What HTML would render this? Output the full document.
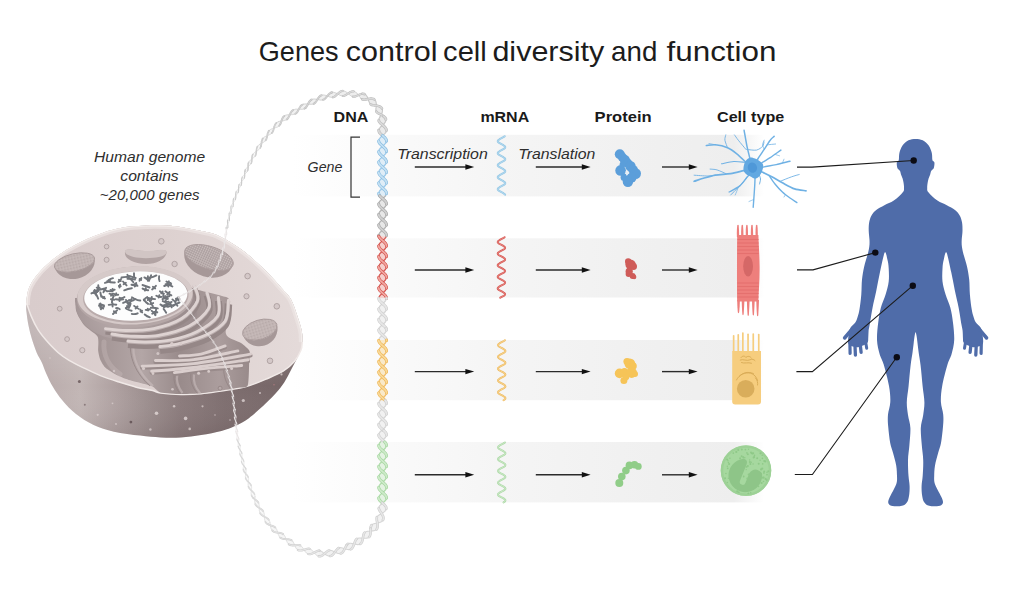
<!DOCTYPE html>
<html lang="en"><head><meta charset="utf-8"><title>Genes control cell diversity and function</title>
<style>
html,body{margin:0;padding:0;background:#fff}
body{width:1024px;height:591px;overflow:hidden;font-family:"Liberation Sans",sans-serif}
svg{display:block}
text{font-family:"Liberation Sans",sans-serif;fill:#2a2a2a}
.t{font-size:27.2px;fill:#1c1c1c}
.h{font-weight:bold;font-size:15.4px;fill:#1a1a1a}
.i{font-style:italic;font-size:15.3px;fill:#2e2e2e}
</style></head><body>
<svg width="1024" height="591" viewBox="0 0 1024 591">
<defs><linearGradient id="band" gradientUnits="userSpaceOnUse" x1="292" y1="0" x2="764" y2="0">
<stop offset="0" stop-color="#fff"/><stop offset="0.08" stop-color="#fdfdfd"/><stop offset="0.21" stop-color="#fafafa"/><stop offset="0.44" stop-color="#f5f5f5"/><stop offset="0.695" stop-color="#f1f1f1"/><stop offset="0.936" stop-color="#eeeeee"/><stop offset="1" stop-color="#fff"/></linearGradient>
<linearGradient id="cside" gradientUnits="userSpaceOnUse" x1="25" y1="0" x2="302" y2="0">
<stop offset="0" stop-color="#b4a6a6"/><stop offset="0.2" stop-color="#c2b6b5"/><stop offset="0.33" stop-color="#aea0a0"/><stop offset="0.45" stop-color="#9a8c8c"/><stop offset="0.56" stop-color="#8a7a7b"/><stop offset="0.72" stop-color="#7d6d6e"/><stop offset="1" stop-color="#746465"/></linearGradient>
<linearGradient id="csideV" gradientUnits="userSpaceOnUse" x1="0" y1="330" x2="0" y2="442">
<stop offset="0" stop-color="#fff" stop-opacity="0.18"/><stop offset="0.5" stop-color="#fff" stop-opacity="0"/><stop offset="1" stop-color="#3b292b" stop-opacity="0.14"/></linearGradient>
<linearGradient id="ctop" gradientUnits="userSpaceOnUse" x1="30" y1="300" x2="300" y2="300">
<stop offset="0" stop-color="#d9cccc"/><stop offset="0.5" stop-color="#ddd1d0"/><stop offset="1" stop-color="#e4dad9"/></linearGradient>
<linearGradient id="cbowl" gradientUnits="userSpaceOnUse" x1="95" y1="0" x2="250" y2="0">
<stop offset="0" stop-color="#a19393"/><stop offset="0.3" stop-color="#b3a6a6"/><stop offset="0.55" stop-color="#998b8b"/><stop offset="0.8" stop-color="#ab9d9d"/><stop offset="1" stop-color="#988a8a"/></linearGradient>
<radialGradient id="cnuc" gradientUnits="userSpaceOnUse" cx="120" cy="310" r="60">
<stop offset="0" stop-color="#bcafaf"/><stop offset="1" stop-color="#9c8e8f"/></radialGradient>
<pattern id="hatch" width="2.2" height="2.2" patternUnits="userSpaceOnUse" patternTransform="rotate(8)">
<rect width="2.2" height="2.2" fill="#c7bbba"/><path d="M0 0.5H2.2M0.5 0V2.2" stroke="#a19393" stroke-width="0.5"/></pattern>
<pattern id="speck" width="3" height="3" patternUnits="userSpaceOnUse">
<rect width="3" height="3" fill="#c2b5b4"/><circle cx="0.8" cy="0.8" r="0.5" fill="#a59797"/><circle cx="2.2" cy="2.1" r="0.5" fill="#d4c8c7"/></pattern>
<clipPath id="cellclip"><path d="M26.3 305.0C26.2 307.7 26.1 308.6 26.5 312.0C26.9 315.4 27.6 321.1 28.5 325.6C29.4 330.1 30.5 334.6 31.9 339.1C33.3 343.6 35.1 348.8 36.7 352.7C38.4 356.6 40.2 359.0 41.8 362.5C43.4 366.0 44.3 369.4 46.2 373.5C48.1 377.6 50.3 382.6 53.0 387.1C55.7 391.6 58.7 396.1 62.5 400.6C66.3 405.1 70.8 410.0 76.0 414.1C81.2 418.2 87.3 422.1 93.6 425.0C99.9 427.9 106.1 429.9 113.9 431.7C121.7 433.5 132.4 434.7 140.2 435.6C148.0 436.6 153.8 437.1 160.6 437.4C167.4 437.7 174.1 437.8 180.9 437.4C187.7 437.0 194.4 436.1 201.2 435.0C208.0 433.9 215.9 432.4 221.5 430.9C227.1 429.4 230.4 428.1 235.0 426.0C239.6 423.9 243.8 421.9 248.9 418.2C254.0 414.4 261.1 407.7 265.6 403.5C270.1 399.3 272.9 396.5 276.0 393.0C279.1 389.5 281.6 386.5 284.2 382.5C286.8 378.5 289.1 373.6 291.5 369.0C293.9 364.4 296.7 359.5 298.5 355.0C300.3 350.5 301.8 346.0 302.3 342.0C302.8 338.0 302.5 335.3 301.7 331.0C300.9 326.7 299.1 321.3 297.3 316.0C295.5 310.7 293.5 303.7 290.8 299.0C288.1 294.3 285.1 292.1 281.2 287.7C277.3 283.3 272.2 277.4 267.7 272.8C263.2 268.2 258.6 263.8 254.1 259.9C249.6 255.9 245.1 252.4 240.6 249.1C236.1 245.8 231.5 242.9 227.0 240.3C222.5 237.7 218.2 235.3 213.5 233.7C208.8 232.0 204.1 231.4 199.0 230.4C193.9 229.4 188.4 228.2 183.0 227.4C177.6 226.6 172.3 225.9 166.5 225.6C160.7 225.3 154.1 225.2 148.0 225.4C141.9 225.6 135.6 225.9 130.0 226.6C124.5 227.2 119.5 228.2 114.7 229.3C109.9 230.4 105.7 231.8 101.2 233.4C96.7 235.0 92.2 236.8 87.7 238.8C83.2 240.8 78.6 243.0 74.1 245.5C69.6 248.0 65.1 250.5 60.6 253.7C56.1 256.9 51.2 260.8 47.1 264.5C43.0 268.2 39.1 272.3 36.2 276.0C33.3 279.7 31.0 283.5 29.5 286.8C28.0 290.1 27.5 293.0 27.0 296.0C26.5 299.0 26.4 302.3 26.3 305.0Z"/></clipPath></defs><rect x="292" y="134.8" width="472" height="61.6" fill="url(#band)"/><rect x="292" y="238.3" width="472" height="59.2" fill="url(#band)"/><rect x="292" y="340.0" width="472" height="60.2" fill="url(#band)"/><rect x="292" y="442.0" width="472" height="60.4" fill="url(#band)"/><path d="M26.3 305.0C26.2 307.7 26.1 308.6 26.5 312.0C26.9 315.4 27.6 321.1 28.5 325.6C29.4 330.1 30.5 334.6 31.9 339.1C33.3 343.6 35.1 348.8 36.7 352.7C38.4 356.6 40.2 359.0 41.8 362.5C43.4 366.0 44.3 369.4 46.2 373.5C48.1 377.6 50.3 382.6 53.0 387.1C55.7 391.6 58.7 396.1 62.5 400.6C66.3 405.1 70.8 410.0 76.0 414.1C81.2 418.2 87.3 422.1 93.6 425.0C99.9 427.9 106.1 429.9 113.9 431.7C121.7 433.5 132.4 434.7 140.2 435.6C148.0 436.6 153.8 437.1 160.6 437.4C167.4 437.7 174.1 437.8 180.9 437.4C187.7 437.0 194.4 436.1 201.2 435.0C208.0 433.9 215.9 432.4 221.5 430.9C227.1 429.4 230.4 428.1 235.0 426.0C239.6 423.9 243.8 421.9 248.9 418.2C254.0 414.4 261.1 407.7 265.6 403.5C270.1 399.3 272.9 396.5 276.0 393.0C279.1 389.5 281.6 386.5 284.2 382.5C286.8 378.5 289.1 373.6 291.5 369.0C293.9 364.4 296.7 359.5 298.5 355.0C300.3 350.5 301.8 346.0 302.3 342.0C302.8 338.0 302.5 335.3 301.7 331.0C300.9 326.7 299.1 321.3 297.3 316.0C295.5 310.7 293.5 303.7 290.8 299.0C288.1 294.3 285.1 292.1 281.2 287.7C277.3 283.3 272.2 277.4 267.7 272.8C263.2 268.2 258.6 263.8 254.1 259.9C249.6 255.9 245.1 252.4 240.6 249.1C236.1 245.8 231.5 242.9 227.0 240.3C222.5 237.7 218.2 235.3 213.5 233.7C208.8 232.0 204.1 231.4 199.0 230.4C193.9 229.4 188.4 228.2 183.0 227.4C177.6 226.6 172.3 225.9 166.5 225.6C160.7 225.3 154.1 225.2 148.0 225.4C141.9 225.6 135.6 225.9 130.0 226.6C124.5 227.2 119.5 228.2 114.7 229.3C109.9 230.4 105.7 231.8 101.2 233.4C96.7 235.0 92.2 236.8 87.7 238.8C83.2 240.8 78.6 243.0 74.1 245.5C69.6 248.0 65.1 250.5 60.6 253.7C56.1 256.9 51.2 260.8 47.1 264.5C43.0 268.2 39.1 272.3 36.2 276.0C33.3 279.7 31.0 283.5 29.5 286.8C28.0 290.1 27.5 293.0 27.0 296.0C26.5 299.0 26.4 302.3 26.3 305.0Z" fill="url(#cside)"/><path d="M26.3 305.0C26.2 307.7 26.1 308.6 26.5 312.0C26.9 315.4 27.6 321.1 28.5 325.6C29.4 330.1 30.5 334.6 31.9 339.1C33.3 343.6 35.1 348.8 36.7 352.7C38.4 356.6 40.2 359.0 41.8 362.5C43.4 366.0 44.3 369.4 46.2 373.5C48.1 377.6 50.3 382.6 53.0 387.1C55.7 391.6 58.7 396.1 62.5 400.6C66.3 405.1 70.8 410.0 76.0 414.1C81.2 418.2 87.3 422.1 93.6 425.0C99.9 427.9 106.1 429.9 113.9 431.7C121.7 433.5 132.4 434.7 140.2 435.6C148.0 436.6 153.8 437.1 160.6 437.4C167.4 437.7 174.1 437.8 180.9 437.4C187.7 437.0 194.4 436.1 201.2 435.0C208.0 433.9 215.9 432.4 221.5 430.9C227.1 429.4 230.4 428.1 235.0 426.0C239.6 423.9 243.8 421.9 248.9 418.2C254.0 414.4 261.1 407.7 265.6 403.5C270.1 399.3 272.9 396.5 276.0 393.0C279.1 389.5 281.6 386.5 284.2 382.5C286.8 378.5 289.1 373.6 291.5 369.0C293.9 364.4 296.7 359.5 298.5 355.0C300.3 350.5 301.8 346.0 302.3 342.0C302.8 338.0 302.5 335.3 301.7 331.0C300.9 326.7 299.1 321.3 297.3 316.0C295.5 310.7 293.5 303.7 290.8 299.0C288.1 294.3 285.1 292.1 281.2 287.7C277.3 283.3 272.2 277.4 267.7 272.8C263.2 268.2 258.6 263.8 254.1 259.9C249.6 255.9 245.1 252.4 240.6 249.1C236.1 245.8 231.5 242.9 227.0 240.3C222.5 237.7 218.2 235.3 213.5 233.7C208.8 232.0 204.1 231.4 199.0 230.4C193.9 229.4 188.4 228.2 183.0 227.4C177.6 226.6 172.3 225.9 166.5 225.6C160.7 225.3 154.1 225.2 148.0 225.4C141.9 225.6 135.6 225.9 130.0 226.6C124.5 227.2 119.5 228.2 114.7 229.3C109.9 230.4 105.7 231.8 101.2 233.4C96.7 235.0 92.2 236.8 87.7 238.8C83.2 240.8 78.6 243.0 74.1 245.5C69.6 248.0 65.1 250.5 60.6 253.7C56.1 256.9 51.2 260.8 47.1 264.5C43.0 268.2 39.1 272.3 36.2 276.0C33.3 279.7 31.0 283.5 29.5 286.8C28.0 290.1 27.5 293.0 27.0 296.0C26.5 299.0 26.4 302.3 26.3 305.0Z" fill="url(#csideV)"/><path d="M302.3 342.0C302.2 340.2 302.5 335.3 301.7 331.0C300.9 326.7 299.1 321.3 297.3 316.0C295.5 310.7 293.5 303.7 290.8 299.0C288.1 294.3 285.1 292.1 281.2 287.7C277.3 283.3 272.2 277.4 267.7 272.8C263.2 268.2 258.6 263.8 254.1 259.9C249.6 255.9 245.1 252.4 240.6 249.1C236.1 245.8 231.5 242.9 227.0 240.3C222.5 237.7 218.2 235.3 213.5 233.7C208.8 232.0 204.1 231.4 199.0 230.4C193.9 229.4 188.4 228.2 183.0 227.4C177.6 226.6 172.3 225.9 166.5 225.6C160.7 225.3 154.1 225.2 148.0 225.4C141.9 225.6 135.6 225.9 130.0 226.6C124.5 227.2 119.5 228.2 114.7 229.3C109.9 230.4 105.7 231.8 101.2 233.4C96.7 235.0 92.2 236.8 87.7 238.8C83.2 240.8 78.6 243.0 74.1 245.5C69.6 248.0 65.1 250.5 60.6 253.7C56.1 256.9 51.2 260.8 47.1 264.5C43.0 268.2 39.1 272.3 36.2 276.0C33.3 279.7 31.0 283.5 29.5 286.8C28.0 290.1 27.5 293.0 27.0 296.0C26.5 299.0 26.4 303.5 26.3 305.0L26.6 303.0C27.4 305.2 29.3 311.7 31.2 316.1C33.1 320.6 35.3 325.4 38.0 329.7C40.7 334.0 44.1 338.0 47.5 341.8C50.9 345.6 54.7 349.6 58.3 352.7C61.9 355.8 64.8 357.8 69.1 360.4C73.4 363.0 78.9 365.6 84.1 368.1C89.3 370.6 94.8 373.3 100.4 375.6C106.1 377.9 112.0 379.8 118.0 381.7C124.0 383.6 130.4 385.7 136.2 387.2C141.9 388.7 148.4 389.6 152.5 390.6C156.6 391.6 155.9 392.4 160.6 393.0C165.3 393.6 174.1 394.3 180.9 394.4C187.7 394.5 194.4 394.3 201.2 393.7C208.0 393.1 215.0 391.9 221.5 391.0C228.0 390.1 235.2 388.9 240.0 388.0C244.8 387.1 246.0 386.8 250.2 385.4C254.4 384.0 259.9 381.8 265.4 379.4C270.9 377.0 278.2 374.2 283.1 371.2C288.0 368.2 291.6 364.7 294.6 361.2C297.6 357.7 299.6 353.5 300.9 350.3C302.2 347.1 302.1 343.4 302.3 342.0Z" fill="url(#ctop)"/><g clip-path="url(#cellclip)"><path d="M302.3 342.0C302.2 340.2 302.5 335.3 301.7 331.0C300.9 326.7 299.1 321.3 297.3 316.0C295.5 310.7 293.5 303.7 290.8 299.0C288.1 294.3 285.1 292.1 281.2 287.7C277.3 283.3 272.2 277.4 267.7 272.8C263.2 268.2 258.6 263.8 254.1 259.9C249.6 255.9 245.1 252.4 240.6 249.1C236.1 245.8 231.5 242.9 227.0 240.3C222.5 237.7 218.2 235.3 213.5 233.7C208.8 232.0 204.1 231.4 199.0 230.4C193.9 229.4 188.4 228.2 183.0 227.4C177.6 226.6 172.3 225.9 166.5 225.6C160.7 225.3 154.1 225.2 148.0 225.4C141.9 225.6 135.6 225.9 130.0 226.6C124.5 227.2 119.5 228.2 114.7 229.3C109.9 230.4 105.7 231.8 101.2 233.4C96.7 235.0 92.2 236.8 87.7 238.8C83.2 240.8 78.6 243.0 74.1 245.5C69.6 248.0 65.1 250.5 60.6 253.7C56.1 256.9 51.2 260.8 47.1 264.5C43.0 268.2 39.1 272.3 36.2 276.0C33.3 279.7 31.0 283.5 29.5 286.8C28.0 290.1 27.5 293.0 27.0 296.0C26.5 299.0 26.4 303.5 26.3 305.0" fill="none" stroke="#ece4e3" stroke-width="7" stroke-opacity="0.75"/><path d="M302.3 342.0C302.2 340.2 302.5 335.3 301.7 331.0C300.9 326.7 299.1 321.3 297.3 316.0C295.5 310.7 293.5 303.7 290.8 299.0C288.1 294.3 285.1 292.1 281.2 287.7C277.3 283.3 272.2 277.4 267.7 272.8C263.2 268.2 258.6 263.8 254.1 259.9C249.6 255.9 245.1 252.4 240.6 249.1C236.1 245.8 231.5 242.9 227.0 240.3C222.5 237.7 218.2 235.3 213.5 233.7C208.8 232.0 204.1 231.4 199.0 230.4C193.9 229.4 188.4 228.2 183.0 227.4C177.6 226.6 172.3 225.9 166.5 225.6C160.7 225.3 154.1 225.2 148.0 225.4C141.9 225.6 135.6 225.9 130.0 226.6C124.5 227.2 119.5 228.2 114.7 229.3C109.9 230.4 105.7 231.8 101.2 233.4C96.7 235.0 92.2 236.8 87.7 238.8C83.2 240.8 78.6 243.0 74.1 245.5C69.6 248.0 65.1 250.5 60.6 253.7C56.1 256.9 51.2 260.8 47.1 264.5C43.0 268.2 39.1 272.3 36.2 276.0C33.3 279.7 31.0 283.5 29.5 286.8C28.0 290.1 27.5 293.0 27.0 296.0C26.5 299.0 26.4 303.5 26.3 305.0" fill="none" stroke="#f4eeec" stroke-width="2.4" stroke-opacity="0.9"/></g><path d="M26.6 303.0C27.4 305.2 29.3 311.7 31.2 316.1C33.1 320.6 35.3 325.4 38.0 329.7C40.7 334.0 44.1 338.0 47.5 341.8C50.9 345.6 54.7 349.6 58.3 352.7C61.9 355.8 64.8 357.8 69.1 360.4C73.4 363.0 78.9 365.6 84.1 368.1C89.3 370.6 94.8 373.3 100.4 375.6C106.1 377.9 112.0 379.8 118.0 381.7C124.0 383.6 130.4 385.7 136.2 387.2C141.9 388.7 148.4 389.6 152.5 390.6C156.6 391.6 155.9 392.4 160.6 393.0C165.3 393.6 174.1 394.3 180.9 394.4C187.7 394.5 194.4 394.3 201.2 393.7C208.0 393.1 215.0 391.9 221.5 391.0C228.0 390.1 235.2 388.9 240.0 388.0C244.8 387.1 246.0 386.8 250.2 385.4C254.4 384.0 259.9 381.8 265.4 379.4C270.9 377.0 278.2 374.2 283.1 371.2C288.0 368.2 291.6 364.7 294.6 361.2C297.6 357.7 299.6 353.5 300.9 350.3C302.2 347.1 302.1 343.4 302.3 342.0" fill="none" stroke="#f0e9e7" stroke-width="1.5"/><circle cx="79.4" cy="381.4" r="1.5" fill="#786769"/><circle cx="84.8" cy="404.7" r="1.0" fill="#8b7b7d"/><circle cx="130.9" cy="422.1" r="1.4" fill="#6b5b5d"/><circle cx="97.7" cy="414.8" r="1.1" fill="#d3c7c7"/><circle cx="112.5" cy="403.3" r="0.9" fill="#d0c4c4"/><circle cx="150.4" cy="429.5" r="1.2" fill="#cabebe"/><circle cx="156.5" cy="413.3" r="1.8" fill="#d4c9c8"/><circle cx="174.1" cy="406.3" r="1.2" fill="#d0c4c4"/><circle cx="185.6" cy="418.4" r="1.8" fill="#d1c5c5"/><circle cx="189.7" cy="428.9" r="1.3" fill="#c5b9b8"/><circle cx="202.5" cy="406.3" r="1.1" fill="#c5b9b8"/><circle cx="243.3" cy="400.5" r="1.6" fill="#cabebe"/><circle cx="230.0" cy="420.0" r="0.9" fill="#aa9c9d"/><circle cx="260.0" cy="393.0" r="1.0" fill="#c5b9b8"/><circle cx="274.0" cy="384.7" r="0.8" fill="#a8787c"/><circle cx="281.5" cy="374.4" r="1.1" fill="#c5b9b8"/><circle cx="50.0" cy="358.0" r="0.8" fill="#d5cac9"/><circle cx="116.0" cy="424.0" r="0.9" fill="#d0c4c4"/><circle cx="215.0" cy="415.0" r="0.9" fill="#aa9c9d"/><path d="M76.0 306.0C74.1 311.2 81.5 321.5 84.0 325.0C86.5 328.5 95.8 333.4 97.5 336.4C99.2 339.4 97.9 348.2 98.2 351.0C98.5 353.8 99.5 358.0 100.4 360.0C101.3 362.0 103.9 366.4 105.8 368.1C107.7 369.8 113.8 373.5 116.6 374.9C119.4 376.3 127.3 379.4 130.1 380.3C132.9 381.2 137.7 382.2 140.3 382.9C142.9 383.6 150.1 385.3 152.5 386.4C154.9 387.5 157.3 391.5 160.6 392.4C163.9 393.3 176.2 393.9 180.9 394.0C185.6 394.1 196.5 393.7 201.2 393.3C205.9 392.9 217.0 391.3 221.5 390.6C226.0 389.9 236.9 388.2 240.0 387.6C243.1 387.0 246.7 388.2 247.8 385.2C248.9 382.2 249.0 365.6 249.2 361.6C249.4 357.6 250.5 353.2 249.5 351.0C248.5 348.8 243.7 345.0 241.0 343.0C238.3 341.0 227.3 338.9 226.0 334.0C224.7 329.1 230.0 305.4 229.5 301.0C229.0 296.6 226.4 297.5 222.0 296.0C217.6 294.5 200.4 291.0 192.0 288.0C183.6 285.0 160.7 270.9 150.0 270.0C139.3 269.1 108.6 275.8 100.0 280.0C91.4 284.2 77.9 300.8 76.0 306.0Z" fill="url(#cbowl)"/><g fill="none" stroke="#908182" stroke-width="1" stroke-opacity="0.75"><path d="M131 340C128 356 136 374 150 386"/><path d="M174.4 373C173 380 175 387 179.5 393"/><path d="M190.9 373.8C190 381 192.5 388 197.3 393.4"/><path d="M223.9 366.8C223 375 226 384 231.6 390"/></g><g fill="none" stroke="#ccc0c0" stroke-width="2.2" stroke-opacity="0.55"><path d="M134 341C131 357 139 374 153 386"/><path d="M177.4 374C176 380 178 387 182.5 393"/><path d="M194 374.5C193 381 195.5 388 200.3 393.4"/></g><path d="M104 342C103 354 108 366 120 374" fill="none" stroke="#cabebe" stroke-width="5" stroke-opacity="0.35" stroke-linecap="round"/><path d="M75 298C74.5 316 84 329 104 336.5C135 346 176 340 195 322C199 313 197 300 193 291Z" fill="url(#cnuc)"/><path d="M194.3 285.5C194.8 288.0 199.6 295.2 197.5 300.7C195.4 306.2 188.9 313.9 181.6 318.5C174.3 323.1 163.0 326.6 153.7 328.6C144.4 330.6 133.8 330.5 125.8 330.5C117.8 330.5 108.9 328.9 105.5 328.6" fill="none" stroke="#958787" stroke-width="6.0" stroke-linecap="butt" transform="translate(0,3.0)"/><path d="M194.3 285.5C194.8 288.0 199.6 295.2 197.5 300.7C195.4 306.2 188.9 313.9 181.6 318.5C174.3 323.1 163.0 326.6 153.7 328.6C144.4 330.6 133.8 330.5 125.8 330.5C117.8 330.5 108.9 328.9 105.5 328.6" fill="none" stroke="#baadad" stroke-width="3.4" stroke-linecap="round" transform="translate(0,0.9)"/><path d="M194.3 285.5C194.8 288.0 199.6 295.2 197.5 300.7C195.4 306.2 188.9 313.9 181.6 318.5C174.3 323.1 163.0 326.6 153.7 328.6C144.4 330.6 133.8 330.5 125.8 330.5C117.8 330.5 108.9 328.9 105.5 328.6" fill="none" stroke="#ded3d2" stroke-width="2.9" stroke-linecap="round"/><path d="M207.0 292.5C207.3 295.1 211.6 302.8 208.6 308.4C205.6 314.0 197.5 321.6 189.2 326.1C180.9 330.6 168.5 333.7 158.8 335.4C149.1 337.1 138.7 336.4 130.9 336.2C123.1 336.0 115.2 334.4 112.0 334.0" fill="none" stroke="#958787" stroke-width="6.5" stroke-linecap="butt" transform="translate(0,3.2)"/><path d="M207.0 292.5C207.3 295.1 211.6 302.8 208.6 308.4C205.6 314.0 197.5 321.6 189.2 326.1C180.9 330.6 168.5 333.7 158.8 335.4C149.1 337.1 138.7 336.4 130.9 336.2C123.1 336.0 115.2 334.4 112.0 334.0" fill="none" stroke="#baadad" stroke-width="3.4" stroke-linecap="round" transform="translate(0,0.9)"/><path d="M207.0 292.5C207.3 295.1 211.6 302.8 208.6 308.4C205.6 314.0 197.5 321.6 189.2 326.1C180.9 330.6 168.5 333.7 158.8 335.4C149.1 337.1 138.7 336.4 130.9 336.2C123.1 336.0 115.2 334.4 112.0 334.0" fill="none" stroke="#ded3d2" stroke-width="2.9" stroke-linecap="round"/><path d="M218.4 297.5C218.3 300.6 221.2 310.3 217.6 316.0C214.0 321.7 204.5 327.8 196.8 331.8C189.1 335.8 180.0 338.1 171.5 339.8C163.0 341.5 153.2 341.8 146.0 342.0C138.8 342.2 131.0 341.2 128.0 341.0" fill="none" stroke="#958787" stroke-width="7.0" stroke-linecap="butt" transform="translate(0,3.5)"/><path d="M218.4 297.5C218.3 300.6 221.2 310.3 217.6 316.0C214.0 321.7 204.5 327.8 196.8 331.8C189.1 335.8 180.0 338.1 171.5 339.8C163.0 341.5 153.2 341.8 146.0 342.0C138.8 342.2 131.0 341.2 128.0 341.0" fill="none" stroke="#baadad" stroke-width="3.4" stroke-linecap="round" transform="translate(0,0.9)"/><path d="M218.4 297.5C218.3 300.6 221.2 310.3 217.6 316.0C214.0 321.7 204.5 327.8 196.8 331.8C189.1 335.8 180.0 338.1 171.5 339.8C163.0 341.5 153.2 341.8 146.0 342.0C138.8 342.2 131.0 341.2 128.0 341.0" fill="none" stroke="#ded3d2" stroke-width="2.9" stroke-linecap="round"/><path d="M228.5 300.2C227.9 303.7 228.8 315.3 225.2 321.0C221.6 326.7 214.7 330.7 207.0 334.5C199.3 338.3 186.9 341.6 179.1 343.6C171.3 345.6 163.2 346.0 160.0 346.5" fill="none" stroke="#958787" stroke-width="7.5" stroke-linecap="butt" transform="translate(0,3.8)"/><path d="M228.5 300.2C227.9 303.7 228.8 315.3 225.2 321.0C221.6 326.7 214.7 330.7 207.0 334.5C199.3 338.3 186.9 341.6 179.1 343.6C171.3 345.6 163.2 346.0 160.0 346.5" fill="none" stroke="#baadad" stroke-width="3.4" stroke-linecap="round" transform="translate(0,0.9)"/><path d="M228.5 300.2C227.9 303.7 228.8 315.3 225.2 321.0C221.6 326.7 214.7 330.7 207.0 334.5C199.3 338.3 186.9 341.6 179.1 343.6C171.3 345.6 163.2 346.0 160.0 346.5" fill="none" stroke="#ded3d2" stroke-width="2.9" stroke-linecap="round"/><ellipse cx="135" cy="297" rx="58.2" ry="30.5" fill="#b4a6a6" transform="rotate(-3 135 297)"/><ellipse cx="135" cy="295.3" rx="57.7" ry="29.2" fill="#d6cac9" transform="rotate(-3 135 295.3)"/><ellipse cx="135.8" cy="297" rx="52.8" ry="25.8" fill="#baacac" transform="rotate(-3 135.8 297)"/><ellipse cx="135.8" cy="296" rx="51.6" ry="24.6" fill="#fdfdfd" transform="rotate(-3 135.8 296)"/><g fill="none" stroke="#70747a" stroke-width="1.9" stroke-linecap="round"><path d="M130.3 302.0Q129.3 303.4 128.3 304.7"/><path d="M128.5 302.9L130.1 303.8"/><path d="M162.7 301.1Q165.6 302.4 168.6 301.6"/><path d="M165.5 302.7L165.8 300.1"/><path d="M99.4 304.1Q101.8 304.5 104.0 305.4"/><path d="M114.7 289.7Q112.7 290.7 110.5 289.9"/><path d="M112.6 288.9L112.7 290.7"/><path d="M143.8 299.5Q145.5 302.2 148.1 303.9"/><path d="M120.1 284.6Q119.1 286.0 119.5 287.6"/><path d="M118.9 286.0L120.7 286.3"/><path d="M123.0 281.5Q124.7 283.5 126.6 285.4"/><path d="M123.6 284.3L125.9 282.7"/><path d="M144.4 277.4Q146.8 279.0 149.1 280.6"/><path d="M136.1 284.6Q133.8 284.5 131.5 284.8"/><path d="M150.9 307.8Q154.4 307.4 157.8 308.4"/><path d="M155.9 285.8Q154.1 287.8 152.1 289.5"/><path d="M152.9 286.8L155.2 288.5"/><path d="M159.1 276.2Q158.6 278.7 159.6 281.1"/><path d="M113.0 278.2Q110.7 278.9 108.6 280.1"/><path d="M164.0 297.2Q165.6 298.9 167.9 298.8"/><path d="M150.3 301.1Q151.0 304.0 152.9 306.2"/><path d="M150.1 304.2L153.2 303.1"/><path d="M100.4 289.2Q98.0 289.7 95.6 290.7"/><path d="M97.6 288.9L98.5 291.0"/><path d="M166.4 281.5Q168.3 282.8 170.6 283.0"/><path d="M168.0 283.2L168.9 281.3"/><path d="M102.3 296.5Q103.6 297.7 105.0 298.6"/><path d="M103.1 298.1L104.3 296.9"/><path d="M98.3 285.3Q98.4 287.7 97.9 290.0"/><path d="M96.7 287.6L99.5 287.7"/><path d="M171.2 284.0Q167.6 284.7 164.2 286.0"/><path d="M167.1 283.4L168.3 286.5"/><path d="M162.2 305.9Q164.2 306.9 166.4 306.5"/><path d="M164.1 307.2L164.4 305.3"/><path d="M129.1 300.1Q131.5 301.1 133.8 300.1"/><path d="M131.5 301.1L131.5 299.0"/><path d="M177.6 297.6Q176.4 298.9 176.0 300.7"/><path d="M175.9 298.8L177.7 299.5"/><path d="M130.5 300.2Q126.8 301.5 123.1 302.9"/><path d="M126.0 299.9L127.6 303.3"/><path d="M147.5 297.9Q149.2 299.1 149.9 301.1"/><path d="M147.7 300.0L149.6 298.9"/><path d="M178.8 297.4Q178.7 299.0 178.4 300.6"/><path d="M177.7 298.9L179.6 299.1"/><path d="M97.8 291.3Q94.4 291.8 91.4 293.4"/><path d="M94.0 290.9L95.2 293.8"/><path d="M156.1 309.5Q155.5 312.1 155.4 314.7"/><path d="M154.2 311.9L157.3 312.3"/><path d="M156.4 275.4Q153.3 277.2 149.6 277.7"/><path d="M140.4 309.8Q140.6 311.6 142.2 312.4"/><path d="M140.6 311.5L142.1 310.7"/><path d="M137.7 313.3Q134.8 314.6 131.8 313.9"/><path d="M160.0 291.3Q161.6 293.0 163.9 293.6"/><path d="M161.3 293.3L162.6 291.6"/><path d="M110.2 280.9Q107.7 282.2 104.9 282.9"/><path d="M170.7 304.0Q167.3 305.3 163.6 305.5"/><path d="M166.7 303.1L167.6 306.3"/><path d="M151.6 310.7Q154.2 312.4 155.4 315.2"/><path d="M152.2 313.8L154.9 312.1"/><path d="M104.0 306.7Q102.0 307.4 100.9 309.2"/><path d="M101.7 307.3L103.2 308.6"/><path d="M165.6 284.1Q169.3 284.3 172.4 286.5"/><path d="M116.0 308.1Q118.2 307.6 119.7 309.2"/><path d="M94.7 289.9Q96.0 292.4 96.3 295.3"/><path d="M93.9 293.0L97.1 292.2"/><path d="M134.1 305.9Q136.3 307.9 138.9 309.0"/><path d="M135.6 308.5L137.5 306.4"/><path d="M163.6 308.9Q165.0 310.7 166.2 312.7"/><path d="M100.4 303.5Q100.4 305.7 100.3 307.9"/><path d="M99.0 305.7L101.7 305.7"/><path d="M115.8 299.3Q119.5 300.1 123.3 299.4"/><path d="M119.5 301.0L119.6 297.6"/><path d="M130.1 278.5Q131.9 280.3 133.4 282.3"/><path d="M160.4 304.5Q162.6 305.3 164.2 307.1"/><path d="M104.7 288.5Q101.9 289.3 99.0 289.6"/><path d="M100.4 292.5Q100.8 294.7 101.3 296.9"/><path d="M126.6 276.9Q124.1 277.3 121.5 277.5"/><path d="M142.6 288.6Q145.1 290.3 148.2 290.2"/><path d="M144.9 290.6L145.9 288.1"/><path d="M171.7 301.9Q168.2 303.0 165.5 305.4"/><path d="M131.9 288.2Q127.9 288.6 124.2 290.3"/><path d="M116.3 304.7Q112.5 304.0 108.7 304.9"/><path d="M112.5 303.1L112.6 306.5"/><path d="M109.5 293.7Q111.9 294.4 113.9 295.9"/><path d="M111.0 295.8L112.3 293.8"/><path d="M107.0 291.2Q109.7 291.0 112.4 291.4"/><path d="M179.6 302.5Q175.9 303.5 173.1 306.0"/><path d="M175.3 302.8L177.4 305.7"/><path d="M172.4 299.4Q173.8 300.7 175.4 301.8"/><path d="M142.5 285.0Q146.1 286.1 149.6 287.5"/><path d="M147.2 297.0Q145.0 298.1 144.0 300.4"/><path d="M107.3 281.1Q110.8 282.8 114.8 282.5"/><path d="M113.3 296.7Q112.2 299.4 111.9 302.3"/><path d="M110.9 299.2L114.3 299.8"/><path d="M113.7 293.7Q115.7 295.3 118.2 294.8"/><path d="M115.6 295.3L116.3 293.3"/><path d="M129.6 305.5Q127.7 306.8 125.8 308.1"/><path d="M127.0 305.9L128.5 307.7"/><path d="M132.0 297.3Q133.7 297.9 134.9 299.3"/><path d="M150.1 309.2Q148.0 310.3 145.7 309.9"/><path d="M147.7 308.6L148.1 310.5"/><path d="M96.2 294.5Q97.5 296.5 98.2 298.7"/><path d="M117.1 310.2Q114.9 312.0 113.0 314.0"/><path d="M113.9 311.2L116.2 313.0"/><path d="M148.0 298.0Q151.4 299.1 155.1 299.1"/><path d="M151.2 300.1L151.8 297.0"/><path d="M174.3 304.9Q170.9 305.3 167.9 306.8"/><path d="M170.5 304.4L171.7 307.3"/><path d="M126.3 308.8Q128.8 310.3 131.6 310.8"/><path d="M165.4 291.3Q168.2 293.7 171.4 295.3"/><path d="M167.2 294.7L169.6 292.0"/><path d="M163.3 293.9Q163.1 296.1 163.8 298.3"/><path d="M156.3 295.8Q158.9 297.4 161.8 296.9"/><path d="M158.7 297.6L159.4 295.1"/><path d="M130.6 303.5Q130.2 305.8 129.0 307.8"/><path d="M127.3 274.8Q128.9 276.2 129.1 278.4"/><path d="M127.1 277.0L129.3 276.2"/><path d="M127.4 278.9Q131.3 278.3 135.0 279.6"/><path d="M130.0 276.1Q132.8 277.0 135.7 278.0"/><path d="M151.1 275.2Q150.4 278.0 149.0 280.6"/><path d="M135.2 298.9Q137.5 300.6 140.3 300.5"/><path d="M106.1 287.7Q104.7 290.0 103.4 292.2"/><path d="M103.4 289.4L106.1 290.6"/><path d="M147.9 276.3Q148.1 278.5 147.8 280.7"/><path d="M146.5 278.5L149.2 278.5"/><path d="M132.5 285.0Q135.1 284.9 137.5 285.8"/><path d="M134.7 286.5L135.2 284.3"/><path d="M134.0 273.2Q134.0 275.1 134.1 277.1"/><path d="M141.4 278.1Q139.9 279.1 139.5 280.8"/><path d="M139.6 279.1L141.2 279.9"/><path d="M136.2 283.0Q135.1 284.1 135.4 285.7"/><path d="M134.9 284.1L136.6 284.5"/><path d="M121.2 278.9Q119.8 280.5 118.4 282.0"/><path d="M118.9 279.8L120.8 281.1"/><path d="M124.5 297.0Q122.5 298.6 119.9 298.1"/><path d="M169.5 296.0Q165.9 297.5 162.5 299.1"/><path d="M165.1 296.0L166.9 299.1"/><path d="M144.7 314.5Q147.0 316.6 149.9 317.3"/></g><path d="M179.5 356.0C183.1 355.7 193.5 355.8 201.1 354.1C208.7 352.4 221.2 347.3 225.2 345.9" fill="none" stroke="#998b8b" stroke-width="4.0" stroke-linecap="round" transform="translate(0,1.4)"/><path d="M155.4 360.5C161.8 360.4 179.8 361.2 193.5 359.6C207.2 358.0 230.5 352.3 237.9 350.9" fill="none" stroke="#998b8b" stroke-width="4.0" stroke-linecap="round" transform="translate(0,1.4)"/><path d="M142.1 366.2C150.7 365.8 175.4 365.6 193.5 363.6C211.6 361.6 241.1 355.7 250.6 354.1" fill="none" stroke="#998b8b" stroke-width="4.0" stroke-linecap="round" transform="translate(0,1.4)"/><path d="M151.6 371.3C158.6 370.7 177.4 369.4 193.5 367.5C209.6 365.6 239.0 361.1 248.1 359.8" fill="none" stroke="#998b8b" stroke-width="4.0" stroke-linecap="round" transform="translate(0,1.4)"/><path d="M174.4 372.6C179.7 371.9 195.0 369.6 206.2 368.4C217.4 367.2 235.8 366.0 241.7 365.5" fill="none" stroke="#998b8b" stroke-width="4.0" stroke-linecap="round" transform="translate(0,1.4)"/><path d="M179.5 356.0C183.1 355.7 193.5 355.8 201.1 354.1C208.7 352.4 221.2 347.3 225.2 345.9" fill="none" stroke="#dacecd" stroke-width="2.9" stroke-linecap="round"/><path d="M155.4 360.5C161.8 360.4 179.8 361.2 193.5 359.6C207.2 358.0 230.5 352.3 237.9 350.9" fill="none" stroke="#dacecd" stroke-width="2.9" stroke-linecap="round"/><path d="M142.1 366.2C150.7 365.8 175.4 365.6 193.5 363.6C211.6 361.6 241.1 355.7 250.6 354.1" fill="none" stroke="#dacecd" stroke-width="2.9" stroke-linecap="round"/><path d="M151.6 371.3C158.6 370.7 177.4 369.4 193.5 367.5C209.6 365.6 239.0 361.1 248.1 359.8" fill="none" stroke="#dacecd" stroke-width="2.9" stroke-linecap="round"/><path d="M174.4 372.6C179.7 371.9 195.0 369.6 206.2 368.4C217.4 367.2 235.8 366.0 241.7 365.5" fill="none" stroke="#dacecd" stroke-width="2.9" stroke-linecap="round"/><circle cx="171.9" cy="343.5" r="1.6" fill="#d7cbca"/><circle cx="180.8" cy="343.8" r="1.5" fill="#d7cbca"/><circle cx="198.6" cy="373.2" r="1.5" fill="#d7cbca"/><circle cx="208.7" cy="371.4" r="1.4" fill="#d7cbca"/><circle cx="231.6" cy="368.6" r="1.5" fill="#d7cbca"/><circle cx="143.5" cy="368.5" r="1.6" fill="#d7cbca"/><circle cx="153.0" cy="373.5" r="1.4" fill="#d7cbca"/><circle cx="157.9" cy="353.5" r="1.5" fill="#d0c4c4"/><circle cx="172.5" cy="389.2" r="1.3" fill="#d0c4c4"/><circle cx="114.0" cy="371.0" r="1.2" fill="#d0c4c4"/><circle cx="220.1" cy="388.2" r="2.0" fill="#b6a8a8" stroke="#908182" stroke-width="0.8"/><g transform="rotate(-13 74.5 262.5)"><path d="M54.0 262.5A20.5 16.3 0 0 0 95.0 262.5L95.0 262.5A20.5 8.8 0 0 1 54.0 262.5Z" fill="#a69898"/><ellipse cx="74.5" cy="262.5" rx="20.5" ry="8.8" fill="url(#speck)" stroke="#a89a9a" stroke-width="0.9"/></g><g transform="rotate(17 209 257.5)"><path d="M183.8 257.5A25.2 19.7 0 0 0 234.2 257.5L234.2 257.5A25.2 11.2 0 0 1 183.8 257.5Z" fill="#a69898"/><ellipse cx="209.0" cy="257.5" rx="25.2" ry="11.2" fill="url(#hatch)" stroke="#a89a9a" stroke-width="0.9"/></g><g transform="rotate(-17 259.8 329.6)"><path d="M242.0 329.6A17.8 16.6 0 0 0 277.6 329.6L277.6 329.6A17.8 9.6 0 0 1 242.0 329.6Z" fill="#a69898"/><ellipse cx="259.8" cy="329.6" rx="17.8" ry="9.6" fill="url(#speck)" stroke="#a89a9a" stroke-width="0.9"/></g><path d="M125 252C124 258 132 263.5 146 264C158 264 165 259 166.5 253C167 250 163 249.5 158 250.5C150 252 140 251 132 249.8C127 249 125 250 125 252Z" fill="#b1a3a3"/><path d="M125 251.5C125 255 133 258 146 258.2C158 258 166 256 166.5 252.5C167 250 163 249.3 158 250.3C150 251.8 140 251 132 249.6C127 248.8 125 249.6 125 251.5Z" fill="#d1c5c4"/><circle cx="106.6" cy="246.6" r="2.3" fill="#d4c8c8" stroke="#ac9e9e" stroke-width="0.9"/><circle cx="106.6" cy="259.8" r="2.5" fill="#d4c8c8" stroke="#ac9e9e" stroke-width="0.9"/><circle cx="161.3" cy="241.3" r="2.8" fill="#d4c8c8" stroke="#ac9e9e" stroke-width="0.9"/><circle cx="59.7" cy="308.7" r="2.4" fill="#d4c8c8" stroke="#ac9e9e" stroke-width="0.9"/><circle cx="174.6" cy="264.0" r="2.7" fill="#d4c8c8" stroke="#ac9e9e" stroke-width="0.9"/><circle cx="247.6" cy="276.1" r="2.8" fill="#d4c8c8" stroke="#ac9e9e" stroke-width="0.9"/><circle cx="246.5" cy="296.3" r="2.6" fill="#d4c8c8" stroke="#ac9e9e" stroke-width="0.9"/><circle cx="276.8" cy="306.3" r="2.8" fill="#d4c8c8" stroke="#ac9e9e" stroke-width="0.9"/><circle cx="270.0" cy="360.8" r="2.8" fill="#d4c8c8" stroke="#ac9e9e" stroke-width="0.9"/><circle cx="67.1" cy="339.1" r="2.4" fill="#d4c8c8" stroke="#ac9e9e" stroke-width="0.9"/><circle cx="82.3" cy="350.2" r="2.6" fill="#d4c8c8" stroke="#ac9e9e" stroke-width="0.9"/><g fill="none" stroke-linejoin="round" stroke-linecap="round"><path d="M178.6 297.7L179.0 297.4L179.5 297.2L179.9 296.9L180.3 296.5L180.7 296.2L181.0 295.9L181.4 295.5L181.8 295.2L182.2 294.9L182.6 294.6L183.1 294.3L183.5 294.1L183.9 293.9L184.4 293.7L184.9 293.5L185.4 293.4L185.9 293.2L186.4 293.1L186.9 293.0L187.4 292.8L187.8 292.7L188.3 292.5L188.8 292.3L189.2 292.1L189.7 291.9L190.1 291.6L190.5 291.3L190.9 291.0L191.3 290.6L191.6 290.3L192.0 289.9L192.4 289.5L192.8 289.2L193.1 288.9L193.5 288.5L193.9 288.2L194.4 288.0L194.8 287.7L195.2 287.5L195.7 287.3L196.2 287.1L196.7 287.0L197.1 286.8L197.6 286.6L198.1 286.4L198.6 286.2L199.0 286.0L199.5 285.8L199.9 285.5L200.3 285.2L200.7 284.9L201.1 284.6L201.4 284.2L201.8 283.8L202.1 283.4L202.4 283.0L202.8 282.6L203.1 282.3L203.5 281.9L203.8 281.5L204.4 282.4L204.0 282.6L203.5 282.8L203.0 283.0L202.5 283.2L202.0 283.3L201.6 283.5L201.1 283.7L200.6 283.9L200.2 284.1L199.7 284.4L199.3 284.6L198.9 284.9L198.5 285.3L198.2 285.6L197.8 286.0L197.5 286.4L197.1 286.8L196.8 287.2L196.4 287.5L196.1 287.9L195.7 288.2L195.3 288.6L194.9 288.9L194.5 289.1L194.0 289.3L193.5 289.5L193.1 289.7L192.6 289.9L192.1 290.0L191.6 290.2L191.1 290.3L190.6 290.5L190.1 290.6L189.7 290.8L189.2 291.0L188.8 291.2L188.3 291.5L187.9 291.8L187.5 292.1L187.1 292.4L186.8 292.8L186.4 293.1L186.0 293.5L185.6 293.8L185.2 294.1L184.8 294.4L184.4 294.7L183.9 294.9L183.5 295.1L183.0 295.3L182.5 295.5L182.0 295.6L181.5 295.8L181.0 295.9L180.6 296.0L180.1 296.2L179.6 296.3L179.1 296.5L178.6 296.7L178.2 296.9Z" fill="#f1eeee" fill-opacity="0.09" stroke="none"/><path d="M203.8 281.5L204.2 281.2L204.6 280.9L205.0 280.6L205.4 280.4L205.9 280.1L206.3 279.9L206.8 279.7L207.3 279.5L207.8 279.3L208.2 279.1L208.7 278.8L209.1 278.6L209.6 278.3L210.0 278.0L210.3 277.6L210.7 277.2L211.0 276.8L211.3 276.4L211.5 275.9L211.8 275.5L212.0 275.0L212.2 274.5L212.4 274.1L212.6 273.6L212.8 273.2L213.1 272.7L213.3 272.3L213.6 271.9L213.9 271.5L214.2 271.1L214.6 270.8L214.9 270.4L215.3 270.0L215.7 269.7L216.1 269.3L216.4 268.9L216.7 268.5L217.1 268.1L217.3 267.7L217.6 267.3L217.8 266.8L218.0 266.3L218.1 265.8L218.2 265.3L218.3 264.8L218.4 264.3L218.4 263.8L218.5 263.3L218.5 262.8L218.6 262.2L218.7 261.7L218.8 261.3L218.9 260.8L219.1 260.3L219.3 259.8L219.5 259.4L219.7 259.0L220.0 258.5L220.3 258.1L220.6 257.7L220.7 257.7L220.7 258.2L220.7 258.7L220.6 259.3L220.5 259.8L220.4 260.3L220.3 260.7L220.1 261.2L219.9 261.7L219.7 262.1L219.4 262.6L219.1 263.0L218.8 263.4L218.4 263.8L218.1 264.2L217.8 264.6L217.5 265.0L217.2 265.4L216.9 265.9L216.7 266.3L216.5 266.7L216.3 267.2L216.1 267.7L216.0 268.2L215.9 268.7L215.8 269.2L215.7 269.7L215.5 270.2L215.4 270.7L215.3 271.2L215.1 271.7L214.9 272.1L214.6 272.6L214.3 273.0L214.0 273.4L213.6 273.8L213.3 274.1L212.8 274.4L212.4 274.7L212.0 275.0L211.5 275.3L211.1 275.6L210.7 275.9L210.3 276.1L209.9 276.4L209.5 276.8L209.2 277.1L208.8 277.5L208.5 277.9L208.2 278.3L207.9 278.7L207.6 279.1L207.3 279.5L207.0 279.9L206.7 280.4L206.4 280.8L206.0 281.1L205.7 281.5L205.3 281.8L204.9 282.1L204.4 282.4Z" fill="#f1eeee" fill-opacity="0.11" stroke="none"/><path d="M220.6 257.7L220.9 257.3L221.2 256.8L221.5 256.4L221.8 255.9L222.0 255.5L222.2 255.0L222.4 254.6L222.5 254.1L222.6 253.6L222.7 253.1L222.7 252.6L222.7 252.0L222.7 251.5L222.7 251.0L222.7 250.5L222.7 249.9L222.7 249.4L222.7 248.9L222.8 248.4L222.9 247.9L223.0 247.5L223.2 247.0L223.4 246.5L223.6 246.1L223.8 245.6L224.1 245.2L224.4 244.7L224.6 244.3L224.9 243.8L225.1 243.3L225.3 242.8L225.5 242.4L225.6 241.9L225.7 241.4L225.8 240.9L225.8 240.4L225.8 239.9L225.7 239.4L225.6 238.8L225.5 238.3L225.4 237.8L225.3 237.3L225.2 236.8L225.1 236.3L225.1 235.7L225.0 235.2L225.1 234.7L225.1 234.2L225.2 233.7L225.3 233.2L225.5 232.8L225.7 232.3L225.9 231.8L226.2 231.3L226.4 230.9L226.7 230.4L226.9 229.9L227.1 229.5L227.3 229.0L227.5 228.5L226.1 228.3L226.1 228.8L226.1 229.3L226.2 229.8L226.2 230.3L226.3 230.9L226.4 231.4L226.5 231.9L226.6 232.4L226.7 232.9L226.7 233.4L226.7 233.9L226.6 234.4L226.6 234.9L226.5 235.4L226.3 235.9L226.1 236.4L225.9 236.9L225.7 237.3L225.5 237.8L225.2 238.3L225.0 238.8L224.8 239.2L224.6 239.7L224.5 240.2L224.3 240.7L224.2 241.2L224.2 241.7L224.2 242.2L224.2 242.7L224.2 243.2L224.3 243.7L224.3 244.2L224.4 244.7L224.5 245.2L224.5 245.8L224.5 246.3L224.5 246.8L224.5 247.3L224.4 247.8L224.2 248.3L224.1 248.8L223.9 249.2L223.6 249.7L223.4 250.1L223.1 250.6L222.8 251.0L222.5 251.5L222.2 251.9L221.9 252.3L221.7 252.8L221.4 253.2L221.2 253.7L221.1 254.2L220.9 254.6L220.8 255.1L220.8 255.6L220.7 256.1L220.7 256.7L220.7 257.2L220.7 257.7Z" fill="#f1eeee" fill-opacity="0.13" stroke="none"/><path d="M227.5 228.5L227.7 228.1L227.8 227.6L227.9 227.1L227.9 226.6L227.9 226.1L227.9 225.6L227.8 225.0L227.8 224.5L227.7 224.0L227.6 223.5L227.6 222.9L227.5 222.4L227.5 221.9L227.5 221.4L227.5 220.9L227.6 220.4L227.7 219.9L227.9 219.4L228.1 219.0L228.3 218.5L228.6 218.0L228.9 217.6L229.2 217.1L229.5 216.7L229.7 216.3L230.0 215.8L230.3 215.4L230.5 214.9L230.7 214.4L230.9 214.0L231.0 213.5L231.1 213.0L231.2 212.5L231.2 212.0L231.2 211.5L231.1 210.9L231.1 210.4L231.0 209.9L231.0 209.3L230.9 208.8L230.9 208.3L230.9 207.8L230.9 207.3L231.0 206.7L231.1 206.3L231.3 205.8L231.5 205.3L231.7 204.9L232.0 204.4L232.3 204.0L232.6 203.6L232.9 203.1L233.3 202.7L233.6 202.3L234.0 201.9L234.3 201.5L234.6 201.1L234.9 200.6L235.1 200.2L235.3 199.7L233.5 199.1L233.3 199.6L233.2 200.1L233.2 200.6L233.1 201.1L233.1 201.6L233.2 202.2L233.2 202.7L233.2 203.2L233.2 203.8L233.3 204.3L233.2 204.8L233.2 205.3L233.1 205.8L233.0 206.3L232.9 206.8L232.7 207.3L232.5 207.7L232.3 208.2L232.0 208.6L231.7 209.0L231.4 209.5L231.1 209.9L230.7 210.3L230.4 210.8L230.1 211.2L229.9 211.6L229.6 212.1L229.4 212.6L229.3 213.1L229.2 213.5L229.1 214.0L229.1 214.5L229.1 215.1L229.1 215.6L229.1 216.1L229.2 216.6L229.3 217.2L229.3 217.7L229.4 218.2L229.4 218.7L229.5 219.3L229.4 219.8L229.4 220.3L229.3 220.8L229.2 221.2L229.0 221.7L228.8 222.2L228.5 222.6L228.3 223.1L228.0 223.5L227.7 224.0L227.4 224.4L227.2 224.9L226.9 225.4L226.7 225.8L226.5 226.3L226.3 226.8L226.2 227.3L226.1 227.8L226.1 228.3Z" fill="#e2e2e2" fill-opacity="0.16" stroke="none"/><path d="M235.3 199.7L235.5 199.3L235.6 198.8L235.7 198.3L235.7 197.8L235.8 197.3L235.8 196.7L235.8 196.2L235.8 195.6L235.7 195.1L235.7 194.6L235.8 194.0L235.8 193.5L235.9 193.0L236.0 192.5L236.1 192.0L236.3 191.6L236.5 191.1L236.8 190.7L237.1 190.3L237.4 189.9L237.8 189.5L238.2 189.1L238.5 188.7L238.9 188.3L239.3 187.9L239.7 187.5L240.0 187.1L240.3 186.7L240.6 186.3L240.9 185.9L241.1 185.4L241.2 184.9L241.4 184.5L241.5 184.0L241.5 183.4L241.6 182.9L241.6 182.4L241.6 181.8L241.6 181.3L241.6 180.8L241.6 180.2L241.6 179.7L241.7 179.2L241.8 178.6L241.9 178.2L242.1 177.7L242.2 177.2L242.5 176.8L242.7 176.3L243.1 175.9L243.4 175.5L243.8 175.1L244.1 174.8L244.5 174.4L244.9 174.0L245.3 173.7L245.7 173.3L246.1 172.9L246.5 172.5L246.8 172.1L244.9 171.3L244.8 171.8L244.8 172.3L244.7 172.8L244.7 173.4L244.7 173.9L244.7 174.5L244.7 175.0L244.7 175.6L244.7 176.1L244.6 176.6L244.5 177.1L244.4 177.6L244.3 178.1L244.0 178.5L243.8 179.0L243.5 179.4L243.2 179.8L242.9 180.2L242.5 180.6L242.1 181.0L241.7 181.3L241.3 181.7L240.9 182.1L240.6 182.5L240.2 182.9L239.9 183.3L239.6 183.7L239.3 184.1L239.1 184.6L239.0 185.1L238.8 185.5L238.7 186.0L238.6 186.6L238.6 187.1L238.6 187.6L238.6 188.2L238.6 188.7L238.6 189.2L238.6 189.8L238.6 190.3L238.5 190.8L238.4 191.3L238.3 191.8L238.2 192.3L238.0 192.8L237.8 193.2L237.5 193.7L237.2 194.1L236.9 194.5L236.5 194.9L236.2 195.3L235.8 195.7L235.4 196.1L235.1 196.5L234.7 196.9L234.4 197.3L234.1 197.7L233.9 198.2L233.7 198.6L233.5 199.1Z" fill="#e2e2e2" fill-opacity="0.19" stroke="none"/><path d="M246.8 172.1L247.1 171.7L247.3 171.3L247.5 170.8L247.7 170.3L247.9 169.9L248.0 169.4L248.0 168.8L248.1 168.3L248.1 167.8L248.1 167.2L248.1 166.7L248.1 166.1L248.1 165.6L248.1 165.0L248.1 164.5L248.2 164.0L248.3 163.4L248.4 162.9L248.6 162.5L248.8 162.0L249.1 161.6L249.4 161.2L249.7 160.8L250.1 160.4L250.5 160.0L250.9 159.7L251.4 159.4L251.8 159.0L252.3 158.7L252.8 158.4L253.2 158.1L253.6 157.7L254.0 157.4L254.4 157.0L254.7 156.7L255.1 156.3L255.3 155.9L255.6 155.4L255.8 155.0L255.9 154.5L256.0 154.0L256.1 153.5L256.2 152.9L256.3 152.4L256.3 151.8L256.4 151.3L256.4 150.7L256.4 150.1L256.5 149.6L256.6 149.0L256.7 148.5L256.8 148.0L257.0 147.5L257.2 147.0L257.4 146.6L257.7 146.2L258.0 145.8L258.3 145.4L258.7 145.0L259.2 144.7L261.0 146.0L260.9 146.5L260.8 147.0L260.6 147.4L260.3 147.9L260.1 148.3L259.8 148.7L259.4 149.1L259.1 149.4L258.7 149.7L258.2 150.1L257.8 150.4L257.3 150.7L256.8 151.0L256.3 151.2L255.9 151.5L255.4 151.8L254.9 152.2L254.5 152.5L254.1 152.8L253.7 153.2L253.4 153.6L253.1 154.0L252.8 154.4L252.6 154.8L252.4 155.3L252.2 155.8L252.1 156.3L252.0 156.9L252.0 157.4L251.9 158.0L251.9 158.5L251.9 159.1L251.9 159.6L251.9 160.2L251.8 160.7L251.8 161.2L251.7 161.8L251.6 162.3L251.4 162.7L251.2 163.2L251.0 163.6L250.7 164.1L250.4 164.5L250.1 164.9L249.7 165.2L249.4 165.6L248.9 166.0L248.5 166.3L248.1 166.7L247.7 167.0L247.3 167.4L246.9 167.8L246.5 168.1L246.2 168.5L245.8 168.9L245.6 169.4L245.3 169.8L245.1 170.3L245.0 170.8L244.9 171.3Z" fill="#e0e0e0" fill-opacity="0.26" stroke="none"/><path d="M259.2 144.7L259.6 144.4L260.1 144.1L260.6 143.8L261.1 143.6L261.6 143.3L262.1 143.1L262.6 142.8L263.1 142.5L263.5 142.3L264.0 142.0L264.4 141.7L264.8 141.4L265.2 141.0L265.5 140.6L265.8 140.2L266.0 139.8L266.3 139.4L266.5 138.9L266.6 138.4L266.8 137.9L266.9 137.3L267.0 136.8L267.1 136.2L267.2 135.7L267.3 135.1L267.4 134.5L267.5 134.0L267.7 133.4L267.8 132.9L268.0 132.4L268.2 131.9L268.5 131.5L268.8 131.0L269.1 130.6L269.4 130.3L269.8 129.9L270.2 129.6L270.7 129.4L271.2 129.1L271.7 128.9L272.2 128.7L272.7 128.5L273.3 128.3L273.8 128.2L274.4 128.0L274.9 127.9L275.5 127.7L276.0 127.6L276.5 127.4L277.0 127.2L277.5 127.0L278.0 126.7L278.4 126.4L278.8 126.1L279.1 125.8L279.5 125.4L279.8 125.0L280.0 124.6L280.3 124.2L280.5 123.7L278.7 121.6L278.2 121.8L277.7 122.1L277.2 122.3L276.8 122.6L276.4 122.9L276.0 123.3L275.7 123.7L275.4 124.1L275.1 124.5L274.9 125.0L274.7 125.5L274.5 126.0L274.3 126.6L274.2 127.1L274.0 127.7L273.9 128.2L273.8 128.8L273.6 129.4L273.5 129.9L273.3 130.4L273.1 130.9L272.9 131.4L272.7 131.9L272.4 132.3L272.2 132.7L271.8 133.1L271.5 133.5L271.1 133.8L270.7 134.1L270.3 134.3L269.8 134.6L269.3 134.8L268.8 135.1L268.3 135.3L267.7 135.5L267.2 135.7L266.7 135.9L266.1 136.1L265.6 136.3L265.1 136.6L264.7 136.9L264.2 137.1L263.8 137.5L263.4 137.8L263.1 138.2L262.8 138.6L262.5 139.0L262.2 139.5L262.1 140.0L261.9 140.5L261.8 141.0L261.6 141.5L261.6 142.1L261.5 142.7L261.4 143.2L261.4 143.8L261.3 144.3L261.2 144.9L261.1 145.4L261.0 146.0Z" fill="#dfdfdf" fill-opacity="0.33" stroke="none"/><path d="M280.5 123.7L280.7 123.2L280.9 122.7L281.1 122.1L281.3 121.6L281.5 121.0L281.7 120.4L281.8 119.9L282.0 119.3L282.3 118.8L282.5 118.3L282.7 117.8L283.0 117.3L283.3 116.9L283.7 116.5L284.1 116.2L284.5 115.8L284.9 115.6L285.4 115.3L285.9 115.2L286.4 115.0L286.9 114.9L287.5 114.8L288.1 114.7L288.7 114.7L289.2 114.7L289.8 114.7L290.4 114.7L291.0 114.6L291.6 114.6L292.2 114.6L292.7 114.6L293.3 114.5L293.8 114.4L294.3 114.3L294.8 114.1L295.2 113.9L295.6 113.6L296.0 113.3L296.4 113.0L296.8 112.6L297.1 112.2L297.4 111.8L297.7 111.3L298.0 110.8L298.3 110.3L298.6 109.8L298.8 109.2L299.1 108.7L299.4 108.2L299.7 107.7L299.9 107.2L300.3 106.7L300.6 106.2L300.9 105.8L301.3 105.4L301.7 105.1L302.1 104.8L302.5 104.6L303.0 104.4L303.4 104.2L305.5 107.9L305.1 108.2L304.7 108.5L304.3 108.7L303.8 108.9L303.4 109.1L302.8 109.2L302.3 109.3L301.8 109.3L301.2 109.4L300.6 109.3L300.0 109.3L299.4 109.3L298.8 109.2L298.2 109.2L297.6 109.2L297.1 109.2L296.5 109.2L295.9 109.2L295.4 109.2L294.8 109.3L294.3 109.5L293.8 109.7L293.4 109.9L293.0 110.1L292.5 110.4L292.2 110.8L291.8 111.2L291.5 111.6L291.2 112.1L290.9 112.5L290.6 113.1L290.3 113.6L290.1 114.1L289.8 114.7L289.6 115.2L289.4 115.7L289.1 116.3L288.9 116.8L288.6 117.3L288.3 117.7L288.0 118.1L287.7 118.5L287.4 118.9L287.0 119.2L286.6 119.5L286.2 119.8L285.8 120.0L285.3 120.2L284.8 120.3L284.3 120.5L283.8 120.6L283.2 120.7L282.6 120.8L282.1 120.9L281.5 121.0L280.9 121.1L280.3 121.2L279.8 121.3L279.2 121.5L278.7 121.6Z" fill="#dddddd" fill-opacity="0.40" stroke="none"/><path d="M303.4 104.2L304.0 104.1L304.5 104.0L305.0 103.9L305.6 103.9L306.2 103.9L306.8 104.0L307.4 104.0L308.0 104.1L308.6 104.2L309.2 104.2L309.8 104.3L310.4 104.3L310.9 104.3L311.5 104.3L312.0 104.3L312.5 104.2L313.0 104.0L313.5 103.9L313.9 103.7L314.3 103.4L314.7 103.1L315.1 102.8L315.5 102.4L315.8 101.9L316.1 101.5L316.5 101.0L316.8 100.5L317.1 100.0L317.4 99.5L317.7 98.9L318.1 98.4L318.4 97.9L318.8 97.4L319.1 97.0L319.5 96.6L319.9 96.2L320.3 95.9L320.8 95.6L321.3 95.4L321.8 95.2L322.3 95.1L322.8 95.0L323.3 95.0L323.9 95.0L324.4 95.1L325.0 95.3L325.6 95.4L326.2 95.6L326.7 95.8L327.3 96.0L327.9 96.3L328.5 96.5L329.0 96.7L329.6 96.9L330.1 97.0L330.7 97.2L331.2 97.3L331.7 97.3L332.2 97.3L332.7 97.3L331.7 92.5L331.2 92.6L330.7 92.8L330.3 93.1L329.8 93.4L329.4 93.8L328.9 94.2L328.5 94.6L328.1 95.1L327.7 95.5L327.3 96.0L326.9 96.5L326.5 97.0L326.2 97.4L325.8 97.9L325.4 98.3L325.0 98.7L324.6 99.0L324.2 99.3L323.8 99.6L323.3 99.8L322.9 99.9L322.4 100.0L321.9 100.1L321.4 100.1L320.9 100.1L320.3 100.0L319.8 99.9L319.2 99.8L318.6 99.7L318.0 99.6L317.4 99.5L316.8 99.3L316.2 99.2L315.6 99.1L315.0 99.1L314.4 99.0L313.9 99.0L313.3 99.1L312.8 99.2L312.3 99.3L311.8 99.5L311.4 99.7L311.0 100.0L310.5 100.3L310.2 100.7L309.8 101.1L309.5 101.5L309.1 102.0L308.8 102.5L308.5 103.0L308.3 103.6L308.0 104.1L307.7 104.6L307.4 105.2L307.1 105.7L306.9 106.2L306.5 106.7L306.2 107.1L305.9 107.5L305.5 107.9Z" fill="#dcdcdc" fill-opacity="0.44" stroke="none"/><path d="M332.7 97.3L333.2 97.2L333.6 97.1L334.1 96.9L334.5 96.6L335.0 96.3L335.4 96.0L335.9 95.6L336.3 95.2L336.7 94.8L337.2 94.4L337.6 93.9L338.0 93.5L338.5 93.1L339.0 92.7L339.4 92.3L339.9 91.9L340.4 91.6L340.9 91.4L341.4 91.2L341.9 91.0L342.4 90.9L343.0 90.9L343.5 90.9L344.0 91.0L344.6 91.2L345.1 91.4L345.6 91.6L346.1 92.0L346.6 92.3L347.1 92.7L347.6 93.1L348.1 93.5L348.5 93.9L349.0 94.3L349.5 94.7L349.9 95.1L350.4 95.5L350.8 95.8L351.3 96.1L351.7 96.3L352.2 96.5L352.7 96.6L353.1 96.7L353.6 96.7L354.1 96.7L354.6 96.6L355.1 96.5L355.6 96.3L356.2 96.1L356.7 95.9L357.3 95.6L357.9 95.3L358.4 95.1L359.0 94.8L359.6 94.5L360.2 94.3L360.8 94.1L361.4 93.9L362.0 93.8L362.6 93.8L360.9 98.4L360.6 98.0L360.2 97.6L359.9 97.1L359.5 96.6L359.2 96.1L358.8 95.6L358.4 95.1L358.1 94.5L357.7 94.0L357.2 93.5L356.8 93.1L356.4 92.7L355.9 92.3L355.4 92.0L355.0 91.7L354.5 91.5L353.9 91.4L353.4 91.3L352.9 91.3L352.4 91.4L351.8 91.5L351.3 91.7L350.7 91.9L350.2 92.2L349.7 92.5L349.1 92.8L348.6 93.1L348.1 93.5L347.6 93.9L347.0 94.2L346.5 94.5L346.0 94.9L345.6 95.2L345.1 95.4L344.6 95.6L344.1 95.8L343.7 95.9L343.2 96.0L342.7 96.0L342.2 96.0L341.7 95.9L341.3 95.8L340.8 95.6L340.2 95.4L339.7 95.1L339.2 94.8L338.7 94.6L338.1 94.2L337.6 93.9L337.1 93.6L336.5 93.4L335.9 93.1L335.4 92.8L334.8 92.6L334.3 92.5L333.8 92.4L333.2 92.3L332.7 92.3L332.2 92.3L331.7 92.5Z" fill="#dcdcdc" fill-opacity="0.48" stroke="none"/><path d="M362.6 93.8L363.2 93.8L363.7 93.9L364.3 94.0L364.8 94.2L365.2 94.4L365.7 94.8L366.1 95.1L366.4 95.6L366.8 96.1L367.1 96.6L367.4 97.2L367.7 97.8L367.9 98.4L368.1 99.0L368.3 99.7L368.5 100.3L368.7 100.9L368.9 101.5L369.2 102.0L369.4 102.6L369.6 103.0L369.9 103.5L370.2 103.9L370.5 104.2L370.8 104.5L371.2 104.7L371.6 104.9L372.1 105.0L372.6 105.1L373.1 105.2L373.7 105.3L374.3 105.4L374.9 105.4L375.6 105.5L376.3 105.6L376.9 105.7L377.6 105.8L378.3 106.0L378.9 106.2L379.5 106.4L380.1 106.7L380.6 107.0L381.1 107.3L381.5 107.7L381.9 108.2L382.1 108.7L382.3 109.2L382.4 109.7L382.5 110.3L382.5 110.9L382.4 111.5L382.3 112.2L382.1 112.8L381.8 113.5L381.5 114.1L381.2 114.8L380.9 115.4L380.5 116.0L380.1 116.6L379.8 117.1L383.6 116.3L383.1 115.9L382.5 115.5L381.8 115.1L381.2 114.8L380.6 114.4L380.0 114.1L379.4 113.9L378.8 113.6L378.3 113.3L377.8 113.1L377.4 112.7L377.0 112.4L376.6 112.1L376.4 111.7L376.2 111.3L376.0 110.9L375.9 110.4L375.9 109.9L375.9 109.4L375.9 108.8L376.0 108.2L376.0 107.6L376.1 106.9L376.2 106.3L376.3 105.6L376.3 104.9L376.3 104.2L376.3 103.5L376.2 102.8L376.1 102.2L375.9 101.6L375.6 101.0L375.4 100.5L375.0 100.1L374.6 99.7L374.2 99.3L373.7 99.1L373.2 98.9L372.6 98.7L372.0 98.6L371.4 98.6L370.8 98.6L370.1 98.7L369.4 98.8L368.8 98.9L368.1 99.0L367.5 99.2L366.8 99.3L366.2 99.4L365.6 99.6L365.0 99.7L364.5 99.7L364.0 99.7L363.5 99.7L363.0 99.6L362.5 99.5L362.1 99.3L361.7 99.0L361.3 98.8L360.9 98.4Z" fill="#dadada" fill-opacity="0.55" stroke="none"/><path d="M379.8 117.1L379.5 117.7L379.2 118.2L379.0 118.7L378.9 119.2L378.8 119.7L378.7 120.2L378.8 120.6L378.9 121.1L379.1 121.6L379.4 122.0L379.8 122.5L380.2 122.9L380.6 123.3L381.1 123.7L381.7 124.2L382.2 124.6L382.8 125.1L383.3 125.6L383.9 126.2L384.4 126.7L384.9 127.2L385.3 127.7L385.7 128.2L386.0 128.7L386.2 129.2L386.4 129.7L386.5 130.2L386.5 130.7L386.4 131.2L386.2 131.6L386.0 132.1L385.6 132.6L385.3 133.1L384.8 133.6L384.3 134.1L383.7 134.6L383.2 135.1L382.6 135.6L382.6 135.6L382.0 135.1L381.5 134.6L380.9 134.1L380.4 133.6L379.9 133.1L379.6 132.6L379.2 132.1L379.0 131.6L378.8 131.1L378.7 130.6L378.7 130.0L378.8 129.5L379.0 129.0L379.3 128.5L379.7 128.0L380.1 127.5L380.6 127.0L381.1 126.6L381.6 126.1L382.2 125.6L382.8 125.1L383.3 124.6L383.8 124.1L384.3 123.5L384.7 122.9L385.1 122.4L385.4 121.8L385.6 121.3L385.8 120.7L385.9 120.2L385.9 119.7L385.8 119.1L385.6 118.6L385.3 118.1L385.0 117.6L384.6 117.2L384.1 116.7L383.6 116.3Z" fill="#dadada" fill-opacity="0.55" stroke="none"/><path d="M382.6 135.6L382.0 136.1L381.5 136.6L380.9 137.1L380.4 137.6L379.9 138.1L379.6 138.6L379.2 139.1L379.0 139.6L378.8 140.1L378.7 140.6L378.7 141.1L378.8 141.6L379.0 142.1L379.2 142.6L379.6 143.1L379.9 143.6L380.4 144.1L380.9 144.6L381.5 145.1L382.0 145.6L382.6 146.1L383.2 146.6L383.7 147.1L384.3 147.6L384.8 148.1L385.3 148.6L385.6 149.1L386.0 149.6L386.2 150.1L386.4 150.6L386.5 151.1L386.5 151.6L386.4 152.1L386.2 152.6L386.0 153.1L385.6 153.6L385.3 154.1L384.8 154.6L384.3 155.1L383.7 155.6L383.2 156.1L382.6 156.6L382.0 157.1L381.5 157.6L380.9 158.1L380.4 158.6L379.9 159.1L379.6 159.6L379.1 160.2L378.9 160.8L378.8 161.2L378.7 161.8L378.7 162.2L378.8 162.8L379.0 163.2L379.3 163.8L379.6 164.2L380.1 164.8L380.5 165.2L381.0 165.8L381.6 166.2L382.2 166.8L382.8 167.2L383.3 167.8L383.9 168.2L384.4 168.8L384.9 169.2L385.4 169.8L385.7 170.2L386.1 170.8L386.3 171.2L386.4 171.8L386.5 172.2L386.5 172.8L386.4 173.2L386.2 173.8L385.9 174.2L385.6 174.8L385.1 175.2L384.7 175.8L384.2 176.2L383.6 176.8L383.0 177.2L382.4 177.8L381.9 178.2L381.3 178.8L380.8 179.2L380.3 179.8L379.8 180.2L379.5 180.8L379.1 181.2L378.9 181.8L378.8 182.2L378.7 182.8L378.7 183.2L378.8 183.8L379.0 184.2L379.3 184.8L379.6 185.2L380.1 185.8L380.5 186.2L381.0 186.8L381.6 187.2L382.2 187.8L382.8 188.2L383.3 188.8L383.9 189.2L384.4 189.8L384.9 190.2L385.4 190.8L385.7 191.2L386.1 191.8L386.3 192.2L386.4 192.8L386.5 193.2L386.5 193.8L386.4 194.2L386.2 194.8L385.9 195.2L385.6 195.8L379.6 195.8L379.3 195.2L379.0 194.8L378.8 194.2L378.7 193.8L378.7 193.2L378.8 192.8L378.9 192.2L379.1 191.8L379.5 191.2L379.8 190.8L380.3 190.2L380.8 189.8L381.3 189.2L381.9 188.8L382.4 188.2L383.0 187.8L383.6 187.2L384.2 186.8L384.7 186.2L385.1 185.8L385.6 185.2L385.9 184.8L386.2 184.2L386.4 183.8L386.5 183.2L386.5 182.8L386.4 182.2L386.3 181.8L386.1 181.2L385.7 180.8L385.4 180.2L384.9 179.8L384.4 179.2L383.9 178.8L383.3 178.2L382.8 177.8L382.2 177.2L381.6 176.8L381.0 176.2L380.5 175.8L380.1 175.2L379.6 174.8L379.3 174.2L379.0 173.8L378.8 173.2L378.7 172.8L378.7 172.2L378.8 171.8L378.9 171.2L379.1 170.8L379.5 170.2L379.8 169.8L380.3 169.2L380.8 168.8L381.3 168.2L381.9 167.8L382.4 167.2L383.0 166.8L383.6 166.2L384.2 165.8L384.7 165.2L385.1 164.8L385.6 164.2L385.9 163.8L386.2 163.2L386.4 162.8L386.5 162.2L386.5 161.8L386.4 161.2L386.3 160.8L386.1 160.2L385.6 159.6L385.3 159.1L384.8 158.6L384.3 158.1L383.7 157.6L383.2 157.1L382.6 156.6L382.0 156.1L381.5 155.6L380.9 155.1L380.4 154.6L379.9 154.1L379.6 153.6L379.2 153.1L379.0 152.6L378.8 152.1L378.7 151.6L378.7 151.1L378.8 150.6L379.0 150.1L379.2 149.6L379.6 149.1L379.9 148.6L380.4 148.1L380.9 147.6L381.5 147.1L382.0 146.6L382.6 146.1L383.2 145.6L383.7 145.1L384.3 144.6L384.8 144.1L385.3 143.6L385.6 143.1L386.0 142.6L386.2 142.1L386.4 141.6L386.5 141.1L386.5 140.6L386.4 140.1L386.2 139.6L386.0 139.1L385.6 138.6L385.3 138.1L384.8 137.6L384.3 137.1L383.7 136.6L383.2 136.1L382.6 135.6Z" fill="#c4e0f3" fill-opacity="0.50" stroke="none"/><path d="M385.6 195.8L385.1 196.2L384.7 196.8L384.2 197.2L383.6 197.8L383.0 198.2L382.4 198.8L381.9 199.2L381.3 199.8L380.8 200.2L380.3 200.8L379.8 201.2L379.5 201.8L379.1 202.2L378.9 202.8L378.8 203.2L378.7 203.8L378.7 204.2L378.8 204.8L379.0 205.2L379.3 205.8L379.6 206.2L380.1 206.8L380.5 207.2L381.0 207.8L381.6 208.2L382.2 208.8L382.8 209.2L383.3 209.8L383.9 210.2L384.4 210.8L384.9 211.2L385.4 211.8L385.7 212.2L386.1 212.8L386.3 213.2L386.4 213.8L386.5 214.2L386.5 214.8L386.4 215.2L386.2 215.8L385.9 216.2L385.6 216.8L385.1 217.2L384.7 217.8L384.2 218.2L383.6 218.8L383.0 219.2L382.4 219.8L381.9 220.2L381.3 220.8L380.8 221.2L380.3 221.8L379.8 222.2L379.5 222.8L379.1 223.2L378.9 223.8L378.8 224.2L378.7 224.8L378.7 225.2L378.8 225.8L379.0 226.2L379.3 226.8L379.6 227.2L380.1 227.8L380.5 228.2L381.0 228.8L381.6 229.2L382.2 229.8L382.8 230.2L383.3 230.8L383.9 231.2L384.4 231.8L384.9 232.2L385.4 232.8L385.7 233.2L386.1 233.8L386.3 234.2L386.4 234.8L386.5 235.2L386.5 235.8L386.4 236.2L378.8 236.2L378.7 235.8L378.7 235.2L378.8 234.8L378.9 234.2L379.1 233.8L379.5 233.2L379.8 232.8L380.3 232.2L380.8 231.8L381.3 231.2L381.9 230.8L382.4 230.2L383.0 229.8L383.6 229.2L384.2 228.8L384.7 228.2L385.1 227.8L385.6 227.2L385.9 226.8L386.2 226.2L386.4 225.8L386.5 225.2L386.5 224.8L386.4 224.2L386.3 223.8L386.1 223.2L385.7 222.8L385.4 222.2L384.9 221.8L384.4 221.2L383.9 220.8L383.3 220.2L382.8 219.8L382.2 219.2L381.6 218.8L381.0 218.2L380.5 217.8L380.1 217.2L379.6 216.8L379.3 216.2L379.0 215.8L378.8 215.2L378.7 214.8L378.7 214.2L378.8 213.8L378.9 213.2L379.1 212.8L379.5 212.2L379.8 211.8L380.3 211.2L380.8 210.8L381.3 210.2L381.9 209.8L382.4 209.2L383.0 208.8L383.6 208.2L384.2 207.8L384.7 207.2L385.1 206.8L385.6 206.2L385.9 205.8L386.2 205.2L386.4 204.8L386.5 204.2L386.5 203.8L386.4 203.2L386.3 202.8L386.1 202.2L385.7 201.8L385.4 201.2L384.9 200.8L384.4 200.2L383.9 199.8L383.3 199.2L382.8 198.8L382.2 198.2L381.6 197.8L381.0 197.2L380.5 196.8L380.1 196.2L379.6 195.8Z" fill="#cfcfcf" fill-opacity="0.50" stroke="none"/><path d="M386.4 236.2L386.2 236.8L385.9 237.2L385.6 237.8L385.1 238.2L384.7 238.8L384.2 239.2L383.6 239.8L383.0 240.2L382.4 240.8L381.9 241.2L381.3 241.8L380.8 242.2L380.3 242.8L379.8 243.2L379.5 243.8L379.1 244.2L378.9 244.8L378.8 245.2L378.7 245.8L378.7 246.2L378.8 246.8L379.0 247.2L379.3 247.8L379.6 248.2L380.1 248.8L380.5 249.2L381.0 249.8L381.6 250.2L382.2 250.8L382.8 251.2L383.3 251.8L383.9 252.2L384.4 252.8L384.9 253.2L385.4 253.8L385.7 254.2L386.1 254.8L386.3 255.2L386.4 255.8L386.5 256.2L386.5 256.8L386.4 257.2L386.2 257.8L385.9 258.2L385.6 258.8L385.1 259.2L384.7 259.8L384.2 260.2L383.6 260.8L383.0 261.2L382.4 261.8L381.9 262.2L381.3 262.8L380.8 263.2L380.3 263.8L379.8 264.2L379.5 264.8L379.1 265.2L378.9 265.8L378.8 266.2L378.7 266.8L378.7 267.2L378.8 267.8L379.0 268.2L379.3 268.8L379.6 269.2L380.1 269.8L380.5 270.2L381.0 270.8L381.6 271.2L382.2 271.8L382.8 272.2L383.3 272.8L383.9 273.2L384.4 273.8L384.9 274.2L385.4 274.8L385.7 275.2L386.1 275.8L386.3 276.2L386.4 276.8L386.5 277.2L386.5 277.8L386.4 278.2L386.2 278.8L385.9 279.2L385.6 279.8L385.1 280.2L384.7 280.8L384.2 281.2L383.6 281.8L383.0 282.2L382.4 282.8L381.9 283.2L381.3 283.8L380.8 284.2L380.3 284.8L379.8 285.2L379.5 285.8L379.1 286.2L378.9 286.8L378.8 287.2L378.7 287.8L378.7 288.2L378.8 288.8L379.0 289.2L379.3 289.8L379.6 290.2L380.1 290.8L380.5 291.2L381.0 291.8L381.6 292.2L382.2 292.8L382.8 293.2L383.3 293.8L383.9 294.2L384.4 294.8L384.9 295.2L385.4 295.8L385.7 296.2L386.1 296.8L386.3 297.2L386.4 297.8L386.5 298.2L378.7 298.2L378.8 297.8L378.9 297.2L379.1 296.8L379.5 296.2L379.8 295.8L380.3 295.2L380.8 294.8L381.3 294.2L381.9 293.8L382.4 293.2L383.0 292.8L383.6 292.2L384.2 291.8L384.7 291.2L385.1 290.8L385.6 290.2L385.9 289.8L386.2 289.2L386.4 288.8L386.5 288.2L386.5 287.8L386.4 287.2L386.3 286.8L386.1 286.2L385.7 285.8L385.4 285.2L384.9 284.8L384.4 284.2L383.9 283.8L383.3 283.2L382.8 282.8L382.2 282.2L381.6 281.8L381.0 281.2L380.5 280.8L380.1 280.2L379.6 279.8L379.3 279.2L379.0 278.8L378.8 278.2L378.7 277.8L378.7 277.2L378.8 276.8L378.9 276.2L379.1 275.8L379.5 275.2L379.8 274.8L380.3 274.2L380.8 273.8L381.3 273.2L381.9 272.8L382.4 272.2L383.0 271.8L383.6 271.2L384.2 270.8L384.7 270.2L385.1 269.8L385.6 269.2L385.9 268.8L386.2 268.2L386.4 267.8L386.5 267.2L386.5 266.8L386.4 266.2L386.3 265.8L386.1 265.2L385.7 264.8L385.4 264.2L384.9 263.8L384.4 263.2L383.9 262.8L383.3 262.2L382.8 261.8L382.2 261.2L381.6 260.8L381.0 260.2L380.5 259.8L380.1 259.2L379.6 258.8L379.3 258.2L379.0 257.8L378.8 257.2L378.7 256.8L378.7 256.2L378.8 255.8L378.9 255.2L379.1 254.8L379.5 254.2L379.8 253.8L380.3 253.2L380.8 252.8L381.3 252.2L381.9 251.8L382.4 251.2L383.0 250.8L383.6 250.2L384.2 249.8L384.7 249.2L385.1 248.8L385.6 248.2L385.9 247.8L386.2 247.2L386.4 246.8L386.5 246.2L386.5 245.8L386.4 245.2L386.3 244.8L386.1 244.2L385.7 243.8L385.4 243.2L384.9 242.8L384.4 242.2L383.9 241.8L383.3 241.2L382.8 240.8L382.2 240.2L381.6 239.8L381.0 239.2L380.5 238.8L380.1 238.2L379.6 237.8L379.3 237.2L379.0 236.8L378.8 236.2Z" fill="#f0a6a0" fill-opacity="0.50" stroke="none"/><path d="M386.5 298.2L386.5 298.8L386.4 299.2L386.2 299.8L385.9 300.2L385.6 300.8L385.1 301.2L384.7 301.8L384.2 302.2L383.6 302.8L383.0 303.2L382.4 303.8L381.9 304.2L381.3 304.8L380.8 305.2L380.3 305.8L379.8 306.2L379.5 306.8L379.1 307.2L378.9 307.8L378.8 308.2L378.7 308.8L378.7 309.2L378.8 309.8L379.0 310.2L379.3 310.8L379.6 311.2L380.1 311.8L380.5 312.2L381.0 312.8L381.6 313.2L382.2 313.8L382.8 314.2L383.3 314.8L383.9 315.2L384.4 315.8L384.9 316.2L385.4 316.8L385.7 317.2L386.1 317.8L386.3 318.2L386.4 318.8L386.5 319.2L386.5 319.8L386.4 320.2L386.2 320.8L385.9 321.2L385.6 321.8L385.1 322.2L384.7 322.8L384.2 323.2L383.6 323.8L383.0 324.2L382.4 324.8L381.9 325.2L381.3 325.8L380.8 326.2L380.3 326.8L379.8 327.2L379.5 327.8L379.1 328.2L386.1 328.2L385.7 327.8L385.4 327.2L384.9 326.8L384.4 326.2L383.9 325.8L383.3 325.2L382.8 324.8L382.2 324.2L381.6 323.8L381.0 323.2L380.5 322.8L380.1 322.2L379.6 321.8L379.3 321.2L379.0 320.8L378.8 320.2L378.7 319.8L378.7 319.2L378.8 318.8L378.9 318.2L379.1 317.8L379.5 317.2L379.8 316.8L380.3 316.2L380.8 315.8L381.3 315.2L381.9 314.8L382.4 314.2L383.0 313.8L383.6 313.2L384.2 312.8L384.7 312.2L385.1 311.8L385.6 311.2L385.9 310.8L386.2 310.2L386.4 309.8L386.5 309.2L386.5 308.8L386.4 308.2L386.3 307.8L386.1 307.2L385.7 306.8L385.4 306.2L384.9 305.8L384.4 305.2L383.9 304.8L383.3 304.2L382.8 303.8L382.2 303.2L381.6 302.8L381.0 302.2L380.5 301.8L380.1 301.2L379.6 300.8L379.3 300.2L379.0 299.8L378.8 299.2L378.7 298.8L378.7 298.2Z" fill="#e6e6e6" fill-opacity="0.55" stroke="none"/><path d="M379.1 328.2L378.9 328.8L378.8 329.2L378.7 329.8L378.7 330.2L378.8 330.8L379.0 331.2L379.3 331.8L379.6 332.2L380.1 332.8L380.5 333.2L381.0 333.8L381.6 334.2L382.2 334.8L382.8 335.2L383.3 335.8L383.9 336.2L384.4 336.8L384.9 337.2L385.4 337.8L385.7 338.2L386.1 338.8L386.3 339.2L386.4 339.8L386.5 340.0L378.7 340.0L378.8 339.5L379.0 339.0L379.3 338.5L379.6 338.0L380.0 337.5L380.5 337.0L381.0 336.5L381.6 336.0L382.2 335.5L382.7 335.0L383.3 334.5L383.9 334.0L384.4 333.5L384.9 333.0L385.4 332.5L385.7 332.0L386.0 331.5L386.3 331.0L386.4 330.5L386.5 330.0L386.5 329.5L386.4 329.0L386.2 328.5L386.1 328.2Z" fill="#e6e6e6" fill-opacity="0.55" stroke="none"/><path d="M386.5 340.0L386.5 340.5L386.4 341.0L386.3 341.5L386.0 342.0L385.7 342.5L385.4 343.0L384.9 343.5L384.4 344.0L383.9 344.5L383.3 345.0L382.7 345.5L382.2 346.0L381.6 346.5L381.0 347.0L380.5 347.5L380.0 348.0L379.6 348.5L379.3 349.0L379.0 349.5L378.8 350.0L378.7 350.5L378.7 351.0L378.8 351.5L378.9 352.0L379.2 352.5L379.5 353.0L379.8 353.5L380.3 354.0L380.8 354.5L381.3 355.0L381.9 355.5L382.5 356.0L383.0 356.5L383.6 357.0L384.2 357.5L384.7 358.0L385.2 358.5L385.6 359.0L385.9 359.5L386.2 360.0L386.4 360.5L386.5 361.0L386.5 361.5L386.4 362.0L386.3 362.5L386.0 363.0L385.7 363.5L385.4 364.0L384.9 364.5L384.4 365.0L383.9 365.5L383.3 366.0L382.7 366.5L382.2 367.0L381.6 367.5L381.0 368.0L380.5 368.5L380.0 369.0L379.6 369.5L379.3 370.0L379.0 370.5L378.8 371.0L378.7 371.5L378.7 372.0L378.8 372.5L378.9 373.0L379.2 373.5L379.5 374.0L379.8 374.5L380.3 375.0L380.8 375.5L381.3 376.0L381.9 376.5L382.5 377.0L383.0 377.5L383.6 378.0L384.2 378.5L384.7 379.0L385.2 379.5L385.6 380.0L385.9 380.5L386.2 381.0L386.4 381.5L386.5 382.0L386.5 382.5L386.4 383.0L386.3 383.5L386.0 384.0L385.7 384.5L385.4 385.0L384.9 385.5L384.4 386.0L383.9 386.5L383.3 387.0L382.7 387.5L382.2 388.0L381.6 388.5L381.0 389.0L380.5 389.5L380.0 390.0L379.6 390.5L379.3 391.0L379.0 391.5L378.8 392.0L378.7 392.5L378.7 393.0L378.8 393.5L378.9 394.0L379.2 394.5L379.5 395.0L379.8 395.5L380.3 396.0L380.8 396.5L381.3 397.0L381.9 397.5L382.5 398.0L383.0 398.5L383.6 399.0L384.2 399.5L384.7 400.0L385.2 400.5L380.0 400.5L380.5 400.0L381.0 399.5L381.6 399.0L382.2 398.5L382.7 398.0L383.3 397.5L383.9 397.0L384.4 396.5L384.9 396.0L385.4 395.5L385.7 395.0L386.0 394.5L386.3 394.0L386.4 393.5L386.5 393.0L386.5 392.5L386.4 392.0L386.2 391.5L385.9 391.0L385.6 390.5L385.2 390.0L384.7 389.5L384.2 389.0L383.6 388.5L383.0 388.0L382.5 387.5L381.9 387.0L381.3 386.5L380.8 386.0L380.3 385.5L379.8 385.0L379.5 384.5L379.2 384.0L378.9 383.5L378.8 383.0L378.7 382.5L378.7 382.0L378.8 381.5L379.0 381.0L379.3 380.5L379.6 380.0L380.0 379.5L380.5 379.0L381.0 378.5L381.6 378.0L382.2 377.5L382.7 377.0L383.3 376.5L383.9 376.0L384.4 375.5L384.9 375.0L385.4 374.5L385.7 374.0L386.0 373.5L386.3 373.0L386.4 372.5L386.5 372.0L386.5 371.5L386.4 371.0L386.2 370.5L385.9 370.0L385.6 369.5L385.2 369.0L384.7 368.5L384.2 368.0L383.6 367.5L383.0 367.0L382.5 366.5L381.9 366.0L381.3 365.5L380.8 365.0L380.3 364.5L379.8 364.0L379.5 363.5L379.2 363.0L378.9 362.5L378.8 362.0L378.7 361.5L378.7 361.0L378.8 360.5L379.0 360.0L379.3 359.5L379.6 359.0L380.0 358.5L380.5 358.0L381.0 357.5L381.6 357.0L382.2 356.5L382.7 356.0L383.3 355.5L383.9 355.0L384.4 354.5L384.9 354.0L385.4 353.5L385.7 353.0L386.0 352.5L386.3 352.0L386.4 351.5L386.5 351.0L386.5 350.5L386.4 350.0L386.2 349.5L385.9 349.0L385.6 348.5L385.2 348.0L384.7 347.5L384.2 347.0L383.6 346.5L383.0 346.0L382.5 345.5L381.9 345.0L381.3 344.5L380.8 344.0L380.3 343.5L379.8 343.0L379.5 342.5L379.2 342.0L378.9 341.5L378.8 341.0L378.7 340.5L378.7 340.0Z" fill="#f8d898" fill-opacity="0.50" stroke="none"/><path d="M385.2 400.5L385.6 401.0L385.9 401.5L386.2 402.0L386.4 402.5L386.5 403.0L386.5 403.5L386.4 404.0L386.3 404.5L386.0 405.0L385.7 405.5L385.4 406.0L384.9 406.5L384.4 407.0L383.9 407.5L383.3 408.0L382.7 408.5L382.2 409.0L381.6 409.5L381.0 410.0L380.5 410.5L380.0 411.0L379.6 411.5L379.3 412.0L379.0 412.5L378.8 413.0L378.7 413.5L378.7 414.0L378.8 414.5L378.9 415.0L379.2 415.5L379.5 416.0L379.8 416.5L380.3 417.0L380.8 417.5L381.3 418.0L381.9 418.5L382.5 419.0L383.0 419.5L383.6 420.0L384.2 420.5L384.7 421.0L385.2 421.5L385.6 422.0L385.9 422.5L386.2 423.0L386.4 423.5L386.5 424.0L386.5 424.5L386.4 425.0L386.3 425.5L386.0 426.0L385.7 426.5L385.4 427.0L384.9 427.5L384.4 428.0L383.9 428.5L383.3 429.0L382.7 429.5L382.2 430.0L381.6 430.5L383.6 430.5L383.0 430.0L382.5 429.5L381.9 429.0L381.3 428.5L380.8 428.0L380.3 427.5L379.8 427.0L379.5 426.5L379.2 426.0L378.9 425.5L378.8 425.0L378.7 424.5L378.7 424.0L378.8 423.5L379.0 423.0L379.3 422.5L379.6 422.0L380.0 421.5L380.5 421.0L381.0 420.5L381.6 420.0L382.2 419.5L382.7 419.0L383.3 418.5L383.9 418.0L384.4 417.5L384.9 417.0L385.4 416.5L385.7 416.0L386.0 415.5L386.3 415.0L386.4 414.5L386.5 414.0L386.5 413.5L386.4 413.0L386.2 412.5L385.9 412.0L385.6 411.5L385.2 411.0L384.7 410.5L384.2 410.0L383.6 409.5L383.0 409.0L382.5 408.5L381.9 408.0L381.3 407.5L380.8 407.0L380.3 406.5L379.8 406.0L379.5 405.5L379.2 405.0L378.9 404.5L378.8 404.0L378.7 403.5L378.7 403.0L378.8 402.5L379.0 402.0L379.3 401.5L379.6 401.0L380.0 400.5Z" fill="#e6e6e6" fill-opacity="0.55" stroke="none"/><path d="M381.6 430.5L381.0 431.0L380.5 431.5L380.0 432.0L379.6 432.5L379.3 433.0L379.0 433.5L378.8 434.0L378.7 434.5L378.7 435.0L378.8 435.5L378.9 436.0L379.2 436.5L379.5 437.0L379.8 437.5L380.3 438.0L380.8 438.5L381.3 439.0L381.9 439.5L382.5 440.0L383.0 440.5L383.6 441.0L384.2 441.5L384.7 442.0L380.5 442.0L381.0 441.5L381.6 441.0L382.2 440.5L382.7 440.0L383.3 439.5L383.9 439.0L384.4 438.5L384.9 438.0L385.4 437.5L385.7 437.0L386.0 436.5L386.3 436.0L386.4 435.5L386.5 435.0L386.5 434.5L386.4 434.0L386.2 433.5L385.9 433.0L385.6 432.5L385.2 432.0L384.7 431.5L384.2 431.0L383.6 430.5Z" fill="#e6e6e6" fill-opacity="0.55" stroke="none"/><path d="M384.7 442.0L385.2 442.5L385.6 443.0L385.9 443.5L386.2 444.0L386.4 444.5L386.5 445.0L386.5 445.5L386.4 446.0L386.3 446.5L386.0 447.0L385.7 447.5L385.4 448.0L384.9 448.5L384.4 449.0L383.9 449.5L383.3 450.0L382.7 450.5L382.2 451.0L381.6 451.5L381.0 452.0L380.5 452.5L380.0 453.0L379.6 453.5L379.3 454.0L379.0 454.5L378.8 455.0L378.7 455.5L378.7 456.0L378.8 456.5L378.9 457.0L379.2 457.5L379.5 458.0L379.8 458.5L380.3 459.0L380.8 459.5L381.3 460.0L381.9 460.5L382.5 461.0L383.0 461.5L383.6 462.0L384.2 462.5L384.7 463.0L385.2 463.5L385.6 464.0L385.9 464.5L386.2 465.0L386.4 465.5L386.5 466.0L386.5 466.5L386.4 467.0L386.3 467.5L386.0 468.0L385.7 468.5L385.4 469.0L384.9 469.5L384.4 470.0L383.9 470.5L383.3 471.0L382.7 471.5L382.2 472.0L381.6 472.5L381.0 473.0L380.5 473.5L380.0 474.0L379.6 474.5L379.3 475.0L379.0 475.5L378.8 476.0L378.7 476.5L378.7 477.0L378.8 477.5L378.9 478.0L379.2 478.5L379.5 479.0L379.8 479.5L380.3 480.0L380.8 480.5L381.3 481.0L381.9 481.5L382.5 482.0L383.0 482.5L383.6 483.0L384.2 483.5L384.7 484.0L385.2 484.5L385.6 485.0L385.9 485.5L386.2 486.0L386.4 486.5L386.5 487.0L386.5 487.5L386.4 488.0L386.3 488.5L386.1 489.0L385.8 489.5L385.4 490.0L384.9 490.5L384.4 491.0L383.9 491.5L383.3 492.0L382.8 492.5L382.2 493.0L381.6 493.5L381.1 494.0L380.5 494.5L380.1 495.0L379.7 495.5L379.3 496.0L379.1 496.5L378.9 497.0L378.8 497.5L378.7 498.0L378.8 498.5L378.9 499.0L379.2 499.5L379.5 500.0L379.9 500.5L380.3 501.0L380.8 501.5L381.3 502.0L381.9 502.5L382.2 502.7L383.0 502.8L383.6 502.3L384.2 501.8L384.7 501.3L385.2 500.8L385.6 500.3L385.9 499.8L386.2 499.3L386.4 498.8L386.5 498.3L386.5 497.8L386.5 497.3L386.3 496.8L386.1 496.3L385.8 495.8L385.4 495.3L385.0 494.7L384.5 494.2L383.9 493.7L383.4 493.2L382.8 492.7L382.2 492.3L381.6 491.8L381.1 491.3L380.6 490.8L380.1 490.3L379.7 489.8L379.3 489.3L379.1 488.8L378.9 488.3L378.7 487.8L378.7 487.3L378.8 486.8L378.9 486.3L379.2 485.8L379.5 485.3L379.8 484.8L380.3 484.3L380.8 483.8L381.3 483.3L381.9 482.8L382.4 482.3L383.0 481.7L383.6 481.2L384.2 480.7L384.7 480.2L385.1 479.8L385.6 479.2L385.9 478.8L386.2 478.2L386.4 477.8L386.5 477.2L386.5 476.8L386.4 476.2L386.3 475.8L386.1 475.2L385.7 474.8L385.4 474.2L384.9 473.8L384.4 473.2L383.9 472.8L383.3 472.2L382.8 471.8L382.2 471.2L381.6 470.8L381.0 470.2L380.5 469.8L380.1 469.2L379.6 468.8L379.3 468.2L379.0 467.8L378.8 467.2L378.7 466.8L378.7 466.2L378.8 465.8L378.9 465.2L379.1 464.8L379.5 464.2L379.8 463.8L380.3 463.2L380.8 462.8L381.3 462.2L381.9 461.8L382.4 461.2L383.0 460.8L383.6 460.2L384.2 459.8L384.7 459.2L385.1 458.8L385.6 458.2L385.9 457.8L386.2 457.2L386.4 456.8L386.5 456.2L386.5 455.8L386.4 455.2L386.3 454.8L386.1 454.2L385.7 453.8L385.4 453.2L384.9 452.8L384.4 452.2L383.9 451.8L383.3 451.2L382.8 450.8L382.2 450.2L381.6 449.8L381.0 449.2L380.5 448.8L380.1 448.2L379.6 447.8L379.3 447.2L379.0 446.8L378.8 446.2L378.7 445.8L378.7 445.2L378.8 444.8L378.9 444.2L379.1 443.8L379.5 443.2L379.8 442.8L380.3 442.2L380.5 442.0Z" fill="#cdeac9" fill-opacity="0.50" stroke="none"/><path d="M382.2 502.7L382.7 503.3L383.3 503.8L383.9 504.3L384.4 504.8L384.9 505.3L385.3 505.8L385.7 506.3L386.0 506.8L386.2 507.4L386.3 507.9L386.3 508.5L386.2 509.1L386.0 509.7L385.7 510.2L385.4 510.7L384.9 511.2L384.4 511.6L383.9 512.1L383.3 512.5L382.7 512.9L382.1 513.3L381.5 513.6L380.8 514.0L380.2 514.3L379.6 514.7L379.1 515.0L378.6 515.3L378.2 515.6L377.8 516.0L377.5 516.3L377.2 516.7L377.0 517.0L376.9 517.4L376.8 517.9L376.7 518.3L376.7 518.8L376.7 519.4L376.8 520.0L376.9 520.6L377.0 521.2L377.1 521.9L377.3 522.5L377.4 523.2L377.5 523.9L377.5 524.6L377.6 525.3L377.6 525.9L377.6 526.6L377.5 527.2L377.4 527.8L377.2 528.3L376.9 528.8L376.6 529.2L376.3 529.6L375.9 529.9L375.4 530.2L374.9 530.4L374.3 530.6L373.7 530.7L373.1 530.8L370.6 528.6L370.6 527.9L370.7 527.3L370.8 526.8L371.0 526.3L371.2 525.8L371.4 525.3L371.7 525.0L372.1 524.6L372.5 524.3L372.9 524.1L373.4 523.9L374.0 523.7L374.5 523.6L375.2 523.4L375.8 523.3L376.5 523.2L377.2 523.1L377.8 522.9L378.5 522.8L379.2 522.6L379.8 522.4L380.5 522.2L381.0 521.9L381.6 521.5L382.0 521.2L382.4 520.7L382.8 520.3L383.1 519.8L383.3 519.2L383.4 518.7L383.4 518.1L383.4 517.5L383.2 516.8L383.1 516.2L382.8 515.6L382.5 514.9L382.1 514.3L381.7 513.7L381.3 513.1L380.9 512.5L380.5 511.9L380.1 511.4L379.7 510.8L379.4 510.3L379.2 509.7L379.0 509.2L378.8 508.8L378.7 508.4L378.7 508.0L378.8 507.6L378.9 507.1L379.1 506.7L379.4 506.2L379.8 505.7L380.3 505.2L380.7 504.7L381.3 504.2L381.9 503.7L382.4 503.2L383.0 502.8Z" fill="#e6e6e6" fill-opacity="0.55" stroke="none"/><path d="M373.1 530.8L372.5 530.9L371.8 531.0L371.1 531.0L370.4 531.1L369.7 531.1L369.0 531.2L368.4 531.2L367.7 531.3L367.1 531.4L366.6 531.5L366.1 531.7L365.6 531.9L365.2 532.1L364.8 532.4L364.4 532.8L364.2 533.2L363.9 533.6L363.7 534.1L363.5 534.6L363.4 535.2L363.3 535.8L363.2 536.4L363.1 537.1L363.0 537.7L362.9 538.4L362.8 539.1L362.7 539.8L362.5 540.4L362.3 541.0L362.1 541.6L361.9 542.2L361.6 542.7L361.2 543.1L360.9 543.5L360.5 543.8L360.0 544.1L359.5 544.3L359.0 544.4L358.4 544.5L357.9 544.6L357.2 544.5L356.6 544.5L356.0 544.4L355.3 544.3L354.6 544.1L354.0 544.0L353.3 543.8L352.7 543.7L352.0 543.5L351.4 543.4L350.8 543.4L350.3 543.3L349.7 543.3L349.2 543.4L348.7 543.5L348.3 543.7L347.8 543.9L347.4 544.2L347.1 544.6L346.7 545.0L349.0 549.6L349.5 549.6L350.1 549.5L350.6 549.4L351.0 549.2L351.5 548.9L351.9 548.5L352.2 548.1L352.6 547.7L352.9 547.2L353.2 546.6L353.4 546.1L353.7 545.5L353.9 544.8L354.1 544.2L354.3 543.5L354.5 542.9L354.7 542.3L354.9 541.7L355.2 541.1L355.4 540.6L355.7 540.1L356.0 539.6L356.3 539.2L356.7 538.9L357.0 538.6L357.5 538.4L357.9 538.2L358.4 538.1L359.0 538.0L359.5 538.0L360.1 538.0L360.7 538.0L361.4 538.1L362.1 538.2L362.7 538.2L363.4 538.3L364.1 538.3L364.8 538.3L365.5 538.3L366.1 538.3L366.7 538.2L367.3 538.1L367.8 537.9L368.3 537.7L368.8 537.4L369.2 537.0L369.5 536.6L369.8 536.2L370.0 535.7L370.2 535.1L370.4 534.6L370.5 533.9L370.5 533.3L370.6 532.6L370.6 531.9L370.6 531.3L370.6 530.6L370.6 529.9L370.6 529.2L370.6 528.6Z" fill="#e6e6e6" fill-opacity="0.55" stroke="none"/><path d="M346.7 545.0L346.4 545.5L346.1 546.0L345.8 546.5L345.5 547.1L345.3 547.7L345.0 548.3L344.7 548.9L344.4 549.5L344.1 550.1L343.8 550.7L343.5 551.2L343.2 551.7L342.8 552.2L342.4 552.6L341.9 552.9L341.5 553.2L341.0 553.5L340.5 553.6L340.0 553.7L339.4 553.7L338.9 553.7L338.3 553.6L337.7 553.4L337.1 553.2L336.5 553.0L335.9 552.7L335.3 552.4L334.7 552.1L334.1 551.8L333.6 551.5L333.0 551.2L332.4 550.9L331.9 550.7L331.4 550.5L330.9 550.4L330.4 550.3L329.9 550.3L329.4 550.3L328.9 550.4L328.5 550.6L328.0 550.8L327.6 551.0L327.2 551.3L326.7 551.7L326.3 552.1L325.8 552.5L325.3 552.9L324.9 553.4L324.4 553.8L323.9 554.3L323.4 554.7L322.9 555.1L322.3 555.4L321.8 555.7L321.3 555.9L320.7 556.1L320.2 556.3L319.6 556.3L319.1 556.3L318.6 556.2L319.2 550.7L319.7 550.7L320.1 550.8L320.6 550.9L321.1 551.1L321.5 551.4L322.0 551.6L322.4 552.0L322.9 552.4L323.4 552.8L323.9 553.2L324.4 553.6L324.9 554.0L325.4 554.4L326.0 554.8L326.5 555.2L327.0 555.5L327.6 555.7L328.1 555.9L328.7 556.1L329.2 556.2L329.8 556.2L330.3 556.1L330.8 556.0L331.3 555.8L331.8 555.5L332.3 555.2L332.7 554.8L333.2 554.4L333.6 553.9L334.0 553.4L334.4 552.9L334.8 552.3L335.2 551.8L335.5 551.2L335.9 550.7L336.3 550.2L336.6 549.7L337.0 549.2L337.4 548.8L337.8 548.5L338.2 548.2L338.6 548.0L339.0 547.8L339.5 547.7L340.0 547.6L340.5 547.6L341.0 547.7L341.6 547.8L342.2 547.9L342.7 548.1L343.4 548.3L344.0 548.5L344.6 548.7L345.3 548.9L345.9 549.1L346.5 549.3L347.2 549.4L347.8 549.5L348.4 549.6L349.0 549.6Z" fill="#e6e6e6" fill-opacity="0.54" stroke="none"/><path d="M318.6 556.2L318.1 556.1L317.6 555.9L317.1 555.6L316.6 555.3L316.1 554.9L315.7 554.5L315.2 554.0L314.8 553.5L314.4 553.0L314.0 552.5L313.6 552.0L313.2 551.5L312.8 551.1L312.4 550.6L312.0 550.2L311.6 549.8L311.1 549.5L310.7 549.2L310.3 549.0L309.8 548.9L309.4 548.8L308.9 548.7L308.4 548.7L307.8 548.7L307.3 548.8L306.8 548.9L306.2 549.1L305.6 549.3L305.0 549.5L304.4 549.7L303.8 549.9L303.2 550.0L302.6 550.2L302.0 550.3L301.4 550.4L300.8 550.5L300.3 550.5L299.7 550.5L299.2 550.4L298.7 550.3L298.2 550.1L297.7 549.8L297.3 549.5L296.9 549.2L296.5 548.8L296.1 548.3L295.8 547.8L295.5 547.3L295.2 546.8L295.0 546.2L294.8 545.6L294.5 545.0L294.3 544.5L294.1 543.9L293.8 543.4L293.6 542.8L293.3 542.3L293.1 541.9L292.8 541.4L292.4 541.0L289.8 544.8L290.3 545.0L290.9 545.1L291.4 545.2L292.0 545.3L292.6 545.3L293.2 545.3L293.8 545.3L294.4 545.2L295.0 545.2L295.7 545.1L296.3 545.1L296.8 545.0L297.4 545.0L298.0 545.0L298.5 545.0L299.0 545.1L299.5 545.2L300.0 545.3L300.4 545.5L300.8 545.7L301.2 546.0L301.6 546.4L301.9 546.7L302.3 547.2L302.6 547.6L302.9 548.1L303.3 548.6L303.6 549.1L303.9 549.7L304.2 550.2L304.6 550.7L304.9 551.3L305.3 551.8L305.7 552.2L306.1 552.7L306.5 553.0L307.0 553.4L307.4 553.7L307.9 553.9L308.4 554.0L308.9 554.1L309.4 554.2L310.0 554.2L310.5 554.1L311.1 554.0L311.6 553.8L312.2 553.6L312.8 553.3L313.4 553.0L313.9 552.7L314.5 552.4L315.1 552.1L315.6 551.8L316.2 551.6L316.7 551.3L317.2 551.1L317.7 550.9L318.2 550.8L318.7 550.7L319.2 550.7Z" fill="#e7e7e7" fill-opacity="0.48" stroke="none"/><path d="M292.4 541.0L292.1 540.7L291.7 540.4L291.3 540.1L290.9 539.9L290.4 539.7L289.9 539.5L289.4 539.4L288.8 539.3L288.2 539.3L287.7 539.2L287.1 539.2L286.4 539.2L285.8 539.1L285.2 539.1L284.6 539.1L284.0 539.0L283.5 538.9L282.9 538.8L282.4 538.7L281.9 538.5L281.4 538.3L281.0 538.1L280.5 537.8L280.2 537.5L279.8 537.1L279.5 536.7L279.2 536.3L278.9 535.8L278.7 535.3L278.4 534.8L278.2 534.2L278.1 533.6L277.9 533.1L277.7 532.5L277.5 531.9L277.4 531.4L277.2 530.8L277.0 530.3L276.8 529.8L276.6 529.3L276.3 528.9L276.1 528.4L275.8 528.0L275.5 527.7L275.1 527.4L274.7 527.1L274.3 526.8L273.9 526.6L273.4 526.3L272.9 526.1L272.4 525.9L271.8 525.7L271.3 525.6L270.7 525.4L270.2 525.2L269.6 525.0L269.1 524.8L268.6 524.5L268.1 524.3L267.6 524.0L269.9 522.3L270.0 522.8L270.1 523.4L270.2 523.9L270.2 524.5L270.3 525.1L270.4 525.7L270.5 526.3L270.6 526.8L270.7 527.4L270.9 528.0L271.0 528.5L271.3 529.0L271.5 529.5L271.8 529.9L272.1 530.3L272.5 530.7L272.9 531.1L273.3 531.4L273.7 531.6L274.2 531.9L274.7 532.1L275.3 532.2L275.8 532.4L276.4 532.5L277.0 532.6L277.6 532.6L278.2 532.7L278.8 532.8L279.4 532.8L279.9 532.9L280.5 533.0L281.0 533.2L281.5 533.3L282.0 533.5L282.5 533.7L282.9 534.0L283.3 534.2L283.7 534.6L284.0 534.9L284.4 535.3L284.6 535.8L284.9 536.3L285.1 536.8L285.4 537.3L285.6 537.9L285.8 538.4L286.0 539.0L286.1 539.6L286.3 540.2L286.5 540.7L286.7 541.3L287.0 541.8L287.2 542.3L287.5 542.8L287.8 543.2L288.2 543.6L288.5 544.0L288.9 544.3L289.4 544.6L289.8 544.8Z" fill="#e8e8e8" fill-opacity="0.41" stroke="none"/><path d="M267.6 524.0L267.1 523.7L266.7 523.4L266.3 523.0L265.9 522.7L265.6 522.2L265.4 521.8L265.1 521.4L264.9 520.9L264.8 520.4L264.7 519.8L264.6 519.3L264.5 518.7L264.5 518.2L264.4 517.6L264.4 517.0L264.4 516.4L264.4 515.9L264.3 515.3L264.3 514.7L264.3 514.2L264.2 513.7L264.1 513.1L263.9 512.6L263.8 512.2L263.6 511.7L263.3 511.3L263.0 510.9L262.7 510.5L262.4 510.1L262.0 509.8L261.6 509.4L261.1 509.1L260.7 508.8L260.2 508.5L259.7 508.2L259.2 507.9L258.7 507.6L258.2 507.3L257.8 507.0L257.3 506.6L256.9 506.3L256.5 505.9L256.2 505.5L255.8 505.1L255.6 504.7L255.3 504.2L255.1 503.8L255.0 503.3L254.9 502.8L254.8 502.2L254.8 501.7L254.8 501.2L254.8 500.6L254.8 500.0L254.8 499.5L254.9 498.9L254.9 498.3L255.0 497.8L255.0 497.2L255.0 496.7L252.9 497.6L253.3 497.9L253.7 498.3L254.1 498.7L254.6 499.0L255.0 499.4L255.5 499.7L256.0 500.0L256.4 500.4L256.8 500.7L257.2 501.1L257.6 501.5L257.9 501.8L258.2 502.3L258.4 502.7L258.7 503.1L258.9 503.6L259.0 504.1L259.1 504.6L259.2 505.1L259.2 505.6L259.3 506.2L259.3 506.7L259.3 507.3L259.3 507.9L259.3 508.4L259.2 509.0L259.3 509.6L259.3 510.1L259.3 510.7L259.4 511.2L259.5 511.7L259.7 512.2L259.9 512.7L260.1 513.2L260.4 513.6L260.7 514.0L261.0 514.4L261.4 514.8L261.8 515.1L262.2 515.4L262.7 515.7L263.2 516.0L263.7 516.3L264.2 516.6L264.7 516.8L265.2 517.1L265.7 517.4L266.2 517.6L266.7 517.9L267.2 518.2L267.6 518.5L268.0 518.9L268.3 519.2L268.7 519.6L268.9 520.0L269.2 520.4L269.4 520.9L269.6 521.3L269.8 521.8L269.9 522.3Z" fill="#e9e9e9" fill-opacity="0.34" stroke="none"/><path d="M255.0 496.7L255.0 496.2L254.9 495.6L254.8 495.1L254.7 494.7L254.5 494.2L254.3 493.8L254.1 493.3L253.8 492.9L253.4 492.5L253.1 492.1L252.7 491.7L252.3 491.3L251.9 490.9L251.5 490.6L251.1 490.2L250.6 489.8L250.2 489.4L249.9 489.0L249.5 488.6L249.2 488.2L248.9 487.8L248.7 487.3L248.5 486.9L248.3 486.4L248.2 485.9L248.2 485.4L248.1 484.9L248.1 484.3L248.1 483.8L248.2 483.2L248.3 482.7L248.3 482.1L248.4 481.6L248.5 481.0L248.5 480.5L248.6 479.9L248.6 479.4L248.6 478.9L248.5 478.4L248.4 477.9L248.3 477.4L248.1 477.0L247.9 476.5L247.7 476.1L247.4 475.6L247.1 475.2L246.7 474.8L246.4 474.4L246.0 474.0L245.6 473.5L245.3 473.1L244.9 472.7L244.6 472.3L244.3 471.8L244.0 471.4L243.8 470.9L243.6 470.5L243.4 470.0L243.3 469.5L243.3 469.0L245.6 468.4L245.8 468.9L245.9 469.3L246.0 469.8L246.1 470.3L246.1 470.8L246.1 471.4L246.0 471.9L245.9 472.4L245.9 473.0L245.8 473.5L245.7 474.1L245.6 474.6L245.5 475.1L245.4 475.7L245.4 476.2L245.4 476.7L245.5 477.3L245.5 477.8L245.7 478.3L245.8 478.7L246.1 479.2L246.3 479.6L246.6 480.1L246.9 480.5L247.3 480.9L247.7 481.3L248.1 481.7L248.5 482.1L248.9 482.5L249.3 482.9L249.7 483.3L250.0 483.7L250.4 484.1L250.7 484.5L250.9 484.9L251.1 485.4L251.3 485.8L251.5 486.3L251.6 486.8L251.6 487.3L251.6 487.9L251.6 488.4L251.6 488.9L251.5 489.5L251.4 490.0L251.4 490.6L251.3 491.2L251.2 491.7L251.2 492.3L251.1 492.8L251.1 493.4L251.2 493.9L251.2 494.4L251.3 494.9L251.5 495.4L251.7 495.9L251.9 496.3L252.2 496.7L252.5 497.2L252.9 497.6Z" fill="#eaeaea" fill-opacity="0.27" stroke="none"/><path d="M243.3 469.0L243.2 468.5L243.2 468.0L243.3 467.4L243.4 466.9L243.5 466.4L243.6 465.8L243.7 465.3L243.8 464.7L243.9 464.2L243.9 463.7L244.0 463.1L244.0 462.6L244.0 462.1L243.9 461.6L243.8 461.1L243.6 460.7L243.4 460.2L243.2 459.7L243.0 459.3L242.7 458.8L242.4 458.4L242.0 458.0L241.7 457.5L241.4 457.1L241.1 456.6L240.8 456.2L240.5 455.7L240.3 455.3L240.1 454.8L239.9 454.3L239.8 453.8L239.7 453.3L239.7 452.8L239.7 452.3L239.7 451.8L239.8 451.3L239.9 450.8L240.0 450.2L240.1 449.7L240.2 449.2L240.2 448.6L240.3 448.1L240.3 447.6L240.3 447.1L240.3 446.6L240.2 446.1L240.1 445.6L239.9 445.1L239.7 444.7L239.5 444.2L239.2 443.7L239.0 443.3L238.7 442.8L238.4 442.4L238.1 441.9L237.8 441.5L237.6 441.0L237.4 440.5L237.2 440.0L237.0 439.6L238.8 439.3L238.8 439.8L238.8 440.3L238.7 440.8L238.7 441.3L238.6 441.8L238.5 442.4L238.4 442.9L238.3 443.4L238.2 443.9L238.1 444.5L238.1 445.0L238.1 445.5L238.2 446.0L238.2 446.5L238.4 447.0L238.6 447.5L238.8 447.9L239.0 448.4L239.3 448.8L239.6 449.3L239.9 449.7L240.2 450.2L240.5 450.6L240.8 451.1L241.1 451.5L241.4 452.0L241.6 452.4L241.8 452.9L241.9 453.4L242.0 453.9L242.1 454.4L242.1 454.9L242.1 455.4L242.0 455.9L242.0 456.4L241.9 457.0L241.8 457.5L241.7 458.0L241.6 458.6L241.5 459.1L241.4 459.6L241.4 460.2L241.4 460.7L241.4 461.2L241.5 461.7L241.6 462.2L241.8 462.6L242.0 463.1L242.2 463.6L242.5 464.0L242.8 464.5L243.1 464.9L243.5 465.3L243.8 465.8L244.2 466.2L244.5 466.6L244.8 467.1L245.1 467.5L245.4 467.9L245.6 468.4Z" fill="#ebebeb" fill-opacity="0.20" stroke="none"/><path d="M237.0 439.6L236.9 439.1L236.9 438.6L236.8 438.1L236.9 437.6L236.9 437.0L237.0 436.5L237.1 436.0L237.2 435.5L237.3 435.0L237.4 434.4L237.5 433.9L237.6 433.4L237.7 432.9L237.7 432.4L237.7 431.9L237.7 431.4L237.6 430.9L237.4 430.4L237.3 429.9L237.1 429.4L236.9 429.0L236.6 428.5L236.4 428.0L236.2 427.5L235.9 427.1L235.7 426.6L235.5 426.1L235.4 425.6L235.2 425.1L235.2 424.6L235.1 424.1L235.1 423.6L235.2 423.1L235.2 422.6L235.3 422.1L235.4 421.6L235.5 421.1L235.7 420.5L235.8 420.0L235.9 419.5L236.0 419.0L236.0 418.5L236.0 418.0L236.0 417.5L236.0 417.0L235.9 416.5L235.7 416.0L235.6 415.5L235.4 415.1L235.2 414.6L234.9 414.1L234.7 413.6L234.5 413.1L234.3 412.7L234.1 412.2L233.9 411.7L233.8 411.2L233.7 410.7L233.7 410.2L233.6 409.7L235.1 409.6L235.2 410.0L235.3 410.5L235.3 411.0L235.2 411.5L235.2 412.1L235.1 412.6L235.0 413.1L234.9 413.6L234.7 414.1L234.6 414.6L234.5 415.1L234.4 415.7L234.4 416.2L234.3 416.7L234.4 417.2L234.4 417.7L234.5 418.2L234.6 418.7L234.8 419.1L235.0 419.6L235.2 420.1L235.4 420.6L235.7 421.1L235.9 421.5L236.1 422.0L236.3 422.5L236.5 423.0L236.7 423.5L236.8 423.9L236.8 424.4L236.9 424.9L236.9 425.4L236.8 426.0L236.7 426.5L236.6 427.0L236.5 427.5L236.4 428.0L236.2 428.5L236.1 429.1L236.0 429.6L235.9 430.1L235.9 430.6L235.9 431.1L235.9 431.6L236.0 432.1L236.1 432.6L236.3 433.1L236.4 433.6L236.7 434.0L236.9 434.5L237.1 435.0L237.4 435.4L237.7 435.9L237.9 436.4L238.1 436.9L238.3 437.3L238.5 437.8L238.6 438.3L238.7 438.8L238.8 439.3Z" fill="#f1eeee" fill-opacity="0.16" stroke="none"/><path d="M233.6 409.7L233.7 409.2L233.7 408.7L233.8 408.2L233.9 407.7L234.0 407.1L234.2 406.6L234.3 406.1L234.4 405.6L234.5 405.1L234.5 404.6L234.5 404.1L234.5 403.6L234.5 403.1L234.4 402.6L234.2 402.1L234.1 401.6L233.9 401.1L233.7 400.6L233.4 400.2L233.2 399.7L233.0 399.2L232.8 398.7L232.6 398.3L232.4 397.8L232.3 397.3L232.2 396.8L232.2 396.3L232.2 395.8L232.2 395.3L232.2 394.8L232.3 394.3L232.3 393.8L232.4 393.2L232.5 392.7L232.6 392.2L232.6 391.7L232.6 391.2L232.6 390.7L232.6 390.2L232.5 389.7L232.4 389.2L232.2 388.7L232.0 388.2L231.8 387.8L231.6 387.3L231.3 386.8L231.1 386.4L230.8 385.9L230.6 385.5L230.3 385.0L230.2 384.5L230.0 384.1L229.9 383.6L229.8 383.1L229.7 382.6L229.7 382.1L229.6 381.6L229.7 381.1L229.7 380.5L229.7 380.0L229.6 380.0L229.9 380.5L230.2 380.9L230.4 381.4L230.7 381.8L230.9 382.3L231.0 382.8L231.2 383.3L231.2 383.8L231.3 384.3L231.3 384.8L231.3 385.3L231.3 385.8L231.2 386.3L231.2 386.9L231.1 387.4L231.1 387.9L231.0 388.4L231.0 388.9L231.1 389.4L231.1 389.9L231.2 390.4L231.4 390.9L231.5 391.4L231.7 391.8L231.9 392.3L232.2 392.8L232.4 393.2L232.7 393.7L232.9 394.2L233.1 394.7L233.3 395.1L233.5 395.6L233.6 396.1L233.7 396.6L233.7 397.1L233.7 397.6L233.7 398.1L233.6 398.6L233.5 399.2L233.4 399.7L233.3 400.2L233.2 400.7L233.1 401.2L233.0 401.7L233.0 402.2L233.0 402.7L233.0 403.2L233.0 403.7L233.1 404.2L233.2 404.7L233.4 405.2L233.6 405.7L233.8 406.2L234.0 406.6L234.2 407.1L234.4 407.6L234.7 408.1L234.8 408.6L235.0 409.1L235.1 409.6Z" fill="#f1eeee" fill-opacity="0.13" stroke="none"/><path d="M229.7 380.0L229.7 379.5L229.7 379.0L229.7 378.5L229.7 378.0L229.6 377.5L229.5 377.0L229.4 376.5L229.2 376.0L229.0 375.6L228.7 375.1L228.5 374.7L228.2 374.2L227.9 373.8L227.6 373.4L227.3 372.9L227.0 372.5L226.8 372.0L226.6 371.6L226.4 371.1L226.2 370.6L226.1 370.2L226.0 369.7L226.0 369.2L225.9 368.6L225.9 368.1L225.9 367.6L225.8 367.1L225.8 366.6L225.7 366.1L225.6 365.6L225.5 365.1L225.4 364.6L225.2 364.1L225.0 363.7L224.7 363.2L224.5 362.8L224.2 362.4L223.9 361.9L223.6 361.5L223.2 361.1L222.9 360.7L222.6 360.3L222.4 359.9L222.1 359.4L221.9 359.0L221.7 358.5L221.6 358.0L221.4 357.6L221.3 357.1L221.2 356.6L221.1 356.0L221.0 355.5L221.0 355.0L220.8 354.5L220.7 354.0L220.6 353.5L220.4 353.1L220.2 352.6L219.9 352.2L219.7 351.8L218.8 352.2L219.0 352.6L219.2 353.1L219.4 353.5L219.7 354.0L220.0 354.4L220.3 354.8L220.6 355.2L220.9 355.6L221.3 356.0L221.6 356.4L221.9 356.8L222.2 357.2L222.5 357.6L222.7 358.1L222.9 358.5L223.1 359.0L223.3 359.5L223.4 360.0L223.5 360.5L223.5 361.0L223.6 361.5L223.6 362.0L223.7 362.5L223.8 363.1L223.9 363.6L224.0 364.0L224.1 364.5L224.3 365.0L224.5 365.4L224.7 365.9L225.0 366.3L225.3 366.8L225.6 367.2L225.9 367.6L226.2 368.0L226.5 368.5L226.7 368.9L227.0 369.3L227.2 369.8L227.4 370.3L227.6 370.7L227.7 371.2L227.8 371.7L227.8 372.2L227.9 372.7L227.9 373.3L227.9 373.8L227.9 374.3L227.9 374.8L227.9 375.3L228.0 375.8L228.0 376.3L228.1 376.8L228.3 377.3L228.4 377.8L228.6 378.2L228.9 378.7L229.1 379.2L229.4 379.6L229.6 380.0Z" fill="#f1eeee" fill-opacity="0.11" stroke="none"/><path d="M219.7 351.8L219.3 351.3L219.0 350.9L218.7 350.6L218.3 350.2L218.0 349.8L217.6 349.4L217.3 349.0L217.0 348.6L216.7 348.2L216.4 347.8L216.2 347.4L216.0 346.9L215.8 346.5L215.6 346.0L215.4 345.5L215.3 345.0L215.1 344.5L215.0 344.0L214.8 343.5L214.6 343.1L214.4 342.6L214.2 342.1L213.9 341.7L213.6 341.3L213.3 340.9L213.0 340.6L212.6 340.2L212.2 339.9L211.8 339.5L211.4 339.2L211.1 338.8L210.7 338.5L210.3 338.2L210.0 337.8L209.6 337.4L209.3 337.0L209.1 336.6L208.8 336.2L208.6 335.7L208.3 335.3L208.1 334.8L207.9 334.4L207.6 333.9L207.4 333.4L207.1 333.0L206.8 332.6L206.5 332.2L206.2 331.8L205.9 331.5L205.5 331.1L205.1 330.8L204.7 330.5L204.2 330.2L203.8 329.9L203.4 329.6L203.0 329.3L202.6 329.0L202.2 328.7L201.8 328.4L201.5 328.0L202.2 327.4L202.5 327.7L202.8 328.1L203.1 328.6L203.4 329.0L203.6 329.4L203.9 329.9L204.1 330.3L204.4 330.8L204.6 331.2L204.9 331.7L205.2 332.1L205.5 332.5L205.8 332.8L206.2 333.2L206.5 333.5L206.9 333.8L207.3 334.1L207.8 334.4L208.2 334.7L208.6 335.0L209.0 335.4L209.4 335.7L209.8 336.0L210.1 336.4L210.4 336.8L210.7 337.2L211.0 337.6L211.2 338.1L211.4 338.6L211.6 339.0L211.8 339.5L212.0 340.0L212.2 340.5L212.4 341.0L212.6 341.4L212.8 341.9L213.1 342.3L213.3 342.7L213.7 343.1L214.0 343.5L214.3 343.8L214.7 344.2L215.1 344.6L215.4 344.9L215.8 345.3L216.2 345.7L216.5 346.0L216.8 346.4L217.1 346.9L217.3 347.3L217.6 347.7L217.8 348.2L217.9 348.7L218.1 349.2L218.2 349.7L218.3 350.2L218.4 350.7L218.5 351.2L218.7 351.7L218.8 352.2Z" fill="#f1eeee" fill-opacity="0.09" stroke="none"/><path d="M201.5 328.0L201.2 327.6L200.9 327.2L200.6 326.8L200.4 326.3L200.1 325.9L199.9 325.4L199.7 324.9L199.4 324.5L199.2 324.0L199.0 323.6L198.7 323.2L198.4 322.8L198.1 322.4L197.7 322.0L197.4 321.7L197.0 321.3L196.6 321.0L196.2 320.6L195.9 320.3L195.5 320.0L195.1 319.6L194.8 319.2L194.4 318.9L194.1 318.5L193.8 318.0L193.6 317.6L193.4 317.1L193.2 316.7L193.0 316.2L192.8 315.7L192.6 315.3L192.4 314.8L192.2 314.3L192.0 313.9L191.7 313.4L191.5 313.0L191.2 312.6L190.8 312.2L190.5 311.8L190.1 311.5L189.8 311.1L189.4 310.8L189.0 310.5L188.6 310.1L188.2 309.8L187.9 309.4L187.5 309.1L187.2 308.7L186.9 308.3L186.6 307.9L186.4 307.4L186.1 307.0L185.9 306.5L185.7 306.1L185.4 305.6L185.2 305.2L184.9 304.7L184.7 304.3L184.4 303.9L184.1 303.5L183.4 304.0L183.8 304.4L184.1 304.8L184.5 305.1L184.9 305.4L185.3 305.7L185.7 306.1L186.1 306.4L186.5 306.7L186.9 307.0L187.2 307.4L187.6 307.8L187.9 308.1L188.2 308.6L188.4 309.0L188.7 309.4L188.9 309.9L189.1 310.4L189.3 310.8L189.5 311.3L189.7 311.8L190.0 312.2L190.2 312.7L190.4 313.1L190.7 313.5L191.0 313.9L191.4 314.3L191.7 314.7L192.1 315.0L192.4 315.4L192.8 315.7L193.2 316.1L193.6 316.4L193.9 316.8L194.3 317.1L194.6 317.5L194.9 317.9L195.1 318.4L195.4 318.8L195.6 319.2L195.8 319.7L196.0 320.2L196.2 320.6L196.4 321.1L196.6 321.6L196.8 322.0L197.1 322.5L197.4 322.9L197.6 323.3L198.0 323.7L198.3 324.1L198.7 324.4L199.1 324.8L199.5 325.1L199.9 325.4L200.3 325.7L200.7 326.0L201.1 326.3L201.5 326.7L201.9 327.0L202.2 327.4Z" fill="#f1eeee" fill-opacity="0.08" stroke="none"/><path d="M184.1 303.5L183.7 303.1L183.4 302.8L183.0 302.4L182.6 302.1L182.2 301.8L181.8 301.5L181.4 301.2L181.0 300.8L180.6 300.5L180.2 300.2L179.9 299.8L179.6 299.5L179.3 299.1L179.0 298.7L178.7 298.2L178.4 297.8L178.2 297.3L178.1 297.1L178.1 297.1L178.5 297.4L178.9 297.7L179.3 298.0L179.7 298.4L180.0 298.7L180.3 299.1L180.6 299.5L180.9 299.9L181.2 300.4L181.5 300.8L181.7 301.2L181.9 301.7L182.2 302.1L182.4 302.6L182.7 303.0L183.0 303.4L183.3 303.8L183.4 304.0Z" fill="#f1eeee" fill-opacity="0.07" stroke="none"/><path d="M183.7 294.0L184.2 293.8L184.6 293.6L185.1 293.4L185.6 293.3L186.1 293.2L186.6 293.0L187.1 292.9L187.6 292.8L188.1 292.6L188.6 292.4L189.0 292.2L189.5 292.0" stroke="#e4dfe0" stroke-width="0.51"/><path d="M194.4 288.0L194.8 287.7L195.2 287.5L195.7 287.3L196.2 287.1L196.7 287.0L197.1 286.8L197.6 286.6L198.1 286.4L198.6 286.2L199.0 286.0L199.5 285.8L199.9 285.5L200.1 285.4" stroke="#e4dfe0" stroke-width="0.51"/><path d="M178.2 296.9L178.6 296.7L179.1 296.5L179.6 296.3L180.1 296.2L180.6 296.0L181.0 295.9L181.5 295.8L182.0 295.6L182.5 295.5L183.0 295.3L183.5 295.1L183.9 294.9L184.1 294.8" stroke="#e4dfe0" stroke-width="0.51"/><path d="M189.0 291.1L189.4 290.9L189.9 290.7L190.4 290.5L190.8 290.4L191.3 290.2L191.8 290.1L192.3 290.0L192.8 289.8L193.3 289.6L193.8 289.4L194.2 289.2L194.7 289.0L194.9 288.9" stroke="#e4dfe0" stroke-width="0.51"/><path d="M199.5 284.5L199.9 284.2L200.4 284.0L200.8 283.8L201.3 283.6L201.8 283.4L202.3 283.2L202.8 283.1L203.3 282.9L203.7 282.7L204.2 282.5L204.4 282.4" stroke="#e4dfe0" stroke-width="0.51"/><path d="M204.6 280.9L205.0 280.6L205.4 280.4L205.9 280.1L206.3 279.9L206.8 279.7L207.3 279.5L207.8 279.3L208.2 279.1L208.7 278.8L209.1 278.6L209.6 278.3L210.0 278.0L210.3 277.6" stroke="#e4dfe0" stroke-width="0.53"/><path d="M213.5 272.1L213.8 271.7L214.1 271.3L214.4 271.0L214.8 270.6L215.1 270.2L215.5 269.9L215.9 269.5L216.2 269.1L216.6 268.7L216.9 268.3L217.2 267.9L217.5 267.5L217.7 267.0" stroke="#e4dfe0" stroke-width="0.53"/><path d="M219.1 260.3L219.3 259.8L219.5 259.4L219.7 259.0L220.0 258.5L220.3 258.1L220.6 257.7" stroke="#e4dfe0" stroke-width="0.53"/><path d="M204.4 282.4L204.9 282.1L205.3 281.8" stroke="#e4dfe0" stroke-width="0.53"/><path d="M209.5 276.8L209.9 276.4L210.3 276.1L210.7 275.9L211.1 275.6L211.5 275.3L212.0 275.0L212.4 274.7L212.8 274.4L213.3 274.1L213.6 273.8L214.0 273.4L214.3 273.0L214.5 272.8" stroke="#e4dfe0" stroke-width="0.53"/><path d="M216.6 266.5L216.8 266.1L217.0 265.6L217.3 265.2L217.6 264.8L217.9 264.4L218.3 264.0L218.6 263.6L218.9 263.2L219.2 262.8L219.5 262.3L219.8 261.9L220.0 261.4L220.2 261.0L220.3 260.7" stroke="#e4dfe0" stroke-width="0.53"/><path d="M220.6 257.7L220.9 257.3L221.2 256.8L221.5 256.4L221.8 255.9L222.0 255.5L222.2 255.0L222.4 254.6" stroke="#e4dfe0" stroke-width="0.56"/><path d="M222.9 247.7L223.1 247.2L223.3 246.8L223.5 246.3L223.7 245.8L224.0 245.4L224.2 244.9L224.5 244.5L224.7 244.0L225.0 243.6L225.2 243.1L225.4 242.6L225.6 242.1L225.7 241.6L225.7 241.4" stroke="#e4dfe0" stroke-width="0.56"/><path d="M225.1 234.2L225.2 233.7L225.3 233.2L225.5 232.8L225.7 232.3L225.9 231.8L226.2 231.3L226.4 230.9L226.7 230.4L226.9 229.9L227.1 229.5L227.3 229.0L227.5 228.5" stroke="#e4dfe0" stroke-width="0.56"/><path d="M221.1 254.2L221.2 253.7L221.4 253.2L221.7 252.8L221.9 252.3L222.2 251.9L222.5 251.5L222.8 251.0L223.1 250.6L223.4 250.1L223.6 249.7L223.9 249.2L224.1 248.8L224.2 248.3L224.3 248.1" stroke="#e4dfe0" stroke-width="0.56"/><path d="M224.2 241.2L224.3 240.7L224.5 240.2L224.6 239.7L224.8 239.2L225.0 238.8L225.2 238.3L225.5 237.8L225.7 237.3L225.9 236.9L226.1 236.4L226.3 235.9L226.5 235.4L226.6 234.9L226.6 234.4" stroke="#e4dfe0" stroke-width="0.56"/><path d="M227.5 228.5L227.7 228.1L227.8 227.6" stroke="#d6d6d6" stroke-width="0.60"/><path d="M227.7 220.1L227.8 219.7L228.0 219.2L228.2 218.7L228.5 218.3L228.7 217.8L229.0 217.4L229.3 216.9L229.6 216.5L229.9 216.0L230.2 215.6L230.4 215.1L230.6 214.7L230.8 214.2L231.0 213.7L231.0 213.5" stroke="#d6d6d6" stroke-width="0.60"/><path d="M231.2 206.0L231.4 205.5L231.6 205.1L231.8 204.6L232.1 204.2L232.4 203.8L232.8 203.3L233.1 202.9L233.4 202.5L233.8 202.1L234.1 201.7L234.4 201.3L234.7 200.9L235.0 200.4L235.2 200.0L235.3 199.7" stroke="#d6d6d6" stroke-width="0.60"/><path d="M226.2 227.3L226.3 226.8L226.5 226.3L226.7 225.8L226.9 225.4L227.2 224.9L227.4 224.4L227.7 224.0L228.0 223.5L228.3 223.1L228.5 222.6L228.8 222.2L229.0 221.7L229.2 221.2L229.3 220.8L229.3 220.5" stroke="#d6d6d6" stroke-width="0.60"/><path d="M229.3 213.1L229.4 212.6L229.6 212.1L229.9 211.6L230.1 211.2L230.4 210.8L230.7 210.3L231.1 209.9L231.4 209.5L231.7 209.0L232.0 208.6L232.3 208.2L232.5 207.7L232.7 207.3L232.9 206.8L233.0 206.6" stroke="#d6d6d6" stroke-width="0.60"/><path d="M235.3 199.7L235.4 199.5" stroke="#d5d5d5" stroke-width="0.63"/><path d="M236.2 191.8L236.4 191.3L236.7 190.9L236.9 190.5L237.3 190.1L237.6 189.7L238.0 189.3L238.3 188.9L238.7 188.5L239.1 188.1L239.5 187.7L239.8 187.3L240.2 186.9L240.5 186.5L240.7 186.1L241.0 185.6L241.1 185.4" stroke="#d5d5d5" stroke-width="0.63"/><path d="M242.2 177.2L242.5 176.8L242.7 176.3L243.1 175.9L243.4 175.5L243.8 175.1L244.1 174.8L244.5 174.4L244.9 174.0L245.3 173.7L245.7 173.3L246.1 172.9L246.5 172.5L246.8 172.1" stroke="#d5d5d5" stroke-width="0.63"/><path d="M233.6 198.8L233.8 198.4L234.0 197.9L234.3 197.5L234.6 197.1L234.9 196.7L235.3 196.3L235.6 195.9L236.0 195.5L236.4 195.1L236.7 194.7L237.1 194.3L237.4 193.9L237.6 193.4L237.9 193.0L238.1 192.5" stroke="#d5d5d5" stroke-width="0.63"/><path d="M239.1 184.6L239.3 184.1L239.6 183.7L239.9 183.3L240.2 182.9L240.6 182.5L240.9 182.1L241.3 181.7L241.7 181.3L242.1 181.0L242.5 180.6L242.9 180.2L243.2 179.8L243.5 179.4L243.8 179.0L244.0 178.5L244.3 178.1" stroke="#d5d5d5" stroke-width="0.63"/><path d="M246.8 172.1L247.1 171.7L247.3 171.3L247.5 170.8" stroke="#d3d3d3" stroke-width="0.71"/><path d="M248.7 162.2L249.0 161.8L249.2 161.4L249.6 161.0L249.9 160.6L250.3 160.2L250.7 159.9L251.2 159.5L251.6 159.2L252.1 158.9L252.5 158.6L253.0 158.2L253.4 157.9L253.8 157.6L254.2 157.2L254.6 156.9L254.9 156.5L255.2 156.1L255.3 155.9" stroke="#d3d3d3" stroke-width="0.71"/><path d="M257.5 146.4L257.8 146.0L258.2 145.6L258.5 145.2L258.9 144.9L259.2 144.7" stroke="#d3d3d3" stroke-width="0.71"/><path d="M245.3 169.8L245.6 169.4L245.8 168.9L246.2 168.5L246.5 168.1L246.9 167.8L247.3 167.4L247.7 167.0L248.1 166.7L248.5 166.3L248.9 166.0L249.4 165.6L249.7 165.2L250.1 164.9L250.4 164.5L250.7 164.1L251.0 163.6L251.1 163.4" stroke="#d3d3d3" stroke-width="0.71"/><path d="M252.8 154.4L253.1 154.0L253.4 153.6L253.7 153.2L254.1 152.8L254.5 152.5L254.9 152.2L255.4 151.8L255.9 151.5L256.3 151.2L256.8 151.0L257.3 150.7L257.8 150.4L258.2 150.1L258.7 149.7L259.1 149.4L259.4 149.1L259.8 148.7L260.1 148.3L260.2 148.1" stroke="#d3d3d3" stroke-width="0.71"/><path d="M259.2 144.7L259.6 144.4L260.1 144.1L260.6 143.8L261.1 143.6L261.6 143.3L262.1 143.1L262.6 142.8L263.1 142.5L263.5 142.3L264.0 142.0L264.4 141.7L264.8 141.4L265.2 141.0L265.5 140.6L265.6 140.4" stroke="#d0d0d0" stroke-width="0.80"/><path d="M269.1 130.6L269.4 130.3L269.8 129.9L270.2 129.6L270.7 129.4L271.2 129.1L271.7 128.9L272.2 128.7L272.7 128.5L273.3 128.3L273.8 128.2L274.4 128.0L274.9 127.9L275.5 127.7L276.0 127.6L276.5 127.4L277.0 127.2L277.5 127.0L278.0 126.7L278.4 126.4L278.8 126.1L279.1 125.8" stroke="#d0d0d0" stroke-width="0.80"/><path d="M262.9 138.4L263.2 138.0L263.6 137.6L264.0 137.3L264.4 137.0L264.9 136.7L265.4 136.5L265.9 136.2L266.4 136.0L266.9 135.8L267.5 135.6L268.0 135.4L268.5 135.2L269.0 134.9L269.5 134.7L270.0 134.5L270.5 134.2L270.9 133.9L271.3 133.6L271.7 133.3L271.8 133.1" stroke="#d0d0d0" stroke-width="0.80"/><path d="M276.4 122.9L276.8 122.6L277.2 122.3L277.7 122.1L278.2 121.8L278.7 121.6" stroke="#d0d0d0" stroke-width="0.80"/><path d="M284.3 116.0L284.7 115.7L285.2 115.5L285.6 115.2L286.1 115.1L286.7 114.9L287.2 114.8L287.8 114.8L288.4 114.7L289.0 114.7L289.5 114.7L290.1 114.7L290.7 114.7L291.3 114.6L291.9 114.6L292.5 114.6L293.0 114.5L293.5 114.4L294.0 114.3L294.5 114.2L295.0 114.0L295.4 113.8" stroke="#cecece" stroke-width="0.88"/><path d="M302.3 104.7L302.7 104.4L303.2 104.3L303.4 104.2" stroke="#cecece" stroke-width="0.88"/><path d="M278.7 121.6L279.2 121.5L279.8 121.3L280.3 121.2L280.9 121.1L281.5 121.0L282.1 120.9L282.6 120.8L283.2 120.7L283.8 120.6L284.3 120.5L284.8 120.3L285.3 120.2L285.8 120.0L286.2 119.8L286.6 119.5L286.8 119.4" stroke="#cecece" stroke-width="0.88"/><path d="M293.2 110.0L293.6 109.8L294.1 109.6L294.6 109.4L295.1 109.3L295.6 109.2L296.2 109.2L296.8 109.1L297.3 109.2L297.9 109.2L298.5 109.2L299.1 109.3L299.7 109.3L300.3 109.3L300.9 109.4L301.5 109.3L302.0 109.3L302.6 109.3L303.1 109.2L303.6 109.0L304.1 108.8L304.5 108.6" stroke="#cecece" stroke-width="0.88"/><path d="M303.4 104.2L304.0 104.1L304.5 104.0L305.0 103.9L305.6 103.9L306.2 103.9L306.8 104.0L307.4 104.0L308.0 104.1L308.6 104.2L309.2 104.2L309.8 104.3L310.4 104.3L310.9 104.3L311.5 104.3L312.0 104.3L312.5 104.2L313.0 104.0L313.5 103.9L313.7 103.8" stroke="#cccccc" stroke-width="0.92"/><path d="M321.5 95.3L322.0 95.1L322.5 95.0L323.0 95.0L323.6 95.0L324.1 95.1L324.7 95.2L325.3 95.3L325.9 95.5L326.4 95.7L327.0 95.9L327.6 96.1L328.2 96.4L328.7 96.6L329.3 96.8L329.9 97.0L330.4 97.1L330.9 97.2L331.4 97.3L331.9 97.4L332.4 97.3L332.7 97.3" stroke="#cccccc" stroke-width="0.92"/><path d="M311.6 99.6L312.1 99.4L312.6 99.2L313.1 99.1L313.6 99.1L314.2 99.0L314.7 99.0L315.3 99.1L315.9 99.2L316.5 99.3L317.1 99.4L317.7 99.5L318.3 99.7L318.9 99.8L319.5 99.9L320.0 100.0L320.6 100.1L321.1 100.1L321.6 100.1L322.1 100.1L322.6 100.0L323.1 99.8" stroke="#cccccc" stroke-width="0.92"/><path d="M332.7 97.3L332.9 97.3" stroke="#cbcbcb" stroke-width="0.97"/><path d="M342.7 90.9L343.2 90.9L343.8 91.0L344.3 91.1L344.8 91.3L345.3 91.5L345.9 91.8L346.4 92.1L346.9 92.5L347.4 92.9L347.8 93.3L348.3 93.7L348.8 94.1L349.2 94.5L349.7 94.9L350.2 95.3L350.6 95.6L351.1 95.9L351.5 96.2L352.0 96.4L352.4 96.6L352.9 96.7" stroke="#cbcbcb" stroke-width="0.97"/><path d="M331.9 92.4L332.4 92.3L333.0 92.3L333.5 92.3L334.0 92.4L334.6 92.6L335.1 92.7L335.7 93.0L336.2 93.2L336.8 93.5L337.3 93.8L337.9 94.1L338.4 94.4L338.9 94.7L339.5 95.0L340.0 95.2L340.5 95.5L341.0 95.7L341.5 95.8L342.0 95.9L342.5 96.0L342.9 96.0" stroke="#cbcbcb" stroke-width="0.97"/><path d="M353.7 91.4L354.2 91.5L354.7 91.6L355.2 91.9L355.7 92.1L356.1 92.5L356.6 92.9L357.0 93.3L357.5 93.8L357.9 94.3L358.2 94.8L358.6 95.3L359.0 95.9L359.4 96.4L359.7 96.9L360.1 97.4L360.4 97.8L360.8 98.2L360.9 98.4" stroke="#cbcbcb" stroke-width="0.97"/><path d="M364.5 94.1L365.0 94.3L365.5 94.6L365.9 94.9L366.3 95.4L366.6 95.8L367.0 96.3L367.3 96.9L367.5 97.5L367.8 98.1L368.0 98.7L368.2 99.3L368.4 100.0L368.6 100.6L368.8 101.2L369.0 101.8L369.3 102.3L369.5 102.8L369.7 103.3L370.0 103.7L370.3 104.0L370.6 104.3" stroke="#c8c8c8" stroke-width="1.09"/><path d="M382.0 108.4L382.2 108.9L382.4 109.4L382.5 110.0L382.5 110.6L382.4 111.2L382.3 111.8L382.2 112.5L382.0 113.2L381.7 113.8L381.4 114.5L381.0 115.1L380.7 115.7L380.3 116.3L380.0 116.8L379.8 117.1" stroke="#c8c8c8" stroke-width="1.09"/><path d="M360.9 98.4L361.3 98.8L361.7 99.0L362.1 99.3L362.3 99.4" stroke="#c8c8c8" stroke-width="1.09"/><path d="M374.4 99.5L374.8 99.9L375.2 100.3L375.5 100.8L375.8 101.3L376.0 101.9L376.1 102.5L376.2 103.2L376.3 103.9L376.3 104.5L376.3 105.2L376.2 105.9L376.2 106.6L376.1 107.2L376.0 107.9L375.9 108.5L375.9 109.1L375.9 109.6L375.9 110.1L376.0 110.6L376.1 111.1L376.3 111.5" stroke="#c8c8c8" stroke-width="1.09"/><path d="M379.8 117.1L379.5 117.7L379.2 118.2L379.0 118.7L378.9 119.2L378.8 119.7L378.7 120.2L378.8 120.4" stroke="#c8c8c8" stroke-width="1.23"/><path d="M386.5 130.4L386.5 130.9L386.3 131.4L386.1 131.9L385.8 132.4L385.5 132.9L385.0 133.4L384.6 133.9L384.0 134.4L383.5 134.9L382.9 135.4L382.6 135.6" stroke="#c8c8c8" stroke-width="1.23"/><path d="M385.8 119.4L385.9 119.9L385.8 120.4L385.7 121.0L385.5 121.5L385.3 122.1L384.9 122.6L384.5 123.2L384.1 123.8L383.6 124.3L383.1 124.9L382.5 125.4L381.9 125.8L381.4 126.3L380.8 126.8L380.3 127.3L379.9 127.8L379.5 128.3L379.2 128.8L378.9 129.3L378.8 129.8L378.7 130.3" stroke="#c8c8c8" stroke-width="1.23"/><path d="M382.6 135.6L382.0 136.1L381.5 136.6L380.9 137.1L380.4 137.6L379.9 138.1L379.6 138.6L379.2 139.1L379.0 139.6L378.8 140.1L378.7 140.6L378.7 140.9" stroke="#9bc9ea" stroke-width="1.26"/><path d="M386.5 151.4L386.5 151.9L386.3 152.4L386.1 152.9L385.8 153.4L385.5 153.9L385.0 154.4L384.5 154.9L384.0 155.4L383.5 155.9L382.9 156.4L382.3 156.9L381.7 157.4L381.2 157.9L380.6 158.4L380.2 158.9L379.7 159.4L379.4 159.9L379.0 160.5L378.8 161.0L378.7 161.5L378.7 162.0" stroke="#9bc9ea" stroke-width="1.26"/><path d="M386.5 172.5L386.4 173.0L386.3 173.5L386.0 174.0L385.7 174.5L385.4 175.0L384.9 175.5L384.4 176.0L383.9 176.5L383.3 177.0L382.7 177.5L382.2 178.0L381.6 178.5L381.0 179.0L380.5 179.5L380.0 180.0L379.6 180.5L379.3 181.0L379.0 181.5L378.8 182.0L378.7 182.5L378.7 183.0" stroke="#9bc9ea" stroke-width="1.26"/><path d="M386.5 193.5L386.4 194.0L386.3 194.5L386.0 195.0L385.7 195.5L385.6 195.8" stroke="#9bc9ea" stroke-width="1.26"/><path d="M386.5 140.9L386.5 141.4L386.3 141.9L386.1 142.4L385.8 142.9L385.5 143.4L385.0 143.9L384.5 144.4L384.0 144.9L383.5 145.4L382.9 145.9L382.3 146.4L381.7 146.9L381.2 147.4L380.6 147.9L380.2 148.4L379.7 148.9L379.4 149.4L379.1 149.9L378.9 150.4L378.7 150.9L378.7 151.4" stroke="#9bc9ea" stroke-width="1.26"/><path d="M386.5 162.0L386.4 162.5L386.3 163.0L386.0 163.5L385.7 164.0L385.4 164.5L384.9 165.0L384.4 165.5L383.9 166.0L383.3 166.5L382.7 167.0L382.2 167.5L381.6 168.0L381.0 168.5L380.5 169.0L380.0 169.5L379.6 170.0L379.3 170.5L379.0 171.0L378.8 171.5L378.7 172.0L378.7 172.5" stroke="#9bc9ea" stroke-width="1.26"/><path d="M386.5 183.0L386.4 183.5L386.3 184.0L386.0 184.5L385.7 185.0L385.4 185.5L384.9 186.0L384.4 186.5L383.9 187.0L383.3 187.5L382.7 188.0L382.2 188.5L381.6 189.0L381.0 189.5L380.5 190.0L380.0 190.5L379.6 191.0L379.3 191.5L379.0 192.0L378.8 192.5L378.7 193.0L378.7 193.5" stroke="#9bc9ea" stroke-width="1.26"/><path d="M385.6 195.8L385.1 196.2L384.7 196.8L384.2 197.2L383.6 197.8L383.0 198.2L382.4 198.8L381.9 199.2L381.3 199.8L380.8 200.2L380.3 200.8L379.8 201.2L379.5 201.8L379.1 202.2L378.9 202.8L378.8 203.2L378.7 203.8L378.7 204.0" stroke="#b4b4b4" stroke-width="1.26"/><path d="M386.5 214.5L386.4 215.0L386.3 215.5L386.0 216.0L385.7 216.5L385.4 217.0L384.9 217.5L384.4 218.0L383.9 218.5L383.3 219.0L382.7 219.5L382.2 220.0L381.6 220.5L381.0 221.0L380.5 221.5L380.0 222.0L379.6 222.5L379.3 223.0L379.0 223.5L378.8 224.0L378.7 224.5L378.7 225.0" stroke="#b4b4b4" stroke-width="1.26"/><path d="M386.5 235.5L386.4 236.0L386.4 236.2" stroke="#b4b4b4" stroke-width="1.26"/><path d="M386.5 204.0L386.4 204.5L386.3 205.0L386.0 205.5L385.7 206.0L385.4 206.5L384.9 207.0L384.4 207.5L383.9 208.0L383.3 208.5L382.7 209.0L382.2 209.5L381.6 210.0L381.0 210.5L380.5 211.0L380.0 211.5L379.6 212.0L379.3 212.5L379.0 213.0L378.8 213.5L378.7 214.0L378.7 214.5" stroke="#b4b4b4" stroke-width="1.26"/><path d="M386.5 225.0L386.4 225.5L386.3 226.0L386.0 226.5L385.7 227.0L385.4 227.5L384.9 228.0L384.4 228.5L383.9 229.0L383.3 229.5L382.7 230.0L382.2 230.5L381.6 231.0L381.0 231.5L380.5 232.0L380.0 232.5L379.6 233.0L379.3 233.5L379.0 234.0L378.8 234.5L378.7 235.0L378.7 235.5" stroke="#b4b4b4" stroke-width="1.26"/><path d="M386.4 236.2L386.2 236.8L385.9 237.2L385.6 237.8L385.1 238.2L384.7 238.8L384.2 239.2L383.6 239.8L383.0 240.2L382.4 240.8L381.9 241.2L381.3 241.8L380.8 242.2L380.3 242.8L379.8 243.2L379.5 243.8L379.1 244.2L378.9 244.8L378.8 245.2L378.7 245.8L378.7 246.0" stroke="#d65a55" stroke-width="1.26"/><path d="M386.5 256.5L386.4 257.0L386.3 257.5L386.0 258.0L385.7 258.5L385.4 259.0L384.9 259.5L384.4 260.0L383.9 260.5L383.3 261.0L382.7 261.5L382.2 262.0L381.6 262.5L381.0 263.0L380.5 263.5L380.0 264.0L379.6 264.5L379.3 265.0L379.0 265.5L378.8 266.0L378.7 266.5L378.7 267.0" stroke="#d65a55" stroke-width="1.26"/><path d="M386.5 277.5L386.4 278.0L386.3 278.5L386.0 279.0L385.7 279.5L385.4 280.0L384.9 280.5L384.4 281.0L383.9 281.5L383.3 282.0L382.7 282.5L382.2 283.0L381.6 283.5L381.0 284.0L380.5 284.5L380.0 285.0L379.6 285.5L379.3 286.0L379.0 286.5L378.8 287.0L378.7 287.5L378.7 288.0" stroke="#d65a55" stroke-width="1.26"/><path d="M386.5 246.0L386.4 246.5L386.3 247.0L386.0 247.5L385.7 248.0L385.4 248.5L384.9 249.0L384.4 249.5L383.9 250.0L383.3 250.5L382.7 251.0L382.2 251.5L381.6 252.0L381.0 252.5L380.5 253.0L380.0 253.5L379.6 254.0L379.3 254.5L379.0 255.0L378.8 255.5L378.7 256.0L378.7 256.5" stroke="#d65a55" stroke-width="1.26"/><path d="M386.5 267.0L386.4 267.5L386.3 268.0L386.0 268.5L385.7 269.0L385.4 269.5L384.9 270.0L384.4 270.5L383.9 271.0L383.3 271.5L382.7 272.0L382.2 272.5L381.6 273.0L381.0 273.5L380.5 274.0L380.0 274.5L379.6 275.0L379.3 275.5L379.0 276.0L378.8 276.5L378.7 277.0L378.7 277.5" stroke="#d65a55" stroke-width="1.26"/><path d="M386.5 288.0L386.4 288.5L386.3 289.0L386.0 289.5L385.7 290.0L385.4 290.5L384.9 291.0L384.4 291.5L383.9 292.0L383.3 292.5L382.7 293.0L382.2 293.5L381.6 294.0L381.0 294.5L380.5 295.0L380.0 295.5L379.6 296.0L379.3 296.5L379.0 297.0L378.8 297.5L378.7 298.0L378.7 298.2" stroke="#d65a55" stroke-width="1.26"/><path d="M386.5 298.5L386.4 299.0L386.3 299.5L386.0 300.0L385.7 300.5L385.4 301.0L384.9 301.5L384.4 302.0L383.9 302.5L383.3 303.0L382.7 303.5L382.2 304.0L381.6 304.5L381.0 305.0L380.5 305.5L380.0 306.0L379.6 306.5L379.3 307.0L379.0 307.5L378.8 308.0L378.7 308.5L378.7 309.0" stroke="#d6d6d6" stroke-width="1.26"/><path d="M386.5 319.5L386.4 320.0L386.3 320.5L386.0 321.0L385.7 321.5L385.4 322.0L384.9 322.5L384.4 323.0L383.9 323.5L383.3 324.0L382.7 324.5L382.2 325.0L381.6 325.5L381.0 326.0L380.5 326.5L380.0 327.0L379.6 327.5L379.3 328.0L379.1 328.2" stroke="#d6d6d6" stroke-width="1.26"/><path d="M378.7 298.2L378.7 298.5" stroke="#d6d6d6" stroke-width="1.26"/><path d="M386.5 309.0L386.4 309.5L386.3 310.0L386.0 310.5L385.7 311.0L385.4 311.5L384.9 312.0L384.4 312.5L383.9 313.0L383.3 313.5L382.7 314.0L382.2 314.5L381.6 315.0L381.0 315.5L380.5 316.0L380.0 316.5L379.6 317.0L379.3 317.5L379.0 318.0L378.8 318.5L378.7 319.0L378.7 319.5" stroke="#d6d6d6" stroke-width="1.26"/><path d="M379.1 328.2L378.9 328.8L378.8 329.2L378.7 329.8L378.7 330.0" stroke="#d6d6d6" stroke-width="1.26"/><path d="M386.5 330.0L386.4 330.5L386.3 331.0L386.0 331.5L385.7 332.0L385.4 332.5L384.9 333.0L384.4 333.5L383.9 334.0L383.3 334.5L382.7 335.0L382.2 335.5L381.6 336.0L381.0 336.5L380.5 337.0L380.0 337.5L379.6 338.0L379.3 338.5L379.0 339.0L378.8 339.5L378.7 340.0" stroke="#d6d6d6" stroke-width="1.26"/><path d="M386.5 340.5L386.4 341.0L386.3 341.5L386.0 342.0L385.7 342.5L385.4 343.0L384.9 343.5L384.4 344.0L383.9 344.5L383.3 345.0L382.7 345.5L382.2 346.0L381.6 346.5L381.0 347.0L380.5 347.5L380.0 348.0L379.6 348.5L379.3 349.0L379.0 349.5L378.8 350.0L378.7 350.5L378.7 351.0" stroke="#f2c06a" stroke-width="1.26"/><path d="M386.5 361.5L386.4 362.0L386.3 362.5L386.0 363.0L385.7 363.5L385.4 364.0L384.9 364.5L384.4 365.0L383.9 365.5L383.3 366.0L382.7 366.5L382.2 367.0L381.6 367.5L381.0 368.0L380.5 368.5L380.0 369.0L379.6 369.5L379.3 370.0L379.0 370.5L378.8 371.0L378.7 371.5L378.7 372.0" stroke="#f2c06a" stroke-width="1.26"/><path d="M386.5 382.5L386.4 383.0L386.3 383.5L386.0 384.0L385.7 384.5L385.4 385.0L384.9 385.5L384.4 386.0L383.9 386.5L383.3 387.0L382.7 387.5L382.2 388.0L381.6 388.5L381.0 389.0L380.5 389.5L380.0 390.0L379.6 390.5L379.3 391.0L379.0 391.5L378.8 392.0L378.7 392.5L378.7 393.0" stroke="#f2c06a" stroke-width="1.26"/><path d="M378.7 340.0L378.7 340.5" stroke="#f2c06a" stroke-width="1.26"/><path d="M386.5 351.0L386.4 351.5L386.3 352.0L386.0 352.5L385.7 353.0L385.4 353.5L384.9 354.0L384.4 354.5L383.9 355.0L383.3 355.5L382.7 356.0L382.2 356.5L381.6 357.0L381.0 357.5L380.5 358.0L380.0 358.5L379.6 359.0L379.3 359.5L379.0 360.0L378.8 360.5L378.7 361.0L378.7 361.5" stroke="#f2c06a" stroke-width="1.26"/><path d="M386.5 372.0L386.4 372.5L386.3 373.0L386.0 373.5L385.7 374.0L385.4 374.5L384.9 375.0L384.4 375.5L383.9 376.0L383.3 376.5L382.7 377.0L382.2 377.5L381.6 378.0L381.0 378.5L380.5 379.0L380.0 379.5L379.6 380.0L379.3 380.5L379.0 381.0L378.8 381.5L378.7 382.0L378.7 382.5" stroke="#f2c06a" stroke-width="1.26"/><path d="M386.5 393.0L386.4 393.5L386.3 394.0L386.0 394.5L385.7 395.0L385.4 395.5L384.9 396.0L384.4 396.5L383.9 397.0L383.3 397.5L382.7 398.0L382.2 398.5L381.6 399.0L381.0 399.5L380.5 400.0L380.0 400.5" stroke="#f2c06a" stroke-width="1.26"/><path d="M386.5 403.5L386.4 404.0L386.3 404.5L386.0 405.0L385.7 405.5L385.4 406.0L384.9 406.5L384.4 407.0L383.9 407.5L383.3 408.0L382.7 408.5L382.2 409.0L381.6 409.5L381.0 410.0L380.5 410.5L380.0 411.0L379.6 411.5L379.3 412.0L379.0 412.5L378.8 413.0L378.7 413.5L378.7 414.0" stroke="#d6d6d6" stroke-width="1.26"/><path d="M386.5 424.5L386.4 425.0L386.3 425.5L386.0 426.0L385.7 426.5L385.4 427.0L384.9 427.5L384.4 428.0L383.9 428.5L383.3 429.0L382.7 429.5L382.2 430.0L381.6 430.5" stroke="#d6d6d6" stroke-width="1.26"/><path d="M380.0 400.5L379.6 401.0L379.3 401.5L379.0 402.0L378.8 402.5L378.7 403.0L378.7 403.5" stroke="#d6d6d6" stroke-width="1.26"/><path d="M386.5 414.0L386.4 414.5L386.3 415.0L386.0 415.5L385.7 416.0L385.4 416.5L384.9 417.0L384.4 417.5L383.9 418.0L383.3 418.5L382.7 419.0L382.2 419.5L381.6 420.0L381.0 420.5L380.5 421.0L380.0 421.5L379.6 422.0L379.3 422.5L379.0 423.0L378.8 423.5L378.7 424.0L378.7 424.5" stroke="#d6d6d6" stroke-width="1.26"/><path d="M381.6 430.5L381.0 431.0L380.5 431.5L380.0 432.0L379.6 432.5L379.3 433.0L379.0 433.5L378.8 434.0L378.7 434.5L378.7 435.0" stroke="#d6d6d6" stroke-width="1.26"/><path d="M386.5 435.0L386.4 435.5L386.3 436.0L386.0 436.5L385.7 437.0L385.4 437.5L384.9 438.0L384.4 438.5L383.9 439.0L383.3 439.5L382.7 440.0L382.2 440.5L381.6 441.0L381.0 441.5L380.5 442.0" stroke="#d6d6d6" stroke-width="1.26"/><path d="M386.5 445.5L386.4 446.0L386.3 446.5L386.0 447.0L385.7 447.5L385.4 448.0L384.9 448.5L384.4 449.0L383.9 449.5L383.3 450.0L382.7 450.5L382.2 451.0L381.6 451.5L381.0 452.0L380.5 452.5L380.0 453.0L379.6 453.5L379.3 454.0L379.0 454.5L378.8 455.0L378.7 455.5L378.7 456.0" stroke="#b0dcab" stroke-width="1.26"/><path d="M386.5 466.5L386.4 467.0L386.3 467.5L386.0 468.0L385.7 468.5L385.4 469.0L384.9 469.5L384.4 470.0L383.9 470.5L383.3 471.0L382.7 471.5L382.2 472.0L381.6 472.5L381.0 473.0L380.5 473.5L380.0 474.0L379.6 474.5L379.3 475.0L379.0 475.5L378.8 476.0L378.7 476.5L378.7 477.0" stroke="#b0dcab" stroke-width="1.26"/><path d="M386.5 487.5L386.4 488.0L386.3 488.5L386.1 489.0L385.8 489.5L385.4 490.0L384.9 490.5L384.4 491.0L383.9 491.5L383.3 492.0L382.8 492.5L382.2 493.0L381.6 493.5L381.1 494.0L380.5 494.5L380.1 495.0L379.7 495.5L379.3 496.0L379.1 496.5L378.9 497.0L378.8 497.5L378.7 498.0" stroke="#b0dcab" stroke-width="1.26"/><path d="M380.5 442.0L380.0 442.5L379.6 443.0L379.3 443.5L379.0 444.0L378.8 444.5L378.7 445.0L378.7 445.5" stroke="#b0dcab" stroke-width="1.26"/><path d="M386.5 456.0L386.4 456.5L386.3 457.0L386.0 457.5L385.7 458.0L385.4 458.5L384.9 459.0L384.4 459.5L383.9 460.0L383.3 460.5L382.7 461.0L382.2 461.5L381.6 462.0L381.0 462.5L380.5 463.0L380.0 463.5L379.6 464.0L379.3 464.5L379.0 465.0L378.8 465.5L378.7 466.0L378.7 466.5" stroke="#b0dcab" stroke-width="1.26"/><path d="M386.5 477.0L386.4 477.5L386.3 478.0L386.0 478.5L385.7 479.0L385.4 479.5L384.9 480.0L384.4 480.5L383.9 481.0L383.3 481.5L382.7 482.0L382.2 482.5L381.6 483.0L381.0 483.5L380.5 484.0L380.1 484.5L379.6 485.0L379.3 485.5L379.0 486.0L378.8 486.5L378.7 487.0L378.7 487.5" stroke="#b0dcab" stroke-width="1.26"/><path d="M386.5 498.0L386.5 498.5L386.3 499.0L386.1 499.5L385.8 500.0L385.4 500.5L384.9 501.0L384.4 501.5L383.9 502.0L383.3 502.5L383.0 502.8" stroke="#b0dcab" stroke-width="1.26"/><path d="M386.3 508.8L386.1 509.4L385.9 510.0L385.5 510.5L385.2 511.0L384.7 511.4L384.2 511.9L383.6 512.3L383.0 512.7L382.4 513.1L381.8 513.5L381.1 513.8L380.5 514.2L379.9 514.5L379.4 514.8L378.8 515.2L378.4 515.5L378.0 515.8L377.6 516.1L377.3 516.5L377.1 516.8L376.9 517.2" stroke="#d6d6d6" stroke-width="1.14"/><path d="M376.5 529.4L376.1 529.7L375.6 530.0L375.2 530.3L374.6 530.5L374.0 530.7L373.4 530.8L373.1 530.8" stroke="#d6d6d6" stroke-width="1.14"/><path d="M383.0 502.8L382.4 503.2L381.9 503.7L381.3 504.2L380.7 504.7L380.3 505.2L379.8 505.7L379.4 506.2L379.1 506.7L378.9 507.1L378.8 507.6L378.7 508.0L378.7 508.2" stroke="#d6d6d6" stroke-width="1.14"/><path d="M382.9 520.0L382.6 520.5L382.2 521.0L381.8 521.4L381.3 521.7L380.8 522.0L380.2 522.3L379.5 522.5L378.9 522.7L378.2 522.9L377.5 523.0L376.8 523.1L376.1 523.3L375.5 523.4L374.8 523.5L374.2 523.6L373.7 523.8L373.1 524.0L372.7 524.2L372.2 524.5L371.9 524.8L371.5 525.2" stroke="#d6d6d6" stroke-width="1.14"/><path d="M373.1 530.8L372.5 530.9L371.8 531.0L371.1 531.0L370.4 531.1L369.7 531.1L369.0 531.2L368.4 531.2L367.7 531.3L367.1 531.4L366.6 531.5L366.1 531.7L365.6 531.9L365.2 532.1L364.8 532.4L364.6 532.6" stroke="#d6d6d6" stroke-width="1.09"/><path d="M360.2 544.0L359.8 544.2L359.3 544.4L358.7 544.5L358.2 544.6L357.6 544.6L356.9 544.5L356.3 544.4L355.6 544.3L355.0 544.2L354.3 544.0L353.7 543.9L353.0 543.7L352.4 543.6L351.7 543.5L351.1 543.4L350.5 543.3L350.0 543.3L349.4 543.4L348.9 543.5L348.5 543.6L348.0 543.8" stroke="#d6d6d6" stroke-width="1.09"/><path d="M369.0 537.2L368.6 537.5L368.1 537.8L367.6 538.0L367.0 538.1L366.4 538.3L365.8 538.3L365.1 538.3L364.5 538.3L363.8 538.3L363.1 538.3L362.4 538.2L361.7 538.1L361.1 538.1L360.4 538.0L359.8 538.0L359.2 538.0L358.7 538.1L358.2 538.2L357.7 538.3L357.2 538.5L356.8 538.8" stroke="#d6d6d6" stroke-width="1.09"/><path d="M350.8 549.3L350.3 549.4L349.8 549.6L349.2 549.6L349.0 549.6" stroke="#d6d6d6" stroke-width="1.09"/><path d="M340.8 553.5L340.2 553.7L339.7 553.7L339.1 553.7L338.6 553.6L338.0 553.5L337.4 553.3L336.8 553.1L336.2 552.8L335.6 552.5L335.0 552.2L334.4 551.9L333.8 551.6L333.3 551.3L332.7 551.1L332.2 550.8L331.6 550.6L331.1 550.5L330.6 550.3L330.1 550.3L329.6 550.3L329.2 550.4" stroke="#d6d6d6" stroke-width="1.05"/><path d="M318.8 556.3L318.6 556.2" stroke="#d6d6d6" stroke-width="1.05"/><path d="M349.0 549.6L348.4 549.6L347.8 549.5L347.2 549.4L346.5 549.3L345.9 549.1L345.3 548.9L344.6 548.7L344.0 548.5L343.4 548.3L342.7 548.1L342.2 547.9L341.6 547.8L341.0 547.7L340.5 547.6L340.0 547.6L339.5 547.7L339.0 547.8L338.8 547.9" stroke="#d6d6d6" stroke-width="1.05"/><path d="M330.0 556.1L329.5 556.2L329.0 556.1L328.4 556.0L327.9 555.8L327.3 555.6L326.8 555.3L326.2 555.0L325.7 554.6L325.2 554.2L324.6 553.8L324.1 553.4L323.6 553.0L323.1 552.6L322.7 552.2L322.2 551.8L321.7 551.5L321.3 551.2L320.8 551.0L320.4 550.8L319.9 550.7L319.4 550.7" stroke="#d6d6d6" stroke-width="1.05"/><path d="M318.6 556.2L318.1 556.1L317.6 555.9L317.1 555.6L316.6 555.3L316.1 554.9L315.7 554.5L315.2 554.0L314.8 553.5L314.4 553.0L314.0 552.5L313.6 552.0L313.2 551.5L312.8 551.1L312.4 550.6L312.0 550.2L311.6 549.8L311.1 549.5L310.7 549.2L310.3 549.0L309.8 548.9L309.6 548.8" stroke="#d8d8d8" stroke-width="0.98"/><path d="M297.9 550.0L297.5 549.7L297.1 549.4L296.7 549.0L296.3 548.5L296.0 548.1L295.7 547.6L295.4 547.0L295.1 546.5L294.9 545.9L294.6 545.3L294.4 544.8L294.2 544.2L294.0 543.6L293.7 543.1L293.5 542.6L293.2 542.1L292.9 541.6L292.6 541.2L292.4 541.0" stroke="#d8d8d8" stroke-width="0.98"/><path d="M308.1 554.0L307.7 553.8L307.2 553.5L306.7 553.2L306.3 552.9L305.9 552.4L305.5 552.0L305.1 551.5L304.8 551.0L304.4 550.5L304.1 549.9L303.7 549.4L303.4 548.9L303.1 548.3L302.8 547.8L302.4 547.4L302.1 546.9L301.7 546.5L301.4 546.2L301.0 545.9L300.6 545.6L300.2 545.4" stroke="#d8d8d8" stroke-width="0.98"/><path d="M292.4 541.0L292.1 540.7L291.7 540.4L291.5 540.2" stroke="#dadada" stroke-width="0.89"/><path d="M280.3 537.7L280.0 537.3L279.6 536.9L279.3 536.5L279.0 536.0L278.8 535.5L278.6 535.0L278.3 534.5L278.2 533.9L278.0 533.4L277.8 532.8L277.6 532.2L277.5 531.6L277.3 531.1L277.1 530.6L276.9 530.0L276.7 529.5L276.5 529.1L276.2 528.6L275.9 528.2L275.6 527.9L275.3 527.5" stroke="#dadada" stroke-width="0.89"/><path d="M288.7 544.1L288.3 543.8L288.0 543.4L287.7 543.0L287.4 542.6L287.1 542.1L286.9 541.5L286.6 541.0L286.4 540.4L286.2 539.9L286.0 539.3L285.9 538.7L285.7 538.1L285.5 537.6L285.3 537.0L285.0 536.5L284.8 536.0L284.5 535.6L284.2 535.1L283.9 534.7L283.5 534.4L283.1 534.1" stroke="#dadada" stroke-width="0.89"/><path d="M272.3 530.5L271.9 530.1L271.6 529.7L271.4 529.2L271.1 528.7L271.0 528.2L270.8 527.7L270.7 527.1L270.5 526.5L270.4 526.0L270.4 525.4L270.3 524.8L270.2 524.2L270.1 523.7L270.0 523.1L269.9 522.6L269.9 522.3" stroke="#dadada" stroke-width="0.89"/><path d="M265.5 522.0L265.2 521.6L265.0 521.1L264.9 520.6L264.7 520.1L264.6 519.6L264.5 519.0L264.5 518.5L264.4 517.9L264.4 517.3L264.4 516.7L264.4 516.2L264.4 515.6L264.3 515.0L264.3 514.5L264.2 513.9L264.1 513.4L264.0 512.9L263.8 512.4L263.7 511.9L263.4 511.5L263.3 511.3" stroke="#dbdbdb" stroke-width="0.81"/><path d="M255.3 504.2L255.1 503.8L255.0 503.3L254.9 502.8L254.8 502.2L254.8 501.7L254.8 501.2L254.8 500.6L254.8 500.0L254.8 499.5L254.9 498.9L254.9 498.3L255.0 497.8L255.0 497.2L255.0 496.7" stroke="#dbdbdb" stroke-width="0.81"/><path d="M269.9 522.3L269.8 521.8L269.6 521.3L269.4 520.9L269.2 520.4L268.9 520.0L268.8 519.8" stroke="#dbdbdb" stroke-width="0.81"/><path d="M260.1 513.2L259.9 512.7L259.7 512.2L259.5 511.7L259.4 511.2L259.3 510.7L259.3 510.1L259.3 509.6L259.2 509.0L259.3 508.4L259.3 507.9L259.3 507.3L259.3 506.7L259.3 506.2L259.2 505.6L259.2 505.1L259.1 504.6L259.0 504.1L258.9 503.6L258.7 503.1L258.4 502.7" stroke="#dbdbdb" stroke-width="0.81"/><path d="M255.0 496.7L255.0 496.2L254.9 495.6L254.8 495.1L254.7 494.7L254.5 494.2" stroke="#dddddd" stroke-width="0.72"/><path d="M248.4 486.6L248.3 486.1L248.2 485.6L248.1 485.1L248.1 484.6L248.1 484.1L248.2 483.5L248.2 483.0L248.3 482.4L248.4 481.9L248.4 481.3L248.5 480.8L248.6 480.2L248.6 479.7L248.6 479.2L248.6 478.6L248.5 478.1L248.4 477.7L248.2 477.2" stroke="#dddddd" stroke-width="0.72"/><path d="M243.4 469.7L243.3 469.2L243.3 469.0" stroke="#dddddd" stroke-width="0.72"/><path d="M251.5 495.4L251.3 494.9L251.2 494.4L251.2 493.9L251.1 493.4L251.1 492.8L251.2 492.3L251.2 491.7L251.3 491.2L251.4 490.6L251.4 490.0L251.5 489.5L251.6 488.9L251.6 488.4L251.6 487.9L251.6 487.3L251.6 486.8L251.5 486.3L251.3 485.8L251.2 485.6" stroke="#dddddd" stroke-width="0.72"/><path d="M245.6 478.0L245.5 477.5L245.4 477.0L245.4 476.5L245.4 476.0L245.5 475.4L245.5 474.9L245.6 474.3L245.7 473.8L245.8 473.2L245.9 472.7L246.0 472.2L246.0 471.6L246.1 471.1L246.1 470.6L246.0 470.1L246.0 469.6L245.8 469.1" stroke="#dddddd" stroke-width="0.72"/><path d="M243.3 469.0L243.2 468.5L243.2 468.0L243.3 467.4L243.4 466.9L243.5 466.4L243.6 465.8L243.7 465.3L243.8 464.7L243.9 464.2L243.9 463.7L244.0 463.1L244.0 462.6L244.0 462.1L243.9 461.6L243.8 461.1" stroke="#dfdfdf" stroke-width="0.64"/><path d="M239.8 453.8L239.7 453.3L239.7 452.8L239.7 452.3L239.7 451.8L239.8 451.3L239.9 450.8L240.0 450.2L240.1 449.7L240.2 449.2L240.2 448.6L240.3 448.1L240.3 447.6L240.3 447.1L240.3 446.6L240.2 446.1L240.2 445.8" stroke="#dfdfdf" stroke-width="0.64"/><path d="M241.5 461.7L241.4 461.2L241.4 460.7L241.4 460.2L241.4 459.6L241.5 459.1L241.6 458.6L241.7 458.0L241.8 457.5L241.9 457.0L242.0 456.4L242.0 455.9L242.1 455.4L242.1 454.9L242.1 454.4L242.0 453.9L241.9 453.4" stroke="#dfdfdf" stroke-width="0.64"/><path d="M238.2 446.3L238.1 445.8L238.1 445.2L238.1 444.7L238.2 444.2L238.2 443.7L238.3 443.2L238.4 442.6L238.5 442.1L238.6 441.6L238.7 441.0L238.8 440.5L238.8 440.0L238.8 439.5L238.8 439.3" stroke="#dfdfdf" stroke-width="0.64"/><path d="M236.9 438.8L236.8 438.3L236.8 437.8L236.9 437.3L236.9 436.8L237.0 436.3L237.1 435.7L237.3 435.2L237.4 434.7L237.5 434.2L237.6 433.7L237.7 433.1L237.7 432.6L237.7 432.1L237.7 431.6L237.7 431.4" stroke="#e4dfe0" stroke-width="0.59"/><path d="M235.1 424.4L235.1 423.9L235.1 423.4L235.2 422.9L235.3 422.4L235.4 421.8L235.5 421.3L235.6 420.8L235.7 420.3L235.8 419.8L235.9 419.3L236.0 418.7L236.0 418.2L236.0 417.7L236.0 417.2" stroke="#e4dfe0" stroke-width="0.59"/><path d="M233.7 410.2L233.6 409.7" stroke="#e4dfe0" stroke-width="0.59"/><path d="M238.8 439.3L238.7 438.8L238.7 438.5" stroke="#e4dfe0" stroke-width="0.59"/><path d="M235.9 431.6L235.9 431.1L235.9 430.6L235.9 430.1L236.0 429.6L236.1 429.1L236.2 428.5L236.4 428.0L236.5 427.5L236.6 427.0L236.7 426.5L236.8 426.0L236.9 425.4L236.9 424.9L236.8 424.4L236.8 424.2" stroke="#e4dfe0" stroke-width="0.59"/><path d="M234.4 417.4L234.3 416.9L234.4 416.4L234.4 415.9L234.5 415.4L234.6 414.9L234.7 414.4L234.8 413.9L234.9 413.3L235.0 412.8L235.1 412.3L235.2 411.8L235.3 411.3L235.3 410.8L235.2 410.3L235.2 410.0" stroke="#e4dfe0" stroke-width="0.59"/><path d="M233.6 409.7L233.7 409.2L233.7 408.7L233.8 408.2L233.9 407.7L234.0 407.1L234.2 406.6L234.3 406.1L234.4 405.6L234.5 405.1L234.5 404.6L234.5 404.1L234.5 403.6L234.5 403.3" stroke="#e4dfe0" stroke-width="0.56"/><path d="M232.2 396.6L232.2 396.1L232.2 395.6L232.2 395.1L232.2 394.5L232.3 394.0L232.4 393.5L232.5 393.0L232.5 392.5L232.6 391.9L232.6 391.4L232.6 390.9L232.6 390.4L232.6 389.9L232.5 389.7" stroke="#e4dfe0" stroke-width="0.56"/><path d="M229.8 383.3L229.7 382.8L229.7 382.3L229.6 381.8L229.6 381.3L229.7 380.8L229.7 380.3L229.7 380.0" stroke="#e4dfe0" stroke-width="0.56"/><path d="M233.0 403.5L233.0 403.0L233.0 402.5L233.0 402.0L233.1 401.5L233.2 401.0L233.3 400.4L233.4 399.9L233.5 399.4L233.6 398.9L233.7 398.4L233.7 397.9L233.7 397.4L233.7 396.9L233.6 396.4" stroke="#e4dfe0" stroke-width="0.56"/><path d="M231.1 389.9L231.1 389.4L231.0 388.9L231.0 388.4L231.1 387.9L231.1 387.4L231.2 386.9L231.2 386.3L231.3 385.8L231.3 385.3L231.3 384.8L231.3 384.3L231.2 383.8L231.2 383.3L231.1 383.0" stroke="#e4dfe0" stroke-width="0.56"/><path d="M229.7 380.0L229.7 379.5L229.7 379.0L229.7 378.5L229.7 378.0L229.6 377.5L229.5 377.0L229.4 376.7" stroke="#e4dfe0" stroke-width="0.53"/><path d="M226.3 370.9L226.2 370.4L226.1 369.9L226.0 369.4L225.9 368.9L225.9 368.4L225.9 367.9L225.8 367.3L225.8 366.8L225.8 366.3L225.7 365.8L225.6 365.3L225.5 364.8L225.3 364.3" stroke="#e4dfe0" stroke-width="0.53"/><path d="M221.8 358.7L221.6 358.3L221.5 357.8L221.4 357.3L221.3 356.8L221.2 356.3L221.1 355.8L221.0 355.3L220.9 354.8L220.8 354.3L220.6 353.8L220.5 353.3L220.3 352.8L220.2 352.6" stroke="#e4dfe0" stroke-width="0.53"/><path d="M228.2 377.1L228.1 376.6L228.0 376.1L227.9 375.6L227.9 375.1L227.9 374.6L227.9 374.0L227.9 373.5L227.9 373.0L227.9 372.5L227.8 372.0L227.7 371.5L227.6 371.0L227.5 370.5" stroke="#e4dfe0" stroke-width="0.53"/><path d="M224.2 364.8L224.0 364.3L223.9 363.8L223.8 363.3L223.7 362.8L223.7 362.3L223.6 361.8L223.6 361.3L223.5 360.7L223.4 360.2L223.3 359.7L223.2 359.2L223.0 358.8L222.8 358.3" stroke="#e4dfe0" stroke-width="0.53"/><path d="M219.2 353.1L219.0 352.6L218.8 352.2" stroke="#e4dfe0" stroke-width="0.53"/><path d="M216.3 347.6L216.1 347.2L215.9 346.7L215.7 346.2L215.5 345.7L215.4 345.3L215.2 344.8L215.1 344.3L214.9 343.8L214.7 343.3L214.5 342.8L214.3 342.4L214.1 341.9L213.9 341.7" stroke="#e4dfe0" stroke-width="0.51"/><path d="M209.5 337.2L209.2 336.8L208.9 336.4L208.7 336.0L208.4 335.5L208.2 335.0L208.0 334.6L207.8 334.1L207.5 333.7L207.3 333.2L207.0 332.8L206.7 332.4L206.4 332.0L206.2 331.8" stroke="#e4dfe0" stroke-width="0.51"/><path d="M218.8 352.2L218.7 351.7L218.5 351.2L218.4 350.7L218.3 350.2L218.2 349.7L218.1 349.2L217.9 348.7L217.8 348.2L217.6 347.7L217.3 347.3L217.2 347.1" stroke="#e4dfe0" stroke-width="0.51"/><path d="M213.1 342.3L212.8 341.9L212.6 341.4L212.4 341.0L212.2 340.5L212.0 340.0L211.8 339.5L211.6 339.0L211.4 338.6L211.2 338.1L211.0 337.6L210.7 337.2L210.4 336.8L210.3 336.6" stroke="#e4dfe0" stroke-width="0.51"/><path d="M205.5 332.5L205.2 332.1L204.9 331.7L204.6 331.2L204.4 330.8L204.1 330.3L203.9 329.9L203.6 329.4L203.4 329.0L203.1 328.6L202.8 328.1L202.5 327.7L202.2 327.4" stroke="#e4dfe0" stroke-width="0.51"/><path d="M201.5 328.0L201.2 327.6L200.9 327.2L200.6 326.8L200.4 326.3L200.1 325.9L199.9 325.4L199.7 324.9L199.4 324.5L199.2 324.0L199.0 323.6L198.7 323.2L198.4 322.8L198.2 322.6" stroke="#e4dfe0" stroke-width="0.50"/><path d="M194.0 318.2L193.7 317.8L193.5 317.4L193.3 316.9L193.1 316.4L192.9 316.0L192.7 315.5L192.5 315.0L192.3 314.5L192.1 314.1L191.8 313.6L191.6 313.2L191.3 312.8" stroke="#e4dfe0" stroke-width="0.50"/><path d="M187.1 308.5L186.8 308.1L186.5 307.7L186.2 307.2L186.0 306.8L185.8 306.3L185.5 305.8L185.3 305.4L185.1 304.9L184.8 304.5L184.5 304.1L184.2 303.7L184.1 303.5" stroke="#e4dfe0" stroke-width="0.50"/><path d="M197.5 323.1L197.2 322.7L197.0 322.3L196.7 321.8L196.5 321.4L196.3 320.9L196.1 320.4L195.9 319.9L195.7 319.5L195.5 319.0L195.3 318.6L195.0 318.1L194.7 317.7" stroke="#e4dfe0" stroke-width="0.50"/><path d="M190.6 313.3L190.3 312.9L190.1 312.4L189.9 312.0L189.6 311.5L189.4 311.1L189.2 310.6L189.0 310.1L188.8 309.7L188.6 309.2L188.3 308.8L188.0 308.4L187.7 308.0" stroke="#e4dfe0" stroke-width="0.50"/><path d="M184.1 303.5L183.9 303.3" stroke="#e4dfe0" stroke-width="0.49"/><path d="M179.6 299.5L179.3 299.1L179.0 298.7L178.7 298.2L178.4 297.8L178.2 297.3L178.1 297.1" stroke="#e4dfe0" stroke-width="0.49"/><path d="M183.3 303.8L183.0 303.4L182.7 303.0L182.4 302.6L182.2 302.1L181.9 301.7L181.7 301.2L181.5 300.8L181.2 300.4L180.9 299.9L180.6 299.5L180.3 299.1L180.2 298.9" stroke="#e4dfe0" stroke-width="0.49"/><path d="M178.6 297.7L179.0 297.4L179.5 297.2L179.9 296.9L180.3 296.5L180.7 296.2L181.0 295.9L181.4 295.5L181.8 295.2L182.2 294.9L182.6 294.6L183.1 294.3L183.5 294.1L183.7 294.0" stroke="#e9e5e5" stroke-width="0.91"/><path d="M189.5 292.0L189.9 291.7L190.3 291.4L190.7 291.1L191.1 290.8L191.5 290.4L191.8 290.1L192.2 289.7L192.6 289.4L192.9 289.0L193.3 288.7L193.7 288.4L194.1 288.1L194.4 288.0" stroke="#e9e5e5" stroke-width="0.91"/><path d="M200.1 285.4L200.5 285.1L200.9 284.7L201.3 284.4L201.6 284.0L201.9 283.6L202.3 283.2L202.6 282.8L203.0 282.4L203.3 282.1L203.6 281.7L203.8 281.5" stroke="#e9e5e5" stroke-width="0.91"/><path d="M184.1 294.8L184.6 294.5L185.0 294.3L185.4 294.0L185.8 293.6L186.2 293.3L186.6 292.9L186.9 292.6L187.3 292.3L187.7 292.0L188.1 291.7L188.5 291.4L189.0 291.1" stroke="#e9e5e5" stroke-width="0.91"/><path d="M194.9 288.9L195.3 288.6L195.7 288.2L196.1 287.9L196.4 287.5L196.8 287.2L197.1 286.8L197.5 286.4L197.8 286.0L198.2 285.6L198.5 285.3L198.9 284.9L199.3 284.6L199.5 284.5" stroke="#e9e5e5" stroke-width="0.91"/><path d="M203.8 281.5L204.2 281.2L204.6 280.9" stroke="#e9e5e5" stroke-width="0.98"/><path d="M210.3 277.6L210.7 277.2L211.0 276.8L211.3 276.4L211.5 275.9L211.8 275.5L212.0 275.0L212.2 274.5L212.4 274.1L212.6 273.6L212.8 273.2L213.1 272.7L213.3 272.3L213.5 272.1" stroke="#e9e5e5" stroke-width="0.98"/><path d="M217.7 267.0L217.9 266.6L218.1 266.1L218.2 265.6L218.3 265.1L218.4 264.6L218.4 264.1L218.5 263.5L218.5 263.0L218.6 262.5L218.6 262.0L218.7 261.5L218.8 261.0L219.0 260.5L219.1 260.3" stroke="#e9e5e5" stroke-width="0.98"/><path d="M205.3 281.8L205.7 281.5L206.0 281.1L206.4 280.8L206.7 280.4L207.0 279.9L207.3 279.5L207.6 279.1L207.9 278.7L208.2 278.3L208.5 277.9L208.8 277.5L209.2 277.1L209.5 276.8" stroke="#e9e5e5" stroke-width="0.98"/><path d="M214.5 272.8L214.7 272.4L215.0 271.9L215.2 271.4L215.3 270.9L215.5 270.4L215.6 269.9L215.7 269.4L215.8 268.9L215.9 268.4L216.1 267.9L216.2 267.4L216.4 267.0L216.6 266.5" stroke="#e9e5e5" stroke-width="0.98"/><path d="M220.3 260.7L220.4 260.3L220.5 259.8L220.6 259.3L220.7 258.7L220.7 258.2L220.7 257.7" stroke="#e9e5e5" stroke-width="0.98"/><path d="M222.4 254.6L222.5 254.1L222.6 253.6L222.7 253.1L222.7 252.6L222.7 252.0L222.7 251.5L222.7 251.0L222.7 250.5L222.7 249.9L222.7 249.4L222.7 248.9L222.8 248.4L222.9 247.9L222.9 247.7" stroke="#e9e5e5" stroke-width="1.05"/><path d="M225.7 241.4L225.8 240.9L225.8 240.4L225.8 239.9L225.7 239.4L225.6 238.8L225.5 238.3L225.4 237.8L225.3 237.3L225.2 236.8L225.1 236.3L225.1 235.7L225.0 235.2L225.1 234.7L225.1 234.2" stroke="#e9e5e5" stroke-width="1.05"/><path d="M220.7 257.7L220.7 257.2L220.7 256.7L220.7 256.1L220.8 255.6L220.8 255.1L220.9 254.6L221.1 254.2" stroke="#e9e5e5" stroke-width="1.05"/><path d="M224.3 248.1L224.4 247.6L224.5 247.1L224.5 246.5L224.5 246.0L224.5 245.5L224.4 245.0L224.4 244.5L224.3 243.9L224.2 243.4L224.2 242.9L224.2 242.4L224.2 241.9L224.2 241.4L224.2 241.2" stroke="#e9e5e5" stroke-width="1.05"/><path d="M226.6 234.4L226.7 233.9L226.7 233.4L226.7 232.9L226.6 232.4L226.5 231.9L226.4 231.4L226.3 230.9L226.2 230.3L226.2 229.8L226.1 229.3L226.1 228.8L226.1 228.3" stroke="#e9e5e5" stroke-width="1.05"/><path d="M227.8 227.6L227.9 227.1L227.9 226.6L227.9 226.1L227.9 225.6L227.8 225.0L227.8 224.5L227.7 224.0L227.6 223.5L227.6 222.9L227.5 222.4L227.5 221.9L227.5 221.4L227.5 220.9L227.6 220.4L227.7 220.1" stroke="#cdcdcd" stroke-width="1.15"/><path d="M231.0 213.5L231.1 213.0L231.2 212.5L231.2 212.0L231.2 211.5L231.1 210.9L231.1 210.4L231.0 209.9L231.0 209.3L230.9 208.8L230.9 208.3L230.9 207.8L230.9 207.3L231.0 206.7L231.1 206.3L231.2 206.0" stroke="#cdcdcd" stroke-width="1.15"/><path d="M226.1 228.3L226.1 227.8L226.2 227.3" stroke="#cdcdcd" stroke-width="1.15"/><path d="M229.3 220.5L229.4 220.0L229.4 219.5L229.5 219.0L229.4 218.5L229.4 218.0L229.3 217.4L229.2 216.9L229.2 216.4L229.1 215.9L229.1 215.3L229.1 214.8L229.1 214.3L229.1 213.8L229.2 213.3L229.3 213.1" stroke="#cdcdcd" stroke-width="1.15"/><path d="M233.0 206.6L233.1 206.1L233.2 205.6L233.2 205.1L233.3 204.6L233.3 204.0L233.2 203.5L233.2 203.0L233.2 202.4L233.1 201.9L233.1 201.4L233.2 200.8L233.2 200.3L233.3 199.8L233.4 199.3L233.5 199.1" stroke="#cdcdcd" stroke-width="1.15"/><path d="M235.4 199.5L235.5 199.0L235.6 198.5L235.7 198.0L235.8 197.5L235.8 197.0L235.8 196.5L235.8 195.9L235.7 195.4L235.7 194.8L235.7 194.3L235.8 193.8L235.8 193.3L235.9 192.8L236.0 192.3L236.2 191.8" stroke="#cccccc" stroke-width="1.25"/><path d="M241.1 185.4L241.2 184.9L241.4 184.5L241.5 184.0L241.5 183.4L241.6 182.9L241.6 182.4L241.6 181.8L241.6 181.3L241.6 180.8L241.6 180.2L241.6 179.7L241.7 179.2L241.8 178.6L241.9 178.2L242.1 177.7L242.2 177.2" stroke="#cccccc" stroke-width="1.25"/><path d="M233.5 199.1L233.6 198.8" stroke="#cccccc" stroke-width="1.25"/><path d="M238.1 192.5L238.3 192.1L238.4 191.6L238.5 191.1L238.5 190.6L238.6 190.1L238.6 189.5L238.6 189.0L238.6 188.4L238.6 187.9L238.6 187.4L238.6 186.8L238.7 186.3L238.8 185.8L238.9 185.3L239.0 184.8L239.1 184.6" stroke="#cccccc" stroke-width="1.25"/><path d="M244.3 178.1L244.4 177.6L244.5 177.1L244.6 176.6L244.7 176.1L244.7 175.6L244.7 175.0L244.7 174.5L244.7 173.9L244.7 173.4L244.7 172.8L244.8 172.3L244.8 171.8L244.9 171.3" stroke="#cccccc" stroke-width="1.25"/><path d="M247.5 170.8L247.7 170.3L247.9 169.9L248.0 169.4L248.0 168.8L248.1 168.3L248.1 167.8L248.1 167.2L248.1 166.7L248.1 166.1L248.1 165.6L248.1 165.0L248.1 164.5L248.2 164.0L248.3 163.4L248.4 162.9L248.6 162.5L248.7 162.2" stroke="#c9c9c9" stroke-width="1.48"/><path d="M247.5 170.8L247.7 170.3L247.9 169.9L248.0 169.4L248.0 168.8L248.1 168.3L248.1 167.8L248.1 167.2L248.1 166.7L248.1 166.1L248.1 165.6L248.1 165.0L248.1 164.5L248.2 164.0L248.3 163.4L248.4 162.9L248.6 162.5L248.7 162.2" stroke="#e0e0e0" stroke-width="0.33"/><path d="M255.3 155.9L255.6 155.4L255.8 155.0L255.9 154.5L256.0 154.0L256.1 153.5L256.2 152.9L256.3 152.4L256.3 151.8L256.4 151.3L256.4 150.7L256.4 150.1L256.5 149.6L256.6 149.0L256.7 148.5L256.8 148.0L257.0 147.5L257.2 147.0L257.4 146.6L257.5 146.4" stroke="#c9c9c9" stroke-width="1.48"/><path d="M255.3 155.9L255.6 155.4L255.8 155.0L255.9 154.5L256.0 154.0L256.1 153.5L256.2 152.9L256.3 152.4L256.3 151.8L256.4 151.3L256.4 150.7L256.4 150.1L256.5 149.6L256.6 149.0L256.7 148.5L256.8 148.0L257.0 147.5L257.2 147.0L257.4 146.6L257.5 146.4" stroke="#e0e0e0" stroke-width="0.33"/><path d="M244.9 171.3L245.0 170.8L245.1 170.3L245.3 169.8" stroke="#c9c9c9" stroke-width="1.48"/><path d="M244.9 171.3L245.0 170.8L245.1 170.3L245.3 169.8" stroke="#e0e0e0" stroke-width="0.33"/><path d="M251.1 163.4L251.3 163.0L251.5 162.5L251.6 162.0L251.7 161.5L251.8 161.0L251.8 160.4L251.9 159.9L251.9 159.3L251.9 158.8L251.9 158.2L252.0 157.7L252.0 157.1L252.1 156.6L252.2 156.1L252.3 155.6L252.5 155.1L252.7 154.6L252.8 154.4" stroke="#c9c9c9" stroke-width="1.48"/><path d="M251.1 163.4L251.3 163.0L251.5 162.5L251.6 162.0L251.7 161.5L251.8 161.0L251.8 160.4L251.9 159.9L251.9 159.3L251.9 158.8L251.9 158.2L252.0 157.7L252.0 157.1L252.1 156.6L252.2 156.1L252.3 155.6L252.5 155.1L252.7 154.6L252.8 154.4" stroke="#e0e0e0" stroke-width="0.33"/><path d="M260.2 148.1L260.4 147.7L260.7 147.2L260.8 146.7L261.0 146.2L261.0 146.0" stroke="#c9c9c9" stroke-width="1.48"/><path d="M260.2 148.1L260.4 147.7L260.7 147.2L260.8 146.7L261.0 146.2L261.0 146.0" stroke="#e0e0e0" stroke-width="0.33"/><path d="M265.6 140.4L265.9 140.0L266.2 139.6L266.4 139.1L266.5 138.6L266.7 138.1L266.8 137.6L267.0 137.1L267.1 136.5L267.2 136.0L267.3 135.4L267.4 134.8L267.5 134.3L267.6 133.7L267.7 133.2L267.9 132.7L268.1 132.2L268.4 131.7L268.6 131.3L268.9 130.8L269.1 130.6" stroke="#c5c5c5" stroke-width="1.73"/><path d="M265.6 140.4L265.9 140.0L266.2 139.6L266.4 139.1L266.5 138.6L266.7 138.1L266.8 137.6L267.0 137.1L267.1 136.5L267.2 136.0L267.3 135.4L267.4 134.8L267.5 134.3L267.6 133.7L267.7 133.2L267.9 132.7L268.1 132.2L268.4 131.7L268.6 131.3L268.9 130.8L269.1 130.6" stroke="#dfdfdf" stroke-width="0.58"/><path d="M279.1 125.8L279.5 125.4L279.8 125.0L280.0 124.6L280.3 124.2L280.5 123.7" stroke="#c5c5c5" stroke-width="1.73"/><path d="M279.1 125.8L279.5 125.4L279.8 125.0L280.0 124.6L280.3 124.2L280.5 123.7" stroke="#dfdfdf" stroke-width="0.58"/><path d="M261.0 146.0L261.1 145.4L261.2 144.9L261.3 144.3L261.4 143.8L261.4 143.2L261.5 142.7L261.6 142.1L261.6 141.5L261.8 141.0L261.9 140.5L262.1 140.0L262.2 139.5L262.5 139.0L262.8 138.6L262.9 138.4" stroke="#c5c5c5" stroke-width="1.73"/><path d="M261.0 146.0L261.1 145.4L261.2 144.9L261.3 144.3L261.4 143.8L261.4 143.2L261.5 142.7L261.6 142.1L261.6 141.5L261.8 141.0L261.9 140.5L262.1 140.0L262.2 139.5L262.5 139.0L262.8 138.6L262.9 138.4" stroke="#dfdfdf" stroke-width="0.58"/><path d="M271.8 133.1L272.2 132.7L272.4 132.3L272.7 131.9L272.9 131.4L273.1 130.9L273.3 130.4L273.5 129.9L273.6 129.4L273.8 128.8L273.9 128.2L274.0 127.7L274.2 127.1L274.3 126.6L274.5 126.0L274.7 125.5L274.9 125.0L275.1 124.5L275.4 124.1L275.7 123.7L276.0 123.3L276.4 122.9" stroke="#c5c5c5" stroke-width="1.73"/><path d="M271.8 133.1L272.2 132.7L272.4 132.3L272.7 131.9L272.9 131.4L273.1 130.9L273.3 130.4L273.5 129.9L273.6 129.4L273.8 128.8L273.9 128.2L274.0 127.7L274.2 127.1L274.3 126.6L274.5 126.0L274.7 125.5L274.9 125.0L275.1 124.5L275.4 124.1L275.7 123.7L276.0 123.3L276.4 122.9" stroke="#dfdfdf" stroke-width="0.58"/><path d="M280.5 123.7L280.7 123.2L280.9 122.7L281.1 122.1L281.3 121.6L281.5 121.0L281.7 120.4L281.8 119.9L282.0 119.3L282.3 118.8L282.5 118.3L282.7 117.8L283.0 117.3L283.3 116.9L283.7 116.5L284.1 116.2L284.3 116.0" stroke="#c3c3c3" stroke-width="1.94"/><path d="M280.5 123.7L280.7 123.2L280.9 122.7L281.1 122.1L281.3 121.6L281.5 121.0L281.7 120.4L281.8 119.9L282.0 119.3L282.3 118.8L282.5 118.3L282.7 117.8L283.0 117.3L283.3 116.9L283.7 116.5L284.1 116.2L284.3 116.0" stroke="#dddddd" stroke-width="0.79"/><path d="M295.4 113.8L295.8 113.5L296.2 113.2L296.6 112.8L296.9 112.4L297.3 112.0L297.6 111.6L297.9 111.1L298.1 110.6L298.4 110.0L298.7 109.5L299.0 109.0L299.2 108.4L299.5 107.9L299.8 107.4L300.1 106.9L300.4 106.5L300.7 106.0L301.1 105.6L301.5 105.3L301.9 105.0L302.3 104.7" stroke="#c3c3c3" stroke-width="1.94"/><path d="M295.4 113.8L295.8 113.5L296.2 113.2L296.6 112.8L296.9 112.4L297.3 112.0L297.6 111.6L297.9 111.1L298.1 110.6L298.4 110.0L298.7 109.5L299.0 109.0L299.2 108.4L299.5 107.9L299.8 107.4L300.1 106.9L300.4 106.5L300.7 106.0L301.1 105.6L301.5 105.3L301.9 105.0L302.3 104.7" stroke="#dddddd" stroke-width="0.79"/><path d="M286.8 119.4L287.2 119.1L287.6 118.7L287.9 118.3L288.2 117.9L288.5 117.5L288.7 117.0L289.0 116.5L289.2 116.0L289.5 115.5L289.7 114.9L290.0 114.4L290.2 113.8L290.5 113.3L290.7 112.8L291.0 112.3L291.3 111.8L291.6 111.4L292.0 111.0L292.4 110.6L292.7 110.3L293.2 110.0" stroke="#c3c3c3" stroke-width="1.94"/><path d="M286.8 119.4L287.2 119.1L287.6 118.7L287.9 118.3L288.2 117.9L288.5 117.5L288.7 117.0L289.0 116.5L289.2 116.0L289.5 115.5L289.7 114.9L290.0 114.4L290.2 113.8L290.5 113.3L290.7 112.8L291.0 112.3L291.3 111.8L291.6 111.4L292.0 111.0L292.4 110.6L292.7 110.3L293.2 110.0" stroke="#dddddd" stroke-width="0.79"/><path d="M304.5 108.6L304.9 108.3L305.3 108.0L305.5 107.9" stroke="#c3c3c3" stroke-width="1.94"/><path d="M304.5 108.6L304.9 108.3L305.3 108.0L305.5 107.9" stroke="#dddddd" stroke-width="0.79"/><path d="M313.7 103.8L314.1 103.5L314.5 103.3L314.9 102.9L315.3 102.6L315.6 102.2L316.0 101.7L316.3 101.3L316.6 100.8L316.9 100.2L317.2 99.7L317.6 99.2L317.9 98.7L318.2 98.2L318.6 97.7L318.9 97.2L319.3 96.8L319.7 96.4L320.1 96.0L320.6 95.7L321.0 95.5L321.5 95.3" stroke="#c1c1c1" stroke-width="2.07"/><path d="M313.7 103.8L314.1 103.5L314.5 103.3L314.9 102.9L315.3 102.6L315.6 102.2L316.0 101.7L316.3 101.3L316.6 100.8L316.9 100.2L317.2 99.7L317.6 99.2L317.9 98.7L318.2 98.2L318.6 97.7L318.9 97.2L319.3 96.8L319.7 96.4L320.1 96.0L320.6 95.7L321.0 95.5L321.5 95.3" stroke="#dcdcdc" stroke-width="0.92"/><path d="M305.5 107.9L305.9 107.5L306.2 107.1L306.5 106.7L306.9 106.2L307.1 105.7L307.4 105.2L307.7 104.6L308.0 104.1L308.3 103.6L308.5 103.0L308.8 102.5L309.1 102.0L309.5 101.5L309.8 101.1L310.2 100.7L310.5 100.3L311.0 100.0L311.4 99.7L311.6 99.6" stroke="#c1c1c1" stroke-width="2.07"/><path d="M305.5 107.9L305.9 107.5L306.2 107.1L306.5 106.7L306.9 106.2L307.1 105.7L307.4 105.2L307.7 104.6L308.0 104.1L308.3 103.6L308.5 103.0L308.8 102.5L309.1 102.0L309.5 101.5L309.8 101.1L310.2 100.7L310.5 100.3L311.0 100.0L311.4 99.7L311.6 99.6" stroke="#dcdcdc" stroke-width="0.92"/><path d="M323.1 99.8L323.5 99.7L324.0 99.4L324.4 99.2L324.8 98.8L325.2 98.5L325.6 98.1L326.0 97.7L326.4 97.2L326.7 96.7L327.1 96.3L327.5 95.8L327.9 95.3L328.3 94.8L328.7 94.4L329.1 94.0L329.6 93.6L330.0 93.3L330.5 93.0L331.0 92.7L331.4 92.5L331.7 92.5" stroke="#c1c1c1" stroke-width="2.07"/><path d="M323.1 99.8L323.5 99.7L324.0 99.4L324.4 99.2L324.8 98.8L325.2 98.5L325.6 98.1L326.0 97.7L326.4 97.2L326.7 96.7L327.1 96.3L327.5 95.8L327.9 95.3L328.3 94.8L328.7 94.4L329.1 94.0L329.6 93.6L330.0 93.3L330.5 93.0L331.0 92.7L331.4 92.5L331.7 92.5" stroke="#dcdcdc" stroke-width="0.92"/><path d="M332.9 97.3L333.4 97.1L333.9 97.0L334.3 96.8L334.8 96.5L335.2 96.2L335.6 95.8L336.1 95.4L336.5 95.0L336.9 94.6L337.4 94.2L337.8 93.7L338.3 93.3L338.7 92.9L339.2 92.5L339.7 92.1L340.2 91.8L340.7 91.5L341.2 91.2L341.7 91.1L342.2 91.0L342.7 90.9" stroke="#bfbfbf" stroke-width="2.21"/><path d="M332.9 97.3L333.4 97.1L333.9 97.0L334.3 96.8L334.8 96.5L335.2 96.2L335.6 95.8L336.1 95.4L336.5 95.0L336.9 94.6L337.4 94.2L337.8 93.7L338.3 93.3L338.7 92.9L339.2 92.5L339.7 92.1L340.2 91.8L340.7 91.5L341.2 91.2L341.7 91.1L342.2 91.0L342.7 90.9" stroke="#dcdcdc" stroke-width="1.06"/><path d="M352.9 96.7L353.4 96.7L353.9 96.7L354.4 96.7L354.9 96.6L355.4 96.4L355.9 96.2L356.4 96.0L357.0 95.7L357.6 95.5L358.1 95.2L358.7 94.9L359.3 94.7L359.9 94.4L360.5 94.2L361.1 94.0L361.7 93.9L362.3 93.8L362.6 93.8" stroke="#bfbfbf" stroke-width="2.21"/><path d="M352.9 96.7L353.4 96.7L353.9 96.7L354.4 96.7L354.9 96.6L355.4 96.4L355.9 96.2L356.4 96.0L357.0 95.7L357.6 95.5L358.1 95.2L358.7 94.9L359.3 94.7L359.9 94.4L360.5 94.2L361.1 94.0L361.7 93.9L362.3 93.8L362.6 93.8" stroke="#dcdcdc" stroke-width="1.06"/><path d="M331.7 92.5L331.9 92.4" stroke="#bfbfbf" stroke-width="2.21"/><path d="M331.7 92.5L331.9 92.4" stroke="#dcdcdc" stroke-width="1.06"/><path d="M342.9 96.0L343.4 96.0L343.9 95.9L344.4 95.7L344.8 95.5L345.3 95.3L345.8 95.0L346.3 94.7L346.8 94.4L347.3 94.0L347.8 93.7L348.3 93.3L348.9 93.0L349.4 92.6L349.9 92.3L350.5 92.0L351.0 91.8L351.6 91.6L352.1 91.4L352.6 91.4L353.2 91.3L353.7 91.4" stroke="#bfbfbf" stroke-width="2.21"/><path d="M342.9 96.0L343.4 96.0L343.9 95.9L344.4 95.7L344.8 95.5L345.3 95.3L345.8 95.0L346.3 94.7L346.8 94.4L347.3 94.0L347.8 93.7L348.3 93.3L348.9 93.0L349.4 92.6L349.9 92.3L350.5 92.0L351.0 91.8L351.6 91.6L352.1 91.4L352.6 91.4L353.2 91.3L353.7 91.4" stroke="#dcdcdc" stroke-width="1.06"/><path d="M362.6 93.8L363.2 93.8L363.7 93.9L364.3 94.0L364.5 94.1" stroke="#bcbcbc" stroke-width="2.53"/><path d="M362.6 93.8L363.2 93.8L363.7 93.9L364.3 94.0L364.5 94.1" stroke="#dadada" stroke-width="1.38"/><path d="M370.6 104.3L371.0 104.6L371.4 104.8L371.8 105.0L372.3 105.1L372.8 105.2L373.4 105.3L374.0 105.3L374.6 105.4L375.2 105.5L375.9 105.5L376.6 105.6L377.3 105.7L378.0 105.9L378.6 106.1L379.2 106.3L379.8 106.5L380.4 106.8L380.9 107.2L381.3 107.5L381.7 108.0L382.0 108.4" stroke="#bcbcbc" stroke-width="2.53"/><path d="M370.6 104.3L371.0 104.6L371.4 104.8L371.8 105.0L372.3 105.1L372.8 105.2L373.4 105.3L374.0 105.3L374.6 105.4L375.2 105.5L375.9 105.5L376.6 105.6L377.3 105.7L378.0 105.9L378.6 106.1L379.2 106.3L379.8 106.5L380.4 106.8L380.9 107.2L381.3 107.5L381.7 108.0L382.0 108.4" stroke="#dadada" stroke-width="1.38"/><path d="M362.3 99.4L362.7 99.5L363.2 99.7L363.7 99.7L364.2 99.7L364.8 99.7L365.3 99.6L365.9 99.5L366.5 99.4L367.2 99.2L367.8 99.1L368.5 99.0L369.1 98.8L369.8 98.7L370.4 98.6L371.1 98.6L371.7 98.6L372.3 98.7L372.9 98.8L373.4 98.9L373.9 99.2L374.4 99.5" stroke="#bcbcbc" stroke-width="2.53"/><path d="M362.3 99.4L362.7 99.5L363.2 99.7L363.7 99.7L364.2 99.7L364.8 99.7L365.3 99.6L365.9 99.5L366.5 99.4L367.2 99.2L367.8 99.1L368.5 99.0L369.1 98.8L369.8 98.7L370.4 98.6L371.1 98.6L371.7 98.6L372.3 98.7L372.9 98.8L373.4 98.9L373.9 99.2L374.4 99.5" stroke="#dadada" stroke-width="1.38"/><path d="M376.3 111.5L376.5 111.9L376.8 112.2L377.2 112.6L377.6 112.9L378.0 113.2L378.5 113.5L379.1 113.7L379.7 114.0L380.3 114.3L380.9 114.6L381.5 114.9L382.1 115.3L382.8 115.7L383.3 116.1L383.6 116.3" stroke="#bcbcbc" stroke-width="2.53"/><path d="M376.3 111.5L376.5 111.9L376.8 112.2L377.2 112.6L377.6 112.9L378.0 113.2L378.5 113.5L379.1 113.7L379.7 114.0L380.3 114.3L380.9 114.6L381.5 114.9L382.1 115.3L382.8 115.7L383.3 116.1L383.6 116.3" stroke="#dadada" stroke-width="1.38"/><path d="M378.8 120.4L378.9 120.9L379.0 121.3L379.3 121.8L379.6 122.2L380.0 122.7L380.4 123.1L380.9 123.5L381.4 124.0L381.9 124.4L382.5 124.9L383.1 125.4L383.6 125.9L384.1 126.4L384.6 126.9L385.1 127.5L385.5 128.0L385.8 128.5L386.1 129.0L386.3 129.5L386.5 129.9L386.5 130.4" stroke="#bcbcbc" stroke-width="2.94"/><path d="M378.8 120.4L378.9 120.9L379.0 121.3L379.3 121.8L379.6 122.2L380.0 122.7L380.4 123.1L380.9 123.5L381.4 124.0L381.9 124.4L382.5 124.9L383.1 125.4L383.6 125.9L384.1 126.4L384.6 126.9L385.1 127.5L385.5 128.0L385.8 128.5L386.1 129.0L386.3 129.5L386.5 129.9L386.5 130.4" stroke="#dadada" stroke-width="1.79"/><path d="M383.6 116.3L384.1 116.7L384.6 117.2L385.0 117.6L385.3 118.1L385.6 118.6L385.8 119.1L385.8 119.4" stroke="#bcbcbc" stroke-width="2.94"/><path d="M383.6 116.3L384.1 116.7L384.6 117.2L385.0 117.6L385.3 118.1L385.6 118.6L385.8 119.1L385.8 119.4" stroke="#dadada" stroke-width="1.79"/><path d="M378.7 130.3L378.8 130.8L378.9 131.3L379.1 131.9L379.4 132.4L379.7 132.9L380.2 133.4L380.6 133.9L381.2 134.4L381.7 134.9L382.3 135.4L382.6 135.6" stroke="#bcbcbc" stroke-width="2.94"/><path d="M378.7 130.3L378.8 130.8L378.9 131.3L379.1 131.9L379.4 132.4L379.7 132.9L380.2 133.4L380.6 133.9L381.2 134.4L381.7 134.9L382.3 135.4L382.6 135.6" stroke="#dadada" stroke-width="1.79"/><path d="M378.7 140.9L378.7 141.4L378.9 141.9L379.1 142.4L379.4 142.9L379.7 143.4L380.2 143.9L380.7 144.4L381.2 144.9L381.7 145.4L382.3 145.9L382.9 146.4L383.5 146.9L384.0 147.4L384.6 147.9L385.0 148.4L385.5 148.9L385.8 149.4L386.1 149.9L386.3 150.4L386.5 150.9L386.5 151.4" stroke="#82b9df" stroke-width="3.02"/><path d="M378.7 140.9L378.7 141.4L378.9 141.9L379.1 142.4L379.4 142.9L379.7 143.4L380.2 143.9L380.7 144.4L381.2 144.9L381.7 145.4L382.3 145.9L382.9 146.4L383.5 146.9L384.0 147.4L384.6 147.9L385.0 148.4L385.5 148.9L385.8 149.4L386.1 149.9L386.3 150.4L386.5 150.9L386.5 151.4" stroke="#c4e0f3" stroke-width="1.87"/><path d="M378.7 162.0L378.8 162.5L378.9 163.0L379.2 163.5L379.5 164.0L379.8 164.5L380.3 165.0L380.8 165.5L381.3 166.0L381.9 166.5L382.5 167.0L383.0 167.5L383.6 168.0L384.2 168.5L384.7 169.0L385.2 169.5L385.6 170.0L385.9 170.5L386.2 171.0L386.4 171.5L386.5 172.0L386.5 172.5" stroke="#82b9df" stroke-width="3.02"/><path d="M378.7 162.0L378.8 162.5L378.9 163.0L379.2 163.5L379.5 164.0L379.8 164.5L380.3 165.0L380.8 165.5L381.3 166.0L381.9 166.5L382.5 167.0L383.0 167.5L383.6 168.0L384.2 168.5L384.7 169.0L385.2 169.5L385.6 170.0L385.9 170.5L386.2 171.0L386.4 171.5L386.5 172.0L386.5 172.5" stroke="#c4e0f3" stroke-width="1.87"/><path d="M378.7 183.0L378.8 183.5L378.9 184.0L379.2 184.5L379.5 185.0L379.8 185.5L380.3 186.0L380.8 186.5L381.3 187.0L381.9 187.5L382.5 188.0L383.0 188.5L383.6 189.0L384.2 189.5L384.7 190.0L385.2 190.5L385.6 191.0L385.9 191.5L386.2 192.0L386.4 192.5L386.5 193.0L386.5 193.5" stroke="#82b9df" stroke-width="3.02"/><path d="M378.7 183.0L378.8 183.5L378.9 184.0L379.2 184.5L379.5 185.0L379.8 185.5L380.3 186.0L380.8 186.5L381.3 187.0L381.9 187.5L382.5 188.0L383.0 188.5L383.6 189.0L384.2 189.5L384.7 190.0L385.2 190.5L385.6 191.0L385.9 191.5L386.2 192.0L386.4 192.5L386.5 193.0L386.5 193.5" stroke="#c4e0f3" stroke-width="1.87"/><path d="M382.6 135.6L383.2 136.1L383.7 136.6L384.3 137.1L384.8 137.6L385.3 138.1L385.6 138.6L386.0 139.1L386.2 139.6L386.4 140.1L386.5 140.6L386.5 140.9" stroke="#82b9df" stroke-width="3.02"/><path d="M382.6 135.6L383.2 136.1L383.7 136.6L384.3 137.1L384.8 137.6L385.3 138.1L385.6 138.6L386.0 139.1L386.2 139.6L386.4 140.1L386.5 140.6L386.5 140.9" stroke="#c4e0f3" stroke-width="1.87"/><path d="M378.7 151.4L378.7 151.9L378.9 152.4L379.1 152.9L379.4 153.4L379.7 153.9L380.2 154.4L380.7 154.9L381.2 155.4L381.7 155.9L382.3 156.4L382.9 156.9L383.5 157.4L384.0 157.9L384.6 158.4L385.0 158.9L385.5 159.4L385.8 159.9L386.2 160.5L386.4 161.0L386.5 161.5L386.5 162.0" stroke="#82b9df" stroke-width="3.02"/><path d="M378.7 151.4L378.7 151.9L378.9 152.4L379.1 152.9L379.4 153.4L379.7 153.9L380.2 154.4L380.7 154.9L381.2 155.4L381.7 155.9L382.3 156.4L382.9 156.9L383.5 157.4L384.0 157.9L384.6 158.4L385.0 158.9L385.5 159.4L385.8 159.9L386.2 160.5L386.4 161.0L386.5 161.5L386.5 162.0" stroke="#c4e0f3" stroke-width="1.87"/><path d="M378.7 172.5L378.8 173.0L378.9 173.5L379.2 174.0L379.5 174.5L379.8 175.0L380.3 175.5L380.8 176.0L381.3 176.5L381.9 177.0L382.5 177.5L383.0 178.0L383.6 178.5L384.2 179.0L384.7 179.5L385.2 180.0L385.6 180.5L385.9 181.0L386.2 181.5L386.4 182.0L386.5 182.5L386.5 183.0" stroke="#82b9df" stroke-width="3.02"/><path d="M378.7 172.5L378.8 173.0L378.9 173.5L379.2 174.0L379.5 174.5L379.8 175.0L380.3 175.5L380.8 176.0L381.3 176.5L381.9 177.0L382.5 177.5L383.0 178.0L383.6 178.5L384.2 179.0L384.7 179.5L385.2 180.0L385.6 180.5L385.9 181.0L386.2 181.5L386.4 182.0L386.5 182.5L386.5 183.0" stroke="#c4e0f3" stroke-width="1.87"/><path d="M378.7 193.5L378.8 194.0L378.9 194.5L379.2 195.0L379.5 195.5L379.6 195.8" stroke="#82b9df" stroke-width="3.02"/><path d="M378.7 193.5L378.8 194.0L378.9 194.5L379.2 195.0L379.5 195.5L379.6 195.8" stroke="#c4e0f3" stroke-width="1.87"/><path d="M378.7 204.0L378.8 204.5L378.9 205.0L379.2 205.5L379.5 206.0L379.8 206.5L380.3 207.0L380.8 207.5L381.3 208.0L381.9 208.5L382.5 209.0L383.0 209.5L383.6 210.0L384.2 210.5L384.7 211.0L385.2 211.5L385.6 212.0L385.9 212.5L386.2 213.0L386.4 213.5L386.5 214.0L386.5 214.5" stroke="#a3a3a3" stroke-width="3.02"/><path d="M378.7 204.0L378.8 204.5L378.9 205.0L379.2 205.5L379.5 206.0L379.8 206.5L380.3 207.0L380.8 207.5L381.3 208.0L381.9 208.5L382.5 209.0L383.0 209.5L383.6 210.0L384.2 210.5L384.7 211.0L385.2 211.5L385.6 212.0L385.9 212.5L386.2 213.0L386.4 213.5L386.5 214.0L386.5 214.5" stroke="#cfcfcf" stroke-width="1.87"/><path d="M378.7 225.0L378.8 225.5L378.9 226.0L379.2 226.5L379.5 227.0L379.8 227.5L380.3 228.0L380.8 228.5L381.3 229.0L381.9 229.5L382.5 230.0L383.0 230.5L383.6 231.0L384.2 231.5L384.7 232.0L385.2 232.5L385.6 233.0L385.9 233.5L386.2 234.0L386.4 234.5L386.5 235.0L386.5 235.5" stroke="#a3a3a3" stroke-width="3.02"/><path d="M378.7 225.0L378.8 225.5L378.9 226.0L379.2 226.5L379.5 227.0L379.8 227.5L380.3 228.0L380.8 228.5L381.3 229.0L381.9 229.5L382.5 230.0L383.0 230.5L383.6 231.0L384.2 231.5L384.7 232.0L385.2 232.5L385.6 233.0L385.9 233.5L386.2 234.0L386.4 234.5L386.5 235.0L386.5 235.5" stroke="#cfcfcf" stroke-width="1.87"/><path d="M379.6 195.8L380.1 196.2L380.5 196.8L381.0 197.2L381.6 197.8L382.2 198.2L382.8 198.8L383.3 199.2L383.9 199.8L384.4 200.2L384.9 200.8L385.4 201.2L385.7 201.8L386.1 202.2L386.3 202.8L386.4 203.2L386.5 203.8L386.5 204.0" stroke="#a3a3a3" stroke-width="3.02"/><path d="M379.6 195.8L380.1 196.2L380.5 196.8L381.0 197.2L381.6 197.8L382.2 198.2L382.8 198.8L383.3 199.2L383.9 199.8L384.4 200.2L384.9 200.8L385.4 201.2L385.7 201.8L386.1 202.2L386.3 202.8L386.4 203.2L386.5 203.8L386.5 204.0" stroke="#cfcfcf" stroke-width="1.87"/><path d="M378.7 214.5L378.8 215.0L378.9 215.5L379.2 216.0L379.5 216.5L379.8 217.0L380.3 217.5L380.8 218.0L381.3 218.5L381.9 219.0L382.5 219.5L383.0 220.0L383.6 220.5L384.2 221.0L384.7 221.5L385.2 222.0L385.6 222.5L385.9 223.0L386.2 223.5L386.4 224.0L386.5 224.5L386.5 225.0" stroke="#a3a3a3" stroke-width="3.02"/><path d="M378.7 214.5L378.8 215.0L378.9 215.5L379.2 216.0L379.5 216.5L379.8 217.0L380.3 217.5L380.8 218.0L381.3 218.5L381.9 219.0L382.5 219.5L383.0 220.0L383.6 220.5L384.2 221.0L384.7 221.5L385.2 222.0L385.6 222.5L385.9 223.0L386.2 223.5L386.4 224.0L386.5 224.5L386.5 225.0" stroke="#cfcfcf" stroke-width="1.87"/><path d="M378.7 235.5L378.8 236.0L378.8 236.2" stroke="#a3a3a3" stroke-width="3.02"/><path d="M378.7 235.5L378.8 236.0L378.8 236.2" stroke="#cfcfcf" stroke-width="1.87"/><path d="M378.7 246.0L378.8 246.5L378.9 247.0L379.2 247.5L379.5 248.0L379.8 248.5L380.3 249.0L380.8 249.5L381.3 250.0L381.9 250.5L382.5 251.0L383.0 251.5L383.6 252.0L384.2 252.5L384.7 253.0L385.2 253.5L385.6 254.0L385.9 254.5L386.2 255.0L386.4 255.5L386.5 256.0L386.5 256.5" stroke="#d04842" stroke-width="3.02"/><path d="M378.7 246.0L378.8 246.5L378.9 247.0L379.2 247.5L379.5 248.0L379.8 248.5L380.3 249.0L380.8 249.5L381.3 250.0L381.9 250.5L382.5 251.0L383.0 251.5L383.6 252.0L384.2 252.5L384.7 253.0L385.2 253.5L385.6 254.0L385.9 254.5L386.2 255.0L386.4 255.5L386.5 256.0L386.5 256.5" stroke="#f0a6a0" stroke-width="1.87"/><path d="M378.7 267.0L378.8 267.5L378.9 268.0L379.2 268.5L379.5 269.0L379.8 269.5L380.3 270.0L380.8 270.5L381.3 271.0L381.9 271.5L382.5 272.0L383.0 272.5L383.6 273.0L384.2 273.5L384.7 274.0L385.2 274.5L385.6 275.0L385.9 275.5L386.2 276.0L386.4 276.5L386.5 277.0L386.5 277.5" stroke="#d04842" stroke-width="3.02"/><path d="M378.7 267.0L378.8 267.5L378.9 268.0L379.2 268.5L379.5 269.0L379.8 269.5L380.3 270.0L380.8 270.5L381.3 271.0L381.9 271.5L382.5 272.0L383.0 272.5L383.6 273.0L384.2 273.5L384.7 274.0L385.2 274.5L385.6 275.0L385.9 275.5L386.2 276.0L386.4 276.5L386.5 277.0L386.5 277.5" stroke="#f0a6a0" stroke-width="1.87"/><path d="M378.7 288.0L378.8 288.5L378.9 289.0L379.2 289.5L379.5 290.0L379.8 290.5L380.3 291.0L380.8 291.5L381.3 292.0L381.9 292.5L382.5 293.0L383.0 293.5L383.6 294.0L384.2 294.5L384.7 295.0L385.2 295.5L385.6 296.0L385.9 296.5L386.2 297.0L386.4 297.5L386.5 298.0L386.5 298.2" stroke="#d04842" stroke-width="3.02"/><path d="M378.7 288.0L378.8 288.5L378.9 289.0L379.2 289.5L379.5 290.0L379.8 290.5L380.3 291.0L380.8 291.5L381.3 292.0L381.9 292.5L382.5 293.0L383.0 293.5L383.6 294.0L384.2 294.5L384.7 295.0L385.2 295.5L385.6 296.0L385.9 296.5L386.2 297.0L386.4 297.5L386.5 298.0L386.5 298.2" stroke="#f0a6a0" stroke-width="1.87"/><path d="M378.8 236.2L379.0 236.8L379.3 237.2L379.6 237.8L380.1 238.2L380.5 238.8L381.0 239.2L381.6 239.8L382.2 240.2L382.8 240.8L383.3 241.2L383.9 241.8L384.4 242.2L384.9 242.8L385.4 243.2L385.7 243.8L386.1 244.2L386.3 244.8L386.4 245.2L386.5 245.8L386.5 246.0" stroke="#d04842" stroke-width="3.02"/><path d="M378.8 236.2L379.0 236.8L379.3 237.2L379.6 237.8L380.1 238.2L380.5 238.8L381.0 239.2L381.6 239.8L382.2 240.2L382.8 240.8L383.3 241.2L383.9 241.8L384.4 242.2L384.9 242.8L385.4 243.2L385.7 243.8L386.1 244.2L386.3 244.8L386.4 245.2L386.5 245.8L386.5 246.0" stroke="#f0a6a0" stroke-width="1.87"/><path d="M378.7 256.5L378.8 257.0L378.9 257.5L379.2 258.0L379.5 258.5L379.8 259.0L380.3 259.5L380.8 260.0L381.3 260.5L381.9 261.0L382.5 261.5L383.0 262.0L383.6 262.5L384.2 263.0L384.7 263.5L385.2 264.0L385.6 264.5L385.9 265.0L386.2 265.5L386.4 266.0L386.5 266.5L386.5 267.0" stroke="#d04842" stroke-width="3.02"/><path d="M378.7 256.5L378.8 257.0L378.9 257.5L379.2 258.0L379.5 258.5L379.8 259.0L380.3 259.5L380.8 260.0L381.3 260.5L381.9 261.0L382.5 261.5L383.0 262.0L383.6 262.5L384.2 263.0L384.7 263.5L385.2 264.0L385.6 264.5L385.9 265.0L386.2 265.5L386.4 266.0L386.5 266.5L386.5 267.0" stroke="#f0a6a0" stroke-width="1.87"/><path d="M378.7 277.5L378.8 278.0L378.9 278.5L379.2 279.0L379.5 279.5L379.8 280.0L380.3 280.5L380.8 281.0L381.3 281.5L381.9 282.0L382.5 282.5L383.0 283.0L383.6 283.5L384.2 284.0L384.7 284.5L385.2 285.0L385.6 285.5L385.9 286.0L386.2 286.5L386.4 287.0L386.5 287.5L386.5 288.0" stroke="#d04842" stroke-width="3.02"/><path d="M378.7 277.5L378.8 278.0L378.9 278.5L379.2 279.0L379.5 279.5L379.8 280.0L380.3 280.5L380.8 281.0L381.3 281.5L381.9 282.0L382.5 282.5L383.0 283.0L383.6 283.5L384.2 284.0L384.7 284.5L385.2 285.0L385.6 285.5L385.9 286.0L386.2 286.5L386.4 287.0L386.5 287.5L386.5 288.0" stroke="#f0a6a0" stroke-width="1.87"/><path d="M386.5 298.2L386.5 298.5" stroke="#cdcdcd" stroke-width="3.02"/><path d="M386.5 298.2L386.5 298.5" stroke="#e6e6e6" stroke-width="1.87"/><path d="M378.7 309.0L378.8 309.5L378.9 310.0L379.2 310.5L379.5 311.0L379.8 311.5L380.3 312.0L380.8 312.5L381.3 313.0L381.9 313.5L382.5 314.0L383.0 314.5L383.6 315.0L384.2 315.5L384.7 316.0L385.2 316.5L385.6 317.0L385.9 317.5L386.2 318.0L386.4 318.5L386.5 319.0L386.5 319.5" stroke="#cdcdcd" stroke-width="3.02"/><path d="M378.7 309.0L378.8 309.5L378.9 310.0L379.2 310.5L379.5 311.0L379.8 311.5L380.3 312.0L380.8 312.5L381.3 313.0L381.9 313.5L382.5 314.0L383.0 314.5L383.6 315.0L384.2 315.5L384.7 316.0L385.2 316.5L385.6 317.0L385.9 317.5L386.2 318.0L386.4 318.5L386.5 319.0L386.5 319.5" stroke="#e6e6e6" stroke-width="1.87"/><path d="M378.7 298.5L378.8 299.0L378.9 299.5L379.2 300.0L379.5 300.5L379.8 301.0L380.3 301.5L380.8 302.0L381.3 302.5L381.9 303.0L382.5 303.5L383.0 304.0L383.6 304.5L384.2 305.0L384.7 305.5L385.2 306.0L385.6 306.5L385.9 307.0L386.2 307.5L386.4 308.0L386.5 308.5L386.5 309.0" stroke="#cdcdcd" stroke-width="3.02"/><path d="M378.7 298.5L378.8 299.0L378.9 299.5L379.2 300.0L379.5 300.5L379.8 301.0L380.3 301.5L380.8 302.0L381.3 302.5L381.9 303.0L382.5 303.5L383.0 304.0L383.6 304.5L384.2 305.0L384.7 305.5L385.2 306.0L385.6 306.5L385.9 307.0L386.2 307.5L386.4 308.0L386.5 308.5L386.5 309.0" stroke="#e6e6e6" stroke-width="1.87"/><path d="M378.7 319.5L378.8 320.0L378.9 320.5L379.2 321.0L379.5 321.5L379.8 322.0L380.3 322.5L380.8 323.0L381.3 323.5L381.9 324.0L382.5 324.5L383.0 325.0L383.6 325.5L384.2 326.0L384.7 326.5L385.2 327.0L385.6 327.5L385.9 328.0L386.1 328.2" stroke="#cdcdcd" stroke-width="3.02"/><path d="M378.7 319.5L378.8 320.0L378.9 320.5L379.2 321.0L379.5 321.5L379.8 322.0L380.3 322.5L380.8 323.0L381.3 323.5L381.9 324.0L382.5 324.5L383.0 325.0L383.6 325.5L384.2 326.0L384.7 326.5L385.2 327.0L385.6 327.5L385.9 328.0L386.1 328.2" stroke="#e6e6e6" stroke-width="1.87"/><path d="M378.7 330.0L378.8 330.5L378.9 331.0L379.2 331.5L379.5 332.0L379.8 332.5L380.3 333.0L380.8 333.5L381.3 334.0L381.9 334.5L382.5 335.0L383.0 335.5L383.6 336.0L384.2 336.5L384.7 337.0L385.2 337.5L385.6 338.0L385.9 338.5L386.2 339.0L386.4 339.5L386.5 340.0" stroke="#cdcdcd" stroke-width="3.02"/><path d="M378.7 330.0L378.8 330.5L378.9 331.0L379.2 331.5L379.5 332.0L379.8 332.5L380.3 333.0L380.8 333.5L381.3 334.0L381.9 334.5L382.5 335.0L383.0 335.5L383.6 336.0L384.2 336.5L384.7 337.0L385.2 337.5L385.6 338.0L385.9 338.5L386.2 339.0L386.4 339.5L386.5 340.0" stroke="#e6e6e6" stroke-width="1.87"/><path d="M386.1 328.2L386.3 328.8L386.4 329.2L386.5 329.8L386.5 330.0" stroke="#cdcdcd" stroke-width="3.02"/><path d="M386.1 328.2L386.3 328.8L386.4 329.2L386.5 329.8L386.5 330.0" stroke="#e6e6e6" stroke-width="1.87"/><path d="M386.5 340.0L386.5 340.5" stroke="#eeb24c" stroke-width="3.02"/><path d="M386.5 340.0L386.5 340.5" stroke="#f8d898" stroke-width="1.87"/><path d="M378.7 351.0L378.8 351.5L378.9 352.0L379.2 352.5L379.5 353.0L379.8 353.5L380.3 354.0L380.8 354.5L381.3 355.0L381.9 355.5L382.5 356.0L383.0 356.5L383.6 357.0L384.2 357.5L384.7 358.0L385.2 358.5L385.6 359.0L385.9 359.5L386.2 360.0L386.4 360.5L386.5 361.0L386.5 361.5" stroke="#eeb24c" stroke-width="3.02"/><path d="M378.7 351.0L378.8 351.5L378.9 352.0L379.2 352.5L379.5 353.0L379.8 353.5L380.3 354.0L380.8 354.5L381.3 355.0L381.9 355.5L382.5 356.0L383.0 356.5L383.6 357.0L384.2 357.5L384.7 358.0L385.2 358.5L385.6 359.0L385.9 359.5L386.2 360.0L386.4 360.5L386.5 361.0L386.5 361.5" stroke="#f8d898" stroke-width="1.87"/><path d="M378.7 372.0L378.8 372.5L378.9 373.0L379.2 373.5L379.5 374.0L379.8 374.5L380.3 375.0L380.8 375.5L381.3 376.0L381.9 376.5L382.5 377.0L383.0 377.5L383.6 378.0L384.2 378.5L384.7 379.0L385.2 379.5L385.6 380.0L385.9 380.5L386.2 381.0L386.4 381.5L386.5 382.0L386.5 382.5" stroke="#eeb24c" stroke-width="3.02"/><path d="M378.7 372.0L378.8 372.5L378.9 373.0L379.2 373.5L379.5 374.0L379.8 374.5L380.3 375.0L380.8 375.5L381.3 376.0L381.9 376.5L382.5 377.0L383.0 377.5L383.6 378.0L384.2 378.5L384.7 379.0L385.2 379.5L385.6 380.0L385.9 380.5L386.2 381.0L386.4 381.5L386.5 382.0L386.5 382.5" stroke="#f8d898" stroke-width="1.87"/><path d="M378.7 393.0L378.8 393.5L378.9 394.0L379.2 394.5L379.5 395.0L379.8 395.5L380.3 396.0L380.8 396.5L381.3 397.0L381.9 397.5L382.5 398.0L383.0 398.5L383.6 399.0L384.2 399.5L384.7 400.0L385.2 400.5" stroke="#eeb24c" stroke-width="3.02"/><path d="M378.7 393.0L378.8 393.5L378.9 394.0L379.2 394.5L379.5 395.0L379.8 395.5L380.3 396.0L380.8 396.5L381.3 397.0L381.9 397.5L382.5 398.0L383.0 398.5L383.6 399.0L384.2 399.5L384.7 400.0L385.2 400.5" stroke="#f8d898" stroke-width="1.87"/><path d="M378.7 340.5L378.8 341.0L378.9 341.5L379.2 342.0L379.5 342.5L379.8 343.0L380.3 343.5L380.8 344.0L381.3 344.5L381.9 345.0L382.5 345.5L383.0 346.0L383.6 346.5L384.2 347.0L384.7 347.5L385.2 348.0L385.6 348.5L385.9 349.0L386.2 349.5L386.4 350.0L386.5 350.5L386.5 351.0" stroke="#eeb24c" stroke-width="3.02"/><path d="M378.7 340.5L378.8 341.0L378.9 341.5L379.2 342.0L379.5 342.5L379.8 343.0L380.3 343.5L380.8 344.0L381.3 344.5L381.9 345.0L382.5 345.5L383.0 346.0L383.6 346.5L384.2 347.0L384.7 347.5L385.2 348.0L385.6 348.5L385.9 349.0L386.2 349.5L386.4 350.0L386.5 350.5L386.5 351.0" stroke="#f8d898" stroke-width="1.87"/><path d="M378.7 361.5L378.8 362.0L378.9 362.5L379.2 363.0L379.5 363.5L379.8 364.0L380.3 364.5L380.8 365.0L381.3 365.5L381.9 366.0L382.5 366.5L383.0 367.0L383.6 367.5L384.2 368.0L384.7 368.5L385.2 369.0L385.6 369.5L385.9 370.0L386.2 370.5L386.4 371.0L386.5 371.5L386.5 372.0" stroke="#eeb24c" stroke-width="3.02"/><path d="M378.7 361.5L378.8 362.0L378.9 362.5L379.2 363.0L379.5 363.5L379.8 364.0L380.3 364.5L380.8 365.0L381.3 365.5L381.9 366.0L382.5 366.5L383.0 367.0L383.6 367.5L384.2 368.0L384.7 368.5L385.2 369.0L385.6 369.5L385.9 370.0L386.2 370.5L386.4 371.0L386.5 371.5L386.5 372.0" stroke="#f8d898" stroke-width="1.87"/><path d="M378.7 382.5L378.8 383.0L378.9 383.5L379.2 384.0L379.5 384.5L379.8 385.0L380.3 385.5L380.8 386.0L381.3 386.5L381.9 387.0L382.5 387.5L383.0 388.0L383.6 388.5L384.2 389.0L384.7 389.5L385.2 390.0L385.6 390.5L385.9 391.0L386.2 391.5L386.4 392.0L386.5 392.5L386.5 393.0" stroke="#eeb24c" stroke-width="3.02"/><path d="M378.7 382.5L378.8 383.0L378.9 383.5L379.2 384.0L379.5 384.5L379.8 385.0L380.3 385.5L380.8 386.0L381.3 386.5L381.9 387.0L382.5 387.5L383.0 388.0L383.6 388.5L384.2 389.0L384.7 389.5L385.2 390.0L385.6 390.5L385.9 391.0L386.2 391.5L386.4 392.0L386.5 392.5L386.5 393.0" stroke="#f8d898" stroke-width="1.87"/><path d="M385.2 400.5L385.6 401.0L385.9 401.5L386.2 402.0L386.4 402.5L386.5 403.0L386.5 403.5" stroke="#cdcdcd" stroke-width="3.02"/><path d="M385.2 400.5L385.6 401.0L385.9 401.5L386.2 402.0L386.4 402.5L386.5 403.0L386.5 403.5" stroke="#e6e6e6" stroke-width="1.87"/><path d="M378.7 414.0L378.8 414.5L378.9 415.0L379.2 415.5L379.5 416.0L379.8 416.5L380.3 417.0L380.8 417.5L381.3 418.0L381.9 418.5L382.5 419.0L383.0 419.5L383.6 420.0L384.2 420.5L384.7 421.0L385.2 421.5L385.6 422.0L385.9 422.5L386.2 423.0L386.4 423.5L386.5 424.0L386.5 424.5" stroke="#cdcdcd" stroke-width="3.02"/><path d="M378.7 414.0L378.8 414.5L378.9 415.0L379.2 415.5L379.5 416.0L379.8 416.5L380.3 417.0L380.8 417.5L381.3 418.0L381.9 418.5L382.5 419.0L383.0 419.5L383.6 420.0L384.2 420.5L384.7 421.0L385.2 421.5L385.6 422.0L385.9 422.5L386.2 423.0L386.4 423.5L386.5 424.0L386.5 424.5" stroke="#e6e6e6" stroke-width="1.87"/><path d="M378.7 403.5L378.8 404.0L378.9 404.5L379.2 405.0L379.5 405.5L379.8 406.0L380.3 406.5L380.8 407.0L381.3 407.5L381.9 408.0L382.5 408.5L383.0 409.0L383.6 409.5L384.2 410.0L384.7 410.5L385.2 411.0L385.6 411.5L385.9 412.0L386.2 412.5L386.4 413.0L386.5 413.5L386.5 414.0" stroke="#cdcdcd" stroke-width="3.02"/><path d="M378.7 403.5L378.8 404.0L378.9 404.5L379.2 405.0L379.5 405.5L379.8 406.0L380.3 406.5L380.8 407.0L381.3 407.5L381.9 408.0L382.5 408.5L383.0 409.0L383.6 409.5L384.2 410.0L384.7 410.5L385.2 411.0L385.6 411.5L385.9 412.0L386.2 412.5L386.4 413.0L386.5 413.5L386.5 414.0" stroke="#e6e6e6" stroke-width="1.87"/><path d="M378.7 424.5L378.8 425.0L378.9 425.5L379.2 426.0L379.5 426.5L379.8 427.0L380.3 427.5L380.8 428.0L381.3 428.5L381.9 429.0L382.5 429.5L383.0 430.0L383.6 430.5" stroke="#cdcdcd" stroke-width="3.02"/><path d="M378.7 424.5L378.8 425.0L378.9 425.5L379.2 426.0L379.5 426.5L379.8 427.0L380.3 427.5L380.8 428.0L381.3 428.5L381.9 429.0L382.5 429.5L383.0 430.0L383.6 430.5" stroke="#e6e6e6" stroke-width="1.87"/><path d="M378.7 435.0L378.8 435.5L378.9 436.0L379.2 436.5L379.5 437.0L379.8 437.5L380.3 438.0L380.8 438.5L381.3 439.0L381.9 439.5L382.5 440.0L383.0 440.5L383.6 441.0L384.2 441.5L384.7 442.0" stroke="#cdcdcd" stroke-width="3.02"/><path d="M378.7 435.0L378.8 435.5L378.9 436.0L379.2 436.5L379.5 437.0L379.8 437.5L380.3 438.0L380.8 438.5L381.3 439.0L381.9 439.5L382.5 440.0L383.0 440.5L383.6 441.0L384.2 441.5L384.7 442.0" stroke="#e6e6e6" stroke-width="1.87"/><path d="M383.6 430.5L384.2 431.0L384.7 431.5L385.2 432.0L385.6 432.5L385.9 433.0L386.2 433.5L386.4 434.0L386.5 434.5L386.5 435.0" stroke="#cdcdcd" stroke-width="3.02"/><path d="M383.6 430.5L384.2 431.0L384.7 431.5L385.2 432.0L385.6 432.5L385.9 433.0L386.2 433.5L386.4 434.0L386.5 434.5L386.5 435.0" stroke="#e6e6e6" stroke-width="1.87"/><path d="M384.7 442.0L385.2 442.5L385.6 443.0L385.9 443.5L386.2 444.0L386.4 444.5L386.5 445.0L386.5 445.5" stroke="#a0d49a" stroke-width="3.02"/><path d="M384.7 442.0L385.2 442.5L385.6 443.0L385.9 443.5L386.2 444.0L386.4 444.5L386.5 445.0L386.5 445.5" stroke="#cdeac9" stroke-width="1.87"/><path d="M378.7 456.0L378.8 456.5L378.9 457.0L379.2 457.5L379.5 458.0L379.8 458.5L380.3 459.0L380.8 459.5L381.3 460.0L381.9 460.5L382.5 461.0L383.0 461.5L383.6 462.0L384.2 462.5L384.7 463.0L385.2 463.5L385.6 464.0L385.9 464.5L386.2 465.0L386.4 465.5L386.5 466.0L386.5 466.5" stroke="#a0d49a" stroke-width="3.02"/><path d="M378.7 456.0L378.8 456.5L378.9 457.0L379.2 457.5L379.5 458.0L379.8 458.5L380.3 459.0L380.8 459.5L381.3 460.0L381.9 460.5L382.5 461.0L383.0 461.5L383.6 462.0L384.2 462.5L384.7 463.0L385.2 463.5L385.6 464.0L385.9 464.5L386.2 465.0L386.4 465.5L386.5 466.0L386.5 466.5" stroke="#cdeac9" stroke-width="1.87"/><path d="M378.7 477.0L378.8 477.5L378.9 478.0L379.2 478.5L379.5 479.0L379.8 479.5L380.3 480.0L380.8 480.5L381.3 481.0L381.9 481.5L382.5 482.0L383.0 482.5L383.6 483.0L384.2 483.5L384.7 484.0L385.2 484.5L385.6 485.0L385.9 485.5L386.2 486.0L386.4 486.5L386.5 487.0L386.5 487.5" stroke="#a0d49a" stroke-width="3.02"/><path d="M378.7 477.0L378.8 477.5L378.9 478.0L379.2 478.5L379.5 479.0L379.8 479.5L380.3 480.0L380.8 480.5L381.3 481.0L381.9 481.5L382.5 482.0L383.0 482.5L383.6 483.0L384.2 483.5L384.7 484.0L385.2 484.5L385.6 485.0L385.9 485.5L386.2 486.0L386.4 486.5L386.5 487.0L386.5 487.5" stroke="#cdeac9" stroke-width="1.87"/><path d="M378.7 498.0L378.8 498.5L378.9 499.0L379.2 499.5L379.5 500.0L379.9 500.5L380.3 501.0L380.8 501.5L381.3 502.0L381.9 502.5L382.2 502.7" stroke="#a0d49a" stroke-width="3.02"/><path d="M378.7 498.0L378.8 498.5L378.9 499.0L379.2 499.5L379.5 500.0L379.9 500.5L380.3 501.0L380.8 501.5L381.3 502.0L381.9 502.5L382.2 502.7" stroke="#cdeac9" stroke-width="1.87"/><path d="M378.7 445.5L378.8 446.0L378.9 446.5L379.2 447.0L379.5 447.5L379.8 448.0L380.3 448.5L380.8 449.0L381.3 449.5L381.9 450.0L382.5 450.5L383.0 451.0L383.6 451.5L384.2 452.0L384.7 452.5L385.2 453.0L385.6 453.5L385.9 454.0L386.2 454.5L386.4 455.0L386.5 455.5L386.5 456.0" stroke="#a0d49a" stroke-width="3.02"/><path d="M378.7 445.5L378.8 446.0L378.9 446.5L379.2 447.0L379.5 447.5L379.8 448.0L380.3 448.5L380.8 449.0L381.3 449.5L381.9 450.0L382.5 450.5L383.0 451.0L383.6 451.5L384.2 452.0L384.7 452.5L385.2 453.0L385.6 453.5L385.9 454.0L386.2 454.5L386.4 455.0L386.5 455.5L386.5 456.0" stroke="#cdeac9" stroke-width="1.87"/><path d="M378.7 466.5L378.8 467.0L378.9 467.5L379.2 468.0L379.5 468.5L379.8 469.0L380.3 469.5L380.8 470.0L381.3 470.5L381.9 471.0L382.5 471.5L383.0 472.0L383.6 472.5L384.2 473.0L384.7 473.5L385.2 474.0L385.6 474.5L385.9 475.0L386.2 475.5L386.4 476.0L386.5 476.5L386.5 477.0" stroke="#a0d49a" stroke-width="3.02"/><path d="M378.7 466.5L378.8 467.0L378.9 467.5L379.2 468.0L379.5 468.5L379.8 469.0L380.3 469.5L380.8 470.0L381.3 470.5L381.9 471.0L382.5 471.5L383.0 472.0L383.6 472.5L384.2 473.0L384.7 473.5L385.2 474.0L385.6 474.5L385.9 475.0L386.2 475.5L386.4 476.0L386.5 476.5L386.5 477.0" stroke="#cdeac9" stroke-width="1.87"/><path d="M378.7 487.5L378.8 488.0L378.9 488.5L379.2 489.0L379.5 489.5L379.9 490.0L380.3 490.5L380.8 491.0L381.3 491.5L381.9 492.0L382.5 492.5L383.1 493.0L383.6 493.5L384.2 494.0L384.7 494.5L385.2 495.0L385.6 495.5L385.9 496.0L386.2 496.5L386.4 497.0L386.5 497.5L386.5 498.0" stroke="#a0d49a" stroke-width="3.02"/><path d="M378.7 487.5L378.8 488.0L378.9 488.5L379.2 489.0L379.5 489.5L379.9 490.0L380.3 490.5L380.8 491.0L381.3 491.5L381.9 492.0L382.5 492.5L383.1 493.0L383.6 493.5L384.2 494.0L384.7 494.5L385.2 495.0L385.6 495.5L385.9 496.0L386.2 496.5L386.4 497.0L386.5 497.5L386.5 498.0" stroke="#cdeac9" stroke-width="1.87"/><path d="M382.2 502.7L382.7 503.3L383.3 503.8L383.9 504.3L384.4 504.8L384.9 505.3L385.3 505.8L385.7 506.3L386.0 506.8L386.2 507.4L386.3 507.9L386.3 508.5L386.3 508.8" stroke="#cdcdcd" stroke-width="2.69"/><path d="M382.2 502.7L382.7 503.3L383.3 503.8L383.9 504.3L384.4 504.8L384.9 505.3L385.3 505.8L385.7 506.3L386.0 506.8L386.2 507.4L386.3 507.9L386.3 508.5L386.3 508.8" stroke="#e6e6e6" stroke-width="1.54"/><path d="M376.9 517.2L376.8 517.6L376.7 518.1L376.7 518.6L376.7 519.1L376.8 519.7L376.8 520.3L376.9 520.9L377.1 521.5L377.2 522.2L377.3 522.9L377.4 523.6L377.5 524.3L377.6 525.0L377.6 525.6L377.6 526.3L377.5 526.9L377.4 527.5L377.3 528.0L377.1 528.5L376.8 529.0L376.5 529.4" stroke="#cdcdcd" stroke-width="2.69"/><path d="M376.9 517.2L376.8 517.6L376.7 518.1L376.7 518.6L376.7 519.1L376.8 519.7L376.8 520.3L376.9 520.9L377.1 521.5L377.2 522.2L377.3 522.9L377.4 523.6L377.5 524.3L377.6 525.0L377.6 525.6L377.6 526.3L377.5 526.9L377.4 527.5L377.3 528.0L377.1 528.5L376.8 529.0L376.5 529.4" stroke="#e6e6e6" stroke-width="1.54"/><path d="M378.7 508.2L378.8 508.6L378.9 509.0L379.1 509.5L379.3 510.0L379.6 510.5L379.9 511.1L380.3 511.6L380.7 512.2L381.1 512.8L381.5 513.4L381.9 514.0L382.3 514.6L382.6 515.3L382.9 515.9L383.2 516.5L383.3 517.1L383.4 517.8L383.4 518.4L383.3 519.0L383.2 519.5L382.9 520.0" stroke="#cdcdcd" stroke-width="2.69"/><path d="M378.7 508.2L378.8 508.6L378.9 509.0L379.1 509.5L379.3 510.0L379.6 510.5L379.9 511.1L380.3 511.6L380.7 512.2L381.1 512.8L381.5 513.4L381.9 514.0L382.3 514.6L382.6 515.3L382.9 515.9L383.2 516.5L383.3 517.1L383.4 517.8L383.4 518.4L383.3 519.0L383.2 519.5L382.9 520.0" stroke="#e6e6e6" stroke-width="1.54"/><path d="M371.5 525.2L371.3 525.6L371.1 526.0L370.9 526.5L370.7 527.0L370.7 527.6L370.6 528.2L370.6 528.6" stroke="#cdcdcd" stroke-width="2.69"/><path d="M371.5 525.2L371.3 525.6L371.1 526.0L370.9 526.5L370.7 527.0L370.7 527.6L370.6 528.2L370.6 528.6" stroke="#e6e6e6" stroke-width="1.54"/><path d="M364.6 532.6L364.3 532.9L364.0 533.4L363.8 533.8L363.6 534.3L363.5 534.9L363.3 535.5L363.2 536.1L363.1 536.7L363.0 537.4L362.9 538.1L362.8 538.8L362.7 539.4L362.6 540.1L362.4 540.7L362.2 541.3L362.0 541.9L361.7 542.4L361.4 542.9L361.1 543.3L360.7 543.7L360.2 544.0" stroke="#cdcdcd" stroke-width="2.54"/><path d="M364.6 532.6L364.3 532.9L364.0 533.4L363.8 533.8L363.6 534.3L363.5 534.9L363.3 535.5L363.2 536.1L363.1 536.7L363.0 537.4L362.9 538.1L362.8 538.8L362.7 539.4L362.6 540.1L362.4 540.7L362.2 541.3L362.0 541.9L361.7 542.4L361.4 542.9L361.1 543.3L360.7 543.7L360.2 544.0" stroke="#e6e6e6" stroke-width="1.39"/><path d="M348.0 543.8L347.6 544.1L347.2 544.4L346.9 544.8L346.7 545.0" stroke="#cdcdcd" stroke-width="2.54"/><path d="M348.0 543.8L347.6 544.1L347.2 544.4L346.9 544.8L346.7 545.0" stroke="#e6e6e6" stroke-width="1.39"/><path d="M370.6 528.6L370.6 529.2L370.6 529.9L370.6 530.6L370.6 531.3L370.6 531.9L370.6 532.6L370.5 533.3L370.5 533.9L370.4 534.6L370.2 535.1L370.0 535.7L369.8 536.2L369.5 536.6L369.2 537.0L369.0 537.2" stroke="#cdcdcd" stroke-width="2.54"/><path d="M370.6 528.6L370.6 529.2L370.6 529.9L370.6 530.6L370.6 531.3L370.6 531.9L370.6 532.6L370.5 533.3L370.5 533.9L370.4 534.6L370.2 535.1L370.0 535.7L369.8 536.2L369.5 536.6L369.2 537.0L369.0 537.2" stroke="#e6e6e6" stroke-width="1.39"/><path d="M356.8 538.8L356.5 539.1L356.1 539.4L355.8 539.8L355.5 540.3L355.3 540.8L355.1 541.4L354.8 542.0L354.6 542.6L354.4 543.2L354.2 543.9L354.0 544.5L353.8 545.1L353.5 545.8L353.3 546.4L353.0 546.9L352.7 547.4L352.4 547.9L352.0 548.3L351.7 548.7L351.2 549.0L350.8 549.3" stroke="#cdcdcd" stroke-width="2.54"/><path d="M356.8 538.8L356.5 539.1L356.1 539.4L355.8 539.8L355.5 540.3L355.3 540.8L355.1 541.4L354.8 542.0L354.6 542.6L354.4 543.2L354.2 543.9L354.0 544.5L353.8 545.1L353.5 545.8L353.3 546.4L353.0 546.9L352.7 547.4L352.4 547.9L352.0 548.3L351.7 548.7L351.2 549.0L350.8 549.3" stroke="#e6e6e6" stroke-width="1.39"/><path d="M346.7 545.0L346.4 545.5L346.1 546.0L345.8 546.5L345.5 547.1L345.3 547.7L345.0 548.3L344.7 548.9L344.4 549.5L344.1 550.1L343.8 550.7L343.5 551.2L343.2 551.7L342.8 552.2L342.4 552.6L341.9 552.9L341.5 553.2L341.0 553.5L340.8 553.5" stroke="#cdcdcd" stroke-width="2.43"/><path d="M346.7 545.0L346.4 545.5L346.1 546.0L345.8 546.5L345.5 547.1L345.3 547.7L345.0 548.3L344.7 548.9L344.4 549.5L344.1 550.1L343.8 550.7L343.5 551.2L343.2 551.7L342.8 552.2L342.4 552.6L341.9 552.9L341.5 553.2L341.0 553.5L340.8 553.5" stroke="#e6e6e6" stroke-width="1.28"/><path d="M329.2 550.4L328.7 550.5L328.3 550.7L327.8 550.9L327.4 551.2L326.9 551.5L326.5 551.9L326.0 552.3L325.6 552.7L325.1 553.2L324.6 553.6L324.1 554.0L323.6 554.5L323.1 554.9L322.6 555.2L322.1 555.6L321.5 555.8L321.0 556.1L320.4 556.2L319.9 556.3L319.4 556.3L318.8 556.3" stroke="#cdcdcd" stroke-width="2.43"/><path d="M329.2 550.4L328.7 550.5L328.3 550.7L327.8 550.9L327.4 551.2L326.9 551.5L326.5 551.9L326.0 552.3L325.6 552.7L325.1 553.2L324.6 553.6L324.1 554.0L323.6 554.5L323.1 554.9L322.6 555.2L322.1 555.6L321.5 555.8L321.0 556.1L320.4 556.2L319.9 556.3L319.4 556.3L318.8 556.3" stroke="#e6e6e6" stroke-width="1.28"/><path d="M338.8 547.9L338.4 548.1L338.0 548.3L337.6 548.7L337.2 549.0L336.8 549.5L336.4 549.9L336.1 550.4L335.7 550.9L335.3 551.5L335.0 552.0L334.6 552.6L334.2 553.1L333.8 553.7L333.4 554.1L333.0 554.6L332.5 555.0L332.1 555.4L331.6 555.7L331.1 555.9L330.6 556.0L330.0 556.1" stroke="#cdcdcd" stroke-width="2.43"/><path d="M338.8 547.9L338.4 548.1L338.0 548.3L337.6 548.7L337.2 549.0L336.8 549.5L336.4 549.9L336.1 550.4L335.7 550.9L335.3 551.5L335.0 552.0L334.6 552.6L334.2 553.1L333.8 553.7L333.4 554.1L333.0 554.6L332.5 555.0L332.1 555.4L331.6 555.7L331.1 555.9L330.6 556.0L330.0 556.1" stroke="#e6e6e6" stroke-width="1.28"/><path d="M319.4 550.7L319.2 550.7" stroke="#cdcdcd" stroke-width="2.43"/><path d="M319.4 550.7L319.2 550.7" stroke="#e6e6e6" stroke-width="1.28"/><path d="M309.6 548.8L309.1 548.7L308.6 548.7L308.1 548.7L307.6 548.8L307.0 548.9L306.5 549.0L305.9 549.2L305.3 549.4L304.7 549.6L304.1 549.8L303.5 550.0L302.9 550.1L302.3 550.3L301.7 550.4L301.1 550.5L300.5 550.5L300.0 550.5L299.4 550.5L298.9 550.4L298.4 550.2L297.9 550.0" stroke="#cfcfcf" stroke-width="2.22"/><path d="M309.6 548.8L309.1 548.7L308.6 548.7L308.1 548.7L307.6 548.8L307.0 548.9L306.5 549.0L305.9 549.2L305.3 549.4L304.7 549.6L304.1 549.8L303.5 550.0L302.9 550.1L302.3 550.3L301.7 550.4L301.1 550.5L300.5 550.5L300.0 550.5L299.4 550.5L298.9 550.4L298.4 550.2L297.9 550.0" stroke="#e7e7e7" stroke-width="1.07"/><path d="M319.2 550.7L318.7 550.7L318.2 550.8L317.7 550.9L317.2 551.1L316.7 551.3L316.2 551.6L315.6 551.8L315.1 552.1L314.5 552.4L313.9 552.7L313.4 553.0L312.8 553.3L312.2 553.6L311.6 553.8L311.1 554.0L310.5 554.1L310.0 554.2L309.4 554.2L308.9 554.1L308.4 554.0L308.1 554.0" stroke="#cfcfcf" stroke-width="2.22"/><path d="M319.2 550.7L318.7 550.7L318.2 550.8L317.7 550.9L317.2 551.1L316.7 551.3L316.2 551.6L315.6 551.8L315.1 552.1L314.5 552.4L313.9 552.7L313.4 553.0L312.8 553.3L312.2 553.6L311.6 553.8L311.1 554.0L310.5 554.1L310.0 554.2L309.4 554.2L308.9 554.1L308.4 554.0L308.1 554.0" stroke="#e7e7e7" stroke-width="1.07"/><path d="M300.2 545.4L299.7 545.2L299.3 545.1L298.8 545.0L298.2 545.0L297.7 545.0L297.1 545.0L296.6 545.0L296.0 545.1L295.3 545.1L294.7 545.2L294.1 545.2L293.5 545.3L292.9 545.3L292.3 545.3L291.7 545.2L291.1 545.2L290.6 545.0L290.1 544.9L289.8 544.8" stroke="#cfcfcf" stroke-width="2.22"/><path d="M300.2 545.4L299.7 545.2L299.3 545.1L298.8 545.0L298.2 545.0L297.7 545.0L297.1 545.0L296.6 545.0L296.0 545.1L295.3 545.1L294.7 545.2L294.1 545.2L293.5 545.3L292.9 545.3L292.3 545.3L291.7 545.2L291.1 545.2L290.6 545.0L290.1 544.9L289.8 544.8" stroke="#e7e7e7" stroke-width="1.07"/><path d="M291.5 540.2L291.1 540.0L290.6 539.8L290.1 539.6L289.6 539.5L289.1 539.4L288.5 539.3L287.9 539.2L287.4 539.2L286.8 539.2L286.1 539.2L285.5 539.1L284.9 539.1L284.3 539.1L283.8 539.0L283.2 538.9L282.7 538.8L282.1 538.6L281.6 538.4L281.2 538.2L280.7 538.0L280.3 537.7" stroke="#d1d1d1" stroke-width="1.98"/><path d="M291.5 540.2L291.1 540.0L290.6 539.8L290.1 539.6L289.6 539.5L289.1 539.4L288.5 539.3L287.9 539.2L287.4 539.2L286.8 539.2L286.1 539.2L285.5 539.1L284.9 539.1L284.3 539.1L283.8 539.0L283.2 538.9L282.7 538.8L282.1 538.6L281.6 538.4L281.2 538.2L280.7 538.0L280.3 537.7" stroke="#e8e8e8" stroke-width="0.83"/><path d="M275.3 527.5L274.9 527.2L274.5 526.9L274.1 526.7L273.6 526.4L273.1 526.2L272.6 526.0L272.1 525.8L271.6 525.7L271.0 525.5L270.5 525.3L269.9 525.1L269.4 524.9L268.8 524.7L268.3 524.4L267.8 524.2L267.6 524.0" stroke="#d1d1d1" stroke-width="1.98"/><path d="M275.3 527.5L274.9 527.2L274.5 526.9L274.1 526.7L273.6 526.4L273.1 526.2L272.6 526.0L272.1 525.8L271.6 525.7L271.0 525.5L270.5 525.3L269.9 525.1L269.4 524.9L268.8 524.7L268.3 524.4L267.8 524.2L267.6 524.0" stroke="#e8e8e8" stroke-width="0.83"/><path d="M289.8 544.8L289.4 544.6L288.9 544.3L288.7 544.1" stroke="#d1d1d1" stroke-width="1.98"/><path d="M289.8 544.8L289.4 544.6L288.9 544.3L288.7 544.1" stroke="#e8e8e8" stroke-width="0.83"/><path d="M283.1 534.1L282.7 533.8L282.3 533.6L281.8 533.4L281.3 533.2L280.8 533.1L280.2 533.0L279.7 532.9L279.1 532.8L278.5 532.7L277.9 532.7L277.3 532.6L276.7 532.5L276.1 532.4L275.6 532.3L275.0 532.1L274.5 532.0L274.0 531.8L273.5 531.5L273.1 531.2L272.7 530.9L272.3 530.5" stroke="#d1d1d1" stroke-width="1.98"/><path d="M283.1 534.1L282.7 533.8L282.3 533.6L281.8 533.4L281.3 533.2L280.8 533.1L280.2 533.0L279.7 532.9L279.1 532.8L278.5 532.7L277.9 532.7L277.3 532.6L276.7 532.5L276.1 532.4L275.6 532.3L275.0 532.1L274.5 532.0L274.0 531.8L273.5 531.5L273.1 531.2L272.7 530.9L272.3 530.5" stroke="#e8e8e8" stroke-width="0.83"/><path d="M267.6 524.0L267.1 523.7L266.7 523.4L266.3 523.0L265.9 522.7L265.6 522.2L265.5 522.0" stroke="#d4d4d4" stroke-width="1.74"/><path d="M267.6 524.0L267.1 523.7L266.7 523.4L266.3 523.0L265.9 522.7L265.6 522.2L265.5 522.0" stroke="#e9e9e9" stroke-width="0.59"/><path d="M263.3 511.3L263.0 510.9L262.7 510.5L262.4 510.1L262.0 509.8L261.6 509.4L261.1 509.1L260.7 508.8L260.2 508.5L259.7 508.2L259.2 507.9L258.7 507.6L258.2 507.3L257.8 507.0L257.3 506.6L256.9 506.3L256.5 505.9L256.2 505.5L255.8 505.1L255.6 504.7L255.3 504.2" stroke="#d4d4d4" stroke-width="1.74"/><path d="M263.3 511.3L263.0 510.9L262.7 510.5L262.4 510.1L262.0 509.8L261.6 509.4L261.1 509.1L260.7 508.8L260.2 508.5L259.7 508.2L259.2 507.9L258.7 507.6L258.2 507.3L257.8 507.0L257.3 506.6L256.9 506.3L256.5 505.9L256.2 505.5L255.8 505.1L255.6 504.7L255.3 504.2" stroke="#e9e9e9" stroke-width="0.59"/><path d="M268.8 519.8L268.5 519.4L268.2 519.0L267.8 518.7L267.4 518.4L266.9 518.1L266.5 517.8L266.0 517.5L265.5 517.2L265.0 517.0L264.5 516.7L264.0 516.4L263.4 516.2L262.9 515.9L262.5 515.6L262.0 515.3L261.6 514.9L261.2 514.6L260.8 514.2L260.5 513.8L260.2 513.4L260.1 513.2" stroke="#d4d4d4" stroke-width="1.74"/><path d="M268.8 519.8L268.5 519.4L268.2 519.0L267.8 518.7L267.4 518.4L266.9 518.1L266.5 517.8L266.0 517.5L265.5 517.2L265.0 517.0L264.5 516.7L264.0 516.4L263.4 516.2L262.9 515.9L262.5 515.6L262.0 515.3L261.6 514.9L261.2 514.6L260.8 514.2L260.5 513.8L260.2 513.4L260.1 513.2" stroke="#e9e9e9" stroke-width="0.59"/><path d="M258.4 502.7L258.2 502.3L257.9 501.8L257.6 501.5L257.2 501.1L256.8 500.7L256.4 500.4L256.0 500.0L255.5 499.7L255.0 499.4L254.6 499.0L254.1 498.7L253.7 498.3L253.3 497.9L252.9 497.6" stroke="#d4d4d4" stroke-width="1.74"/><path d="M258.4 502.7L258.2 502.3L257.9 501.8L257.6 501.5L257.2 501.1L256.8 500.7L256.4 500.4L256.0 500.0L255.5 499.7L255.0 499.4L254.6 499.0L254.1 498.7L253.7 498.3L253.3 497.9L252.9 497.6" stroke="#e9e9e9" stroke-width="0.59"/><path d="M254.5 494.2L254.3 493.8L254.1 493.3L253.8 492.9L253.4 492.5L253.1 492.1L252.7 491.7L252.3 491.3L251.9 490.9L251.5 490.6L251.1 490.2L250.6 489.8L250.2 489.4L249.9 489.0L249.5 488.6L249.2 488.2L248.9 487.8L248.7 487.3L248.5 486.9L248.4 486.6" stroke="#d6d6d6" stroke-width="1.50"/><path d="M254.5 494.2L254.3 493.8L254.1 493.3L253.8 492.9L253.4 492.5L253.1 492.1L252.7 491.7L252.3 491.3L251.9 490.9L251.5 490.6L251.1 490.2L250.6 489.8L250.2 489.4L249.9 489.0L249.5 488.6L249.2 488.2L248.9 487.8L248.7 487.3L248.5 486.9L248.4 486.6" stroke="#eaeaea" stroke-width="0.35"/><path d="M248.2 477.2L248.0 476.7L247.8 476.3L247.5 475.8L247.2 475.4L246.9 475.0L246.6 474.6L246.2 474.2L245.8 473.7L245.5 473.3L245.1 472.9L244.8 472.5L244.4 472.1L244.1 471.6L243.9 471.2L243.7 470.7L243.5 470.2L243.4 469.7" stroke="#d6d6d6" stroke-width="1.50"/><path d="M248.2 477.2L248.0 476.7L247.8 476.3L247.5 475.8L247.2 475.4L246.9 475.0L246.6 474.6L246.2 474.2L245.8 473.7L245.5 473.3L245.1 472.9L244.8 472.5L244.4 472.1L244.1 471.6L243.9 471.2L243.7 470.7L243.5 470.2L243.4 469.7" stroke="#eaeaea" stroke-width="0.35"/><path d="M252.9 497.6L252.5 497.2L252.2 496.7L251.9 496.3L251.7 495.9L251.5 495.4" stroke="#d6d6d6" stroke-width="1.50"/><path d="M252.9 497.6L252.5 497.2L252.2 496.7L251.9 496.3L251.7 495.9L251.5 495.4" stroke="#eaeaea" stroke-width="0.35"/><path d="M251.2 485.6L251.0 485.2L250.8 484.7L250.5 484.3L250.2 483.9L249.9 483.5L249.5 483.1L249.1 482.7L248.7 482.3L248.3 481.9L247.9 481.5L247.5 481.1L247.1 480.7L246.8 480.3L246.5 479.9L246.2 479.4L245.9 479.0L245.7 478.5L245.6 478.0" stroke="#d6d6d6" stroke-width="1.50"/><path d="M251.2 485.6L251.0 485.2L250.8 484.7L250.5 484.3L250.2 483.9L249.9 483.5L249.5 483.1L249.1 482.7L248.7 482.3L248.3 481.9L247.9 481.5L247.5 481.1L247.1 480.7L246.8 480.3L246.5 479.9L246.2 479.4L245.9 479.0L245.7 478.5L245.6 478.0" stroke="#eaeaea" stroke-width="0.35"/><path d="M245.8 469.1L245.7 468.6L245.6 468.4" stroke="#d6d6d6" stroke-width="1.50"/><path d="M245.8 469.1L245.7 468.6L245.6 468.4" stroke="#eaeaea" stroke-width="0.35"/><path d="M243.8 461.1L243.6 460.7L243.4 460.2L243.2 459.7L243.0 459.3L242.7 458.8L242.4 458.4L242.0 458.0L241.7 457.5L241.4 457.1L241.1 456.6L240.8 456.2L240.5 455.7L240.3 455.3L240.1 454.8L239.9 454.3L239.8 453.8" stroke="#d8d8d8" stroke-width="1.28"/><path d="M240.2 445.8L240.0 445.4L239.8 444.9L239.6 444.4L239.4 444.0L239.1 443.5L238.8 443.1L238.5 442.6L238.2 442.1L238.0 441.7L237.7 441.2L237.5 440.8L237.3 440.3L237.1 439.8L237.0 439.6" stroke="#d8d8d8" stroke-width="1.28"/><path d="M245.6 468.4L245.4 467.9L245.1 467.5L244.8 467.1L244.5 466.6L244.2 466.2L243.8 465.8L243.5 465.3L243.1 464.9L242.8 464.5L242.5 464.0L242.2 463.6L242.0 463.1L241.8 462.6L241.6 462.2L241.5 461.7" stroke="#d8d8d8" stroke-width="1.28"/><path d="M241.9 453.4L241.8 452.9L241.6 452.4L241.4 452.0L241.1 451.5L240.8 451.1L240.5 450.6L240.2 450.2L239.9 449.7L239.6 449.3L239.3 448.8L239.0 448.4L238.8 447.9L238.6 447.5L238.4 447.0L238.2 446.5L238.2 446.3" stroke="#d8d8d8" stroke-width="1.28"/><path d="M237.0 439.6L236.9 439.1L236.9 438.8" stroke="#e9e5e5" stroke-width="1.12"/><path d="M237.7 431.4L237.6 430.9L237.4 430.4L237.3 429.9L237.1 429.4L236.9 429.0L236.6 428.5L236.4 428.0L236.2 427.5L235.9 427.1L235.7 426.6L235.5 426.1L235.4 425.6L235.2 425.1L235.2 424.6L235.1 424.4" stroke="#e9e5e5" stroke-width="1.12"/><path d="M236.0 417.2L235.9 416.7L235.8 416.3L235.7 415.8L235.5 415.3L235.3 414.8L235.0 414.3L234.8 413.9L234.6 413.4L234.4 412.9L234.2 412.4L234.0 411.9L233.9 411.4L233.7 410.9L233.7 410.4L233.7 410.2" stroke="#e9e5e5" stroke-width="1.12"/><path d="M238.7 438.5L238.6 438.0L238.4 437.6L238.2 437.1L238.0 436.6L237.8 436.1L237.5 435.7L237.3 435.2L237.0 434.7L236.8 434.3L236.5 433.8L236.3 433.3L236.2 432.8L236.0 432.3L236.0 431.8L235.9 431.6" stroke="#e9e5e5" stroke-width="1.12"/><path d="M236.8 424.2L236.7 423.7L236.6 423.2L236.4 422.7L236.2 422.2L236.0 421.8L235.8 421.3L235.6 420.8L235.3 420.3L235.1 419.9L234.9 419.4L234.7 418.9L234.6 418.4L234.5 417.9L234.4 417.4" stroke="#e9e5e5" stroke-width="1.12"/><path d="M235.2 410.0L235.1 409.6" stroke="#e9e5e5" stroke-width="1.12"/><path d="M234.5 403.3L234.4 402.8L234.3 402.3L234.2 401.9L234.0 401.4L233.8 400.9L233.6 400.4L233.3 399.9L233.1 399.5L232.9 399.0L232.7 398.5L232.5 398.0L232.4 397.5L232.3 397.0L232.2 396.6" stroke="#e9e5e5" stroke-width="1.05"/><path d="M232.5 389.7L232.4 389.2L232.2 388.7L232.0 388.2L231.8 387.8L231.6 387.3L231.3 386.8L231.1 386.4L230.8 385.9L230.6 385.5L230.3 385.0L230.2 384.5L230.0 384.1L229.9 383.6L229.8 383.3" stroke="#e9e5e5" stroke-width="1.05"/><path d="M235.1 409.6L235.0 409.1L234.8 408.6L234.7 408.1L234.4 407.6L234.2 407.1L234.0 406.6L233.8 406.2L233.6 405.7L233.4 405.2L233.2 404.7L233.1 404.2L233.0 403.7L233.0 403.5" stroke="#e9e5e5" stroke-width="1.05"/><path d="M233.6 396.4L233.5 395.9L233.4 395.4L233.2 394.9L233.0 394.4L232.8 393.9L232.5 393.5L232.3 393.0L232.1 392.5L231.8 392.1L231.6 391.6L231.4 391.1L231.3 390.7L231.2 390.2L231.1 389.9" stroke="#e9e5e5" stroke-width="1.05"/><path d="M231.1 383.0L231.0 382.6L230.8 382.1L230.6 381.6L230.3 381.2L230.1 380.7L229.8 380.3L229.6 380.0" stroke="#e9e5e5" stroke-width="1.05"/><path d="M229.4 376.7L229.3 376.2L229.1 375.8L228.8 375.3L228.6 374.9L228.3 374.4L228.0 374.0L227.7 373.6L227.5 373.1L227.2 372.7L226.9 372.3L226.7 371.8L226.5 371.3L226.3 370.9" stroke="#e9e5e5" stroke-width="0.97"/><path d="M225.3 364.3L225.1 363.9L224.9 363.4L224.6 363.0L224.3 362.6L224.0 362.2L223.7 361.7L223.4 361.3L223.1 360.9L222.8 360.5L222.5 360.1L222.2 359.6L222.0 359.2L221.8 358.7" stroke="#e9e5e5" stroke-width="0.97"/><path d="M220.2 352.6L219.9 352.2L219.7 351.8" stroke="#e9e5e5" stroke-width="0.97"/><path d="M229.6 380.0L229.4 379.6L229.1 379.2L228.9 378.7L228.6 378.2L228.4 377.8L228.3 377.3L228.2 377.1" stroke="#e9e5e5" stroke-width="0.97"/><path d="M227.5 370.5L227.3 370.0L227.1 369.6L226.9 369.1L226.6 368.7L226.3 368.2L226.0 367.8L225.7 367.4L225.4 367.0L225.1 366.5L224.8 366.1L224.6 365.7L224.4 365.2L224.2 364.8" stroke="#e9e5e5" stroke-width="0.97"/><path d="M222.8 358.3L222.6 357.9L222.4 357.4L222.1 357.0L221.8 356.6L221.4 356.2L221.1 355.8L220.8 355.4L220.4 355.0L220.1 354.6L219.8 354.2L219.6 353.8L219.3 353.3L219.2 353.1" stroke="#e9e5e5" stroke-width="0.97"/><path d="M219.7 351.8L219.3 351.3L219.0 350.9L218.7 350.6L218.3 350.2L218.0 349.8L217.6 349.4L217.3 349.0L217.0 348.6L216.7 348.2L216.4 347.8L216.3 347.6" stroke="#e9e5e5" stroke-width="0.92"/><path d="M213.9 341.7L213.6 341.3L213.3 340.9L213.0 340.6L212.6 340.2L212.2 339.9L211.8 339.5L211.4 339.2L211.1 338.8L210.7 338.5L210.3 338.2L210.0 337.8L209.6 337.4L209.5 337.2" stroke="#e9e5e5" stroke-width="0.92"/><path d="M206.2 331.8L205.9 331.5L205.5 331.1L205.1 330.8L204.7 330.5L204.2 330.2L203.8 329.9L203.4 329.6L203.0 329.3L202.6 329.0L202.2 328.7L201.8 328.4L201.5 328.0" stroke="#e9e5e5" stroke-width="0.92"/><path d="M217.2 347.1L216.9 346.7L216.7 346.2L216.3 345.9L216.0 345.5L215.6 345.1L215.3 344.7L214.9 344.4L214.5 344.0L214.2 343.7L213.8 343.3L213.5 342.9L213.2 342.5L213.1 342.3" stroke="#e9e5e5" stroke-width="0.92"/><path d="M210.3 336.6L209.9 336.2L209.6 335.9L209.2 335.5L208.8 335.2L208.4 334.9L208.0 334.6L207.6 334.3L207.1 334.0L206.7 333.7L206.4 333.4L206.0 333.0L205.6 332.7L205.5 332.5" stroke="#e9e5e5" stroke-width="0.92"/><path d="M198.2 322.6L197.9 322.2L197.6 321.8L197.2 321.5L196.8 321.1L196.4 320.8L196.0 320.5L195.7 320.1L195.3 319.8L194.9 319.4L194.6 319.0L194.3 318.7L194.0 318.2" stroke="#e9e5e5" stroke-width="0.88"/><path d="M191.3 312.8L191.0 312.4L190.7 312.0L190.3 311.7L189.9 311.3L189.6 311.0L189.2 310.6L188.8 310.3L188.4 310.0L188.0 309.6L187.7 309.2L187.4 308.9L187.1 308.5" stroke="#e9e5e5" stroke-width="0.88"/><path d="M202.2 327.4L201.9 327.0L201.5 326.7L201.1 326.3L200.7 326.0L200.3 325.7L199.9 325.4L199.5 325.1L199.1 324.8L198.7 324.4L198.3 324.1L198.0 323.7L197.6 323.3L197.5 323.1" stroke="#e9e5e5" stroke-width="0.88"/><path d="M194.7 317.7L194.4 317.3L194.1 317.0L193.7 316.6L193.4 316.2L193.0 315.9L192.6 315.5L192.2 315.2L191.9 314.8L191.5 314.5L191.2 314.1L190.9 313.7L190.6 313.3" stroke="#e9e5e5" stroke-width="0.88"/><path d="M187.7 308.0L187.4 307.6L187.0 307.2L186.7 306.9L186.3 306.5L185.9 306.2L185.5 305.9L185.1 305.6L184.7 305.3L184.3 304.9L183.9 304.6L183.6 304.2L183.4 304.0" stroke="#e9e5e5" stroke-width="0.88"/><path d="M183.9 303.3L183.6 302.9L183.2 302.6L182.8 302.3L182.4 301.9L182.0 301.6L181.6 301.3L181.2 301.0L180.8 300.7L180.4 300.4L180.1 300.0L179.7 299.6L179.6 299.5" stroke="#e9e5e5" stroke-width="0.85"/><path d="M183.4 304.0L183.3 303.8" stroke="#e9e5e5" stroke-width="0.85"/><path d="M180.2 298.9L179.8 298.6L179.5 298.2L179.1 297.9L178.7 297.6L178.3 297.2L178.1 297.1" stroke="#e9e5e5" stroke-width="0.85"/></g><text class="t" y="61.2"><tspan x="258.8" textLength="79.8" lengthAdjust="spacingAndGlyphs">Genes</tspan> <tspan x="345.8" textLength="91.7" lengthAdjust="spacingAndGlyphs">control</tspan> <tspan x="443.1" textLength="43.7" lengthAdjust="spacingAndGlyphs">cell</tspan> <tspan x="492.4" textLength="111.9" lengthAdjust="spacingAndGlyphs">diversity</tspan> <tspan x="611.1" textLength="46.2" lengthAdjust="spacingAndGlyphs">and</tspan> <tspan x="666.5" textLength="110.0" lengthAdjust="spacingAndGlyphs">function</tspan></text><text class="h" x="333.6" y="122.1" textLength="34.8" lengthAdjust="spacingAndGlyphs">DNA</text><text class="h" x="480.4" y="122.1" textLength="48.8" lengthAdjust="spacingAndGlyphs">mRNA</text><text class="h" x="594.6" y="122.1" textLength="57.0" lengthAdjust="spacingAndGlyphs">Protein</text><text class="h" x="717.0" y="122.1" textLength="67.2" lengthAdjust="spacingAndGlyphs">Cell type</text><text class="i" x="307.6" y="171.6" textLength="34.8" lengthAdjust="spacingAndGlyphs">Gene</text><text class="i" x="397.2" y="158.8" textLength="90.6" lengthAdjust="spacingAndGlyphs">Transcription</text><text class="i" x="518.3" y="158.8" textLength="77.0" lengthAdjust="spacingAndGlyphs">Translation</text><text class="i" x="94.1" y="161.6" textLength="111.0" lengthAdjust="spacingAndGlyphs">Human genome</text><text class="i" x="120.3" y="180.6" textLength="58.4" lengthAdjust="spacingAndGlyphs">contains</text><text class="i" x="99.8" y="199.7" textLength="99.8" lengthAdjust="spacingAndGlyphs">~20,000 genes</text><path d="M360 137.2H351V197.2H360" fill="none" stroke="#333" stroke-width="1.2"/><path d="M414.8 167.0H467.2" stroke="#2a2a2a" stroke-width="1.4" fill="none"/><path d="M474.2 167.0l-8.8 -2.7v5.4z" fill="#111"/><path d="M535.8 167.0H583.6" stroke="#2a2a2a" stroke-width="1.4" fill="none"/><path d="M590.6 167.0l-8.8 -2.7v5.4z" fill="#111"/><path d="M662.0 167.0H690.6" stroke="#2a2a2a" stroke-width="1.4" fill="none"/><path d="M697.6 167.0l-8.8 -2.7v5.4z" fill="#111"/><path d="M414.8 270.0H467.2" stroke="#2a2a2a" stroke-width="1.4" fill="none"/><path d="M474.2 270.0l-8.8 -2.7v5.4z" fill="#111"/><path d="M535.8 270.0H583.6" stroke="#2a2a2a" stroke-width="1.4" fill="none"/><path d="M590.6 270.0l-8.8 -2.7v5.4z" fill="#111"/><path d="M662.0 270.0H690.6" stroke="#2a2a2a" stroke-width="1.4" fill="none"/><path d="M697.6 270.0l-8.8 -2.7v5.4z" fill="#111"/><path d="M414.8 371.6H467.2" stroke="#2a2a2a" stroke-width="1.4" fill="none"/><path d="M474.2 371.6l-8.8 -2.7v5.4z" fill="#111"/><path d="M535.8 371.6H583.6" stroke="#2a2a2a" stroke-width="1.4" fill="none"/><path d="M590.6 371.6l-8.8 -2.7v5.4z" fill="#111"/><path d="M662.0 371.6H690.6" stroke="#2a2a2a" stroke-width="1.4" fill="none"/><path d="M697.6 371.6l-8.8 -2.7v5.4z" fill="#111"/><path d="M414.8 474.8H467.2" stroke="#2a2a2a" stroke-width="1.4" fill="none"/><path d="M474.2 474.8l-8.8 -2.7v5.4z" fill="#111"/><path d="M535.8 474.8H583.6" stroke="#2a2a2a" stroke-width="1.4" fill="none"/><path d="M590.6 474.8l-8.8 -2.7v5.4z" fill="#111"/><path d="M662.0 474.8H690.6" stroke="#2a2a2a" stroke-width="1.4" fill="none"/><path d="M697.6 474.8l-8.8 -2.7v5.4z" fill="#111"/><path d="M504.7 136.2L504.1 136.7L503.3 137.2L502.4 137.7L501.5 138.2L500.5 138.7L499.6 139.2L498.9 139.7L498.3 140.2L497.9 140.7L497.8 141.2L497.9 141.7L498.3 142.2L498.9 142.7L499.7 143.2L500.6 143.7L501.5 144.2L502.5 144.7L503.4 145.2L504.1 145.7L504.7 146.2L505.1 146.7L505.2 147.2L505.1 147.7L504.7 148.2L504.1 148.7L503.3 149.2L502.4 149.7L501.5 150.2L500.5 150.7L499.6 151.2L498.9 151.7L498.3 152.2L497.9 152.7L497.8 153.2L497.9 153.7L498.3 154.2L498.9 154.7L499.7 155.2L500.6 155.7L501.5 156.2L502.5 156.7L503.4 157.2L504.1 157.7L504.7 158.2L505.1 158.7L505.2 159.2L505.1 159.7L504.7 160.2L504.1 160.7L503.3 161.2L502.4 161.7L501.5 162.2L500.5 162.7L499.6 163.2L498.9 163.7L498.3 164.2L497.9 164.7L497.8 165.2L497.9 165.7L498.3 166.2L498.9 166.7L499.7 167.2L500.6 167.7L501.5 168.2L502.5 168.7L503.4 169.2L504.1 169.7L504.7 170.2L505.1 170.7L505.2 171.2L505.1 171.7L504.7 172.2L504.1 172.7L503.3 173.2L502.4 173.7L501.5 174.2L500.5 174.7L499.6 175.2L498.9 175.7L498.3 176.2L497.9 176.7L497.8 177.2L497.9 177.7L498.3 178.2L498.9 178.7L499.7 179.2L500.6 179.7L501.5 180.2L502.5 180.7L503.4 181.2L504.1 181.7L504.7 182.2L505.1 182.7L505.2 183.2L505.1 183.7L504.7 184.2L504.1 184.7L503.3 185.2L502.4 185.7L501.5 186.2L500.5 186.7L499.6 187.2L498.9 187.7L498.3 188.2L497.9 188.7L497.8 189.2L497.9 189.7L498.3 190.2L498.9 190.7L499.7 191.2L500.6 191.7L501.5 192.2L502.5 192.7L503.4 193.2L504.1 193.7L504.7 194.2L505.1 194.7" fill="none" stroke="#8ec4e4" stroke-width="2.0" stroke-linecap="round" stroke-linejoin="round"/><path d="M504.7 136.2L504.1 136.7L503.3 137.2L502.4 137.7L501.5 138.2L500.5 138.7L499.6 139.2L498.9 139.7L498.3 140.2L497.9 140.7L497.8 141.2L497.9 141.7L498.3 142.2L498.9 142.7L499.7 143.2L500.6 143.7L501.5 144.2L502.5 144.7L503.4 145.2L504.1 145.7L504.7 146.2L505.1 146.7L505.2 147.2L505.1 147.7L504.7 148.2L504.1 148.7L503.3 149.2L502.4 149.7L501.5 150.2L500.5 150.7L499.6 151.2L498.9 151.7L498.3 152.2L497.9 152.7L497.8 153.2L497.9 153.7L498.3 154.2L498.9 154.7L499.7 155.2L500.6 155.7L501.5 156.2L502.5 156.7L503.4 157.2L504.1 157.7L504.7 158.2L505.1 158.7L505.2 159.2L505.1 159.7L504.7 160.2L504.1 160.7L503.3 161.2L502.4 161.7L501.5 162.2L500.5 162.7L499.6 163.2L498.9 163.7L498.3 164.2L497.9 164.7L497.8 165.2L497.9 165.7L498.3 166.2L498.9 166.7L499.7 167.2L500.6 167.7L501.5 168.2L502.5 168.7L503.4 169.2L504.1 169.7L504.7 170.2L505.1 170.7L505.2 171.2L505.1 171.7L504.7 172.2L504.1 172.7L503.3 173.2L502.4 173.7L501.5 174.2L500.5 174.7L499.6 175.2L498.9 175.7L498.3 176.2L497.9 176.7L497.8 177.2L497.9 177.7L498.3 178.2L498.9 178.7L499.7 179.2L500.6 179.7L501.5 180.2L502.5 180.7L503.4 181.2L504.1 181.7L504.7 182.2L505.1 182.7L505.2 183.2L505.1 183.7L504.7 184.2L504.1 184.7L503.3 185.2L502.4 185.7L501.5 186.2L500.5 186.7L499.6 187.2L498.9 187.7L498.3 188.2L497.9 188.7L497.8 189.2L497.9 189.7L498.3 190.2L498.9 190.7L499.7 191.2L500.6 191.7L501.5 192.2L502.5 192.7L503.4 193.2L504.1 193.7L504.7 194.2L505.1 194.7" fill="none" stroke="#c2e1f2" stroke-width="0.9" stroke-linecap="round" stroke-linejoin="round"/><path d="M504.6 237.2L504.0 237.7L503.2 238.2L502.2 238.7L501.2 239.2L500.3 239.7L499.4 240.2L498.6 240.7L498.1 241.2L497.8 241.7L497.7 242.2L497.9 242.7L498.4 243.2L499.1 243.7L500.0 244.2L501.0 244.7L502.0 245.2L502.9 245.7L503.8 246.2L504.4 246.7L504.9 247.2L505.1 247.7L505.0 248.2L504.7 248.7L504.1 249.2L503.3 249.7L502.4 250.2L501.4 250.7L500.5 251.2L499.5 251.7L498.7 252.2L498.2 252.7L497.8 253.2L497.7 253.7L497.9 254.2L498.3 254.7L499.0 255.2L499.8 255.7L500.8 256.2L501.8 256.7L502.7 257.2L503.6 257.7L504.3 258.2L504.8 258.7L505.1 259.2L505.1 259.7L504.8 260.2L504.2 260.7L503.5 261.2L502.6 261.7L501.6 262.2L500.6 262.7L499.7 263.2L498.9 263.7L498.3 264.2L497.8 264.7L497.7 265.2L497.8 265.7L498.2 266.2L498.8 266.7L499.6 267.2L500.6 267.7L501.6 268.2L502.5 268.7L503.4 269.2L504.2 269.7L504.7 270.2L505.0 270.7L505.1 271.2L504.9 271.7L504.4 272.2L503.7 272.7L502.8 273.2L501.8 273.7L500.8 274.2L499.9 274.7L499.0 275.2L498.4 275.7L497.9 276.2L497.7 276.7L497.8 277.2L498.1 277.7L498.7 278.2L499.5 278.7L500.4 279.2L501.4 279.7L502.3 280.2L503.3 280.7L504.1 281.2L504.6 281.7L505.0 282.2L505.1 282.7L504.9 283.2L504.5 283.7L503.8 284.2L503.0 284.7L502.0 285.2L501.0 285.7L500.1 286.2L499.2 286.7L498.5 287.2L498.0 287.7L497.7 288.2L497.7 288.7L498.0 289.2L498.6 289.7L499.3 290.2L500.2 290.7L501.2 291.2L502.2 291.7L503.1 292.2L503.9 292.7L504.5 293.2L505.0 293.7L505.1 294.2L505.0 294.7L504.6 295.2L504.0 295.7L503.2 296.2L502.2 296.7L501.2 297.2L500.3 297.7" fill="none" stroke="#d6544f" stroke-width="1.9" stroke-linecap="round" stroke-linejoin="round"/><path d="M504.6 237.2L504.0 237.7L503.2 238.2L502.2 238.7L501.2 239.2L500.3 239.7L499.4 240.2L498.6 240.7L498.1 241.2L497.8 241.7L497.7 242.2L497.9 242.7L498.4 243.2L499.1 243.7L500.0 244.2L501.0 244.7L502.0 245.2L502.9 245.7L503.8 246.2L504.4 246.7L504.9 247.2L505.1 247.7L505.0 248.2L504.7 248.7L504.1 249.2L503.3 249.7L502.4 250.2L501.4 250.7L500.5 251.2L499.5 251.7L498.7 252.2L498.2 252.7L497.8 253.2L497.7 253.7L497.9 254.2L498.3 254.7L499.0 255.2L499.8 255.7L500.8 256.2L501.8 256.7L502.7 257.2L503.6 257.7L504.3 258.2L504.8 258.7L505.1 259.2L505.1 259.7L504.8 260.2L504.2 260.7L503.5 261.2L502.6 261.7L501.6 262.2L500.6 262.7L499.7 263.2L498.9 263.7L498.3 264.2L497.8 264.7L497.7 265.2L497.8 265.7L498.2 266.2L498.8 266.7L499.6 267.2L500.6 267.7L501.6 268.2L502.5 268.7L503.4 269.2L504.2 269.7L504.7 270.2L505.0 270.7L505.1 271.2L504.9 271.7L504.4 272.2L503.7 272.7L502.8 273.2L501.8 273.7L500.8 274.2L499.9 274.7L499.0 275.2L498.4 275.7L497.9 276.2L497.7 276.7L497.8 277.2L498.1 277.7L498.7 278.2L499.5 278.7L500.4 279.2L501.4 279.7L502.3 280.2L503.3 280.7L504.1 281.2L504.6 281.7L505.0 282.2L505.1 282.7L504.9 283.2L504.5 283.7L503.8 284.2L503.0 284.7L502.0 285.2L501.0 285.7L500.1 286.2L499.2 286.7L498.5 287.2L498.0 287.7L497.7 288.2L497.7 288.7L498.0 289.2L498.6 289.7L499.3 290.2L500.2 290.7L501.2 291.2L502.2 291.7L503.1 292.2L503.9 292.7L504.5 293.2L505.0 293.7L505.1 294.2L505.0 294.7L504.6 295.2L504.0 295.7L503.2 296.2L502.2 296.7L501.2 297.2L500.3 297.7" fill="none" stroke="#e88f89" stroke-width="0.9" stroke-linecap="round" stroke-linejoin="round"/><path d="M504.9 340.2L504.3 340.7L503.5 341.2L502.6 341.7L501.6 342.2L500.6 342.7L499.7 343.2L499.0 343.7L498.4 344.2L498.1 344.7L498.0 345.2L498.2 345.7L498.6 346.2L499.3 346.7L500.1 347.2L501.0 347.7L502.0 348.2L502.9 348.7L503.8 349.2L504.5 349.7L505.1 350.2L505.4 350.7L505.4 351.2L505.2 351.7L504.7 352.2L504.0 352.7L503.1 353.2L502.2 353.7L501.2 354.2L500.3 354.7L499.4 355.2L498.7 355.7L498.3 356.2L498.0 356.7L498.0 357.2L498.3 357.7L498.8 358.2L499.6 358.7L500.4 359.2L501.4 359.7L502.4 360.2L503.3 360.7L504.1 361.2L504.8 361.7L505.2 362.2L505.4 362.7L505.3 363.2L505.0 363.7L504.4 364.2L503.7 364.7L502.8 365.2L501.8 365.7L500.8 366.2L499.9 366.7L499.1 367.2L498.5 367.7L498.1 368.2L498.0 368.7L498.1 369.2L498.5 369.7L499.1 370.2L499.9 370.7L500.8 371.2L501.8 371.7L502.8 372.2L503.7 372.7L504.4 373.2L505.0 373.7L505.3 374.2L505.4 374.7L505.2 375.2L504.8 375.7L504.1 376.2L503.3 376.7L502.4 377.2L501.4 377.7L500.5 378.2L499.6 378.7L498.9 379.2L498.3 379.7L498.0 380.2L498.0 380.7L498.2 381.2L498.7 381.7L499.4 382.2L500.3 382.7L501.2 383.2L502.2 383.7L503.1 384.2L504.0 384.7L504.7 385.2L505.1 385.7L505.4 386.2L505.4 386.7L505.1 387.2L504.6 387.7L503.8 388.2L503.0 388.7L502.0 389.2L501.0 389.7L500.1 390.2L499.3 390.7L498.6 391.2L498.2 391.7L498.0 392.2L498.1 392.7L498.4 393.2L499.0 393.7L499.7 394.2L500.6 394.7L501.6 395.2L502.6 395.7L503.5 396.2L504.3 396.7L504.9 397.2L505.3 397.7L505.4 398.2L505.3 398.7L504.9 399.2L504.3 399.7L503.5 400.2" fill="none" stroke="#eeb95c" stroke-width="1.9" stroke-linecap="round" stroke-linejoin="round"/><path d="M504.9 340.2L504.3 340.7L503.5 341.2L502.6 341.7L501.6 342.2L500.6 342.7L499.7 343.2L499.0 343.7L498.4 344.2L498.1 344.7L498.0 345.2L498.2 345.7L498.6 346.2L499.3 346.7L500.1 347.2L501.0 347.7L502.0 348.2L502.9 348.7L503.8 349.2L504.5 349.7L505.1 350.2L505.4 350.7L505.4 351.2L505.2 351.7L504.7 352.2L504.0 352.7L503.1 353.2L502.2 353.7L501.2 354.2L500.3 354.7L499.4 355.2L498.7 355.7L498.3 356.2L498.0 356.7L498.0 357.2L498.3 357.7L498.8 358.2L499.6 358.7L500.4 359.2L501.4 359.7L502.4 360.2L503.3 360.7L504.1 361.2L504.8 361.7L505.2 362.2L505.4 362.7L505.3 363.2L505.0 363.7L504.4 364.2L503.7 364.7L502.8 365.2L501.8 365.7L500.8 366.2L499.9 366.7L499.1 367.2L498.5 367.7L498.1 368.2L498.0 368.7L498.1 369.2L498.5 369.7L499.1 370.2L499.9 370.7L500.8 371.2L501.8 371.7L502.8 372.2L503.7 372.7L504.4 373.2L505.0 373.7L505.3 374.2L505.4 374.7L505.2 375.2L504.8 375.7L504.1 376.2L503.3 376.7L502.4 377.2L501.4 377.7L500.5 378.2L499.6 378.7L498.9 379.2L498.3 379.7L498.0 380.2L498.0 380.7L498.2 381.2L498.7 381.7L499.4 382.2L500.3 382.7L501.2 383.2L502.2 383.7L503.1 384.2L504.0 384.7L504.7 385.2L505.1 385.7L505.4 386.2L505.4 386.7L505.1 387.2L504.6 387.7L503.8 388.2L503.0 388.7L502.0 389.2L501.0 389.7L500.1 390.2L499.3 390.7L498.6 391.2L498.2 391.7L498.0 392.2L498.1 392.7L498.4 393.2L499.0 393.7L499.7 394.2L500.6 394.7L501.6 395.2L502.6 395.7L503.5 396.2L504.3 396.7L504.9 397.2L505.3 397.7L505.4 398.2L505.3 398.7L504.9 399.2L504.3 399.7L503.5 400.2" fill="none" stroke="#f8d99c" stroke-width="0.9" stroke-linecap="round" stroke-linejoin="round"/><path d="M504.9 442.4L504.3 442.9L503.5 443.4L502.6 443.9L501.6 444.4L500.6 444.9L499.7 445.4L499.0 445.9L498.4 446.4L498.1 446.9L498.0 447.4L498.2 447.9L498.6 448.4L499.3 448.9L500.1 449.4L501.0 449.9L502.0 450.4L502.9 450.9L503.8 451.4L504.5 451.9L505.1 452.4L505.4 452.9L505.4 453.4L505.2 453.9L504.7 454.4L504.0 454.9L503.1 455.4L502.2 455.9L501.2 456.4L500.3 456.9L499.4 457.4L498.7 457.9L498.3 458.4L498.0 458.9L498.0 459.4L498.3 459.9L498.8 460.4L499.6 460.9L500.4 461.4L501.4 461.9L502.4 462.4L503.3 462.9L504.1 463.4L504.8 463.9L505.2 464.4L505.4 464.9L505.3 465.4L505.0 465.9L504.4 466.4L503.7 466.9L502.8 467.4L501.8 467.9L500.8 468.4L499.9 468.9L499.1 469.4L498.5 469.9L498.1 470.4L498.0 470.9L498.1 471.4L498.5 471.9L499.1 472.4L499.9 472.9L500.8 473.4L501.8 473.9L502.8 474.4L503.7 474.9L504.4 475.4L505.0 475.9L505.3 476.4L505.4 476.9L505.2 477.4L504.8 477.9L504.1 478.4L503.3 478.9L502.4 479.4L501.4 479.9L500.5 480.4L499.6 480.9L498.9 481.4L498.3 481.9L498.0 482.4L498.0 482.9L498.2 483.4L498.7 483.9L499.4 484.4L500.3 484.9L501.2 485.4L502.2 485.9L503.1 486.4L504.0 486.9L504.7 487.4L505.1 487.9L505.4 488.4L505.4 488.9L505.1 489.4L504.6 489.9L503.8 490.4L503.0 490.9L502.0 491.4L501.0 491.9L500.1 492.4L499.3 492.9L498.6 493.4L498.2 493.9L498.0 494.4L498.1 494.9L498.4 495.4L499.0 495.9L499.7 496.4L500.6 496.9L501.6 497.4L502.6 497.9L503.5 498.4L504.3 498.9L504.9 499.4L505.3 499.9L505.4 500.4L505.3 500.9L504.9 501.4L504.3 501.9L503.5 502.4" fill="none" stroke="#a9d8a3" stroke-width="1.9" stroke-linecap="round" stroke-linejoin="round"/><path d="M504.9 442.4L504.3 442.9L503.5 443.4L502.6 443.9L501.6 444.4L500.6 444.9L499.7 445.4L499.0 445.9L498.4 446.4L498.1 446.9L498.0 447.4L498.2 447.9L498.6 448.4L499.3 448.9L500.1 449.4L501.0 449.9L502.0 450.4L502.9 450.9L503.8 451.4L504.5 451.9L505.1 452.4L505.4 452.9L505.4 453.4L505.2 453.9L504.7 454.4L504.0 454.9L503.1 455.4L502.2 455.9L501.2 456.4L500.3 456.9L499.4 457.4L498.7 457.9L498.3 458.4L498.0 458.9L498.0 459.4L498.3 459.9L498.8 460.4L499.6 460.9L500.4 461.4L501.4 461.9L502.4 462.4L503.3 462.9L504.1 463.4L504.8 463.9L505.2 464.4L505.4 464.9L505.3 465.4L505.0 465.9L504.4 466.4L503.7 466.9L502.8 467.4L501.8 467.9L500.8 468.4L499.9 468.9L499.1 469.4L498.5 469.9L498.1 470.4L498.0 470.9L498.1 471.4L498.5 471.9L499.1 472.4L499.9 472.9L500.8 473.4L501.8 473.9L502.8 474.4L503.7 474.9L504.4 475.4L505.0 475.9L505.3 476.4L505.4 476.9L505.2 477.4L504.8 477.9L504.1 478.4L503.3 478.9L502.4 479.4L501.4 479.9L500.5 480.4L499.6 480.9L498.9 481.4L498.3 481.9L498.0 482.4L498.0 482.9L498.2 483.4L498.7 483.9L499.4 484.4L500.3 484.9L501.2 485.4L502.2 485.9L503.1 486.4L504.0 486.9L504.7 487.4L505.1 487.9L505.4 488.4L505.4 488.9L505.1 489.4L504.6 489.9L503.8 490.4L503.0 490.9L502.0 491.4L501.0 491.9L500.1 492.4L499.3 492.9L498.6 493.4L498.2 493.9L498.0 494.4L498.1 494.9L498.4 495.4L499.0 495.9L499.7 496.4L500.6 496.9L501.6 497.4L502.6 497.9L503.5 498.4L504.3 498.9L504.9 499.4L505.3 499.9L505.4 500.4L505.3 500.9L504.9 501.4L504.3 501.9L503.5 502.4" fill="none" stroke="#d2ebce" stroke-width="0.9" stroke-linecap="round" stroke-linejoin="round"/><g fill="#5b9eda"><circle cx="619.8" cy="154.2" r="5.0"/><circle cx="622.4" cy="157.2" r="4.6"/><circle cx="624.9" cy="160.0" r="5.0"/><circle cx="627.8" cy="163.2" r="4.6"/><circle cx="630.5" cy="166.2" r="5.2"/><circle cx="633.2" cy="170.0" r="4.8"/><circle cx="620.6" cy="170.4" r="5.3"/><circle cx="624.2" cy="177.4" r="3.6"/><circle cx="622.6" cy="164.4" r="3.0"/><circle cx="635.6" cy="173.6" r="5.4"/><circle cx="631.5" cy="177.8" r="5.0"/><circle cx="627.9" cy="181.8" r="5.2"/></g><path d="M625.4 171.6q2.6 -0.4 3.8 1.6q-2 1.2 -2.4 2.8q-1.2 -1.8 -1.4 -4.4z" fill="#e4eef7"/><g fill="#cf5c59"><circle cx="630.6" cy="264.6" r="5.2"/><circle cx="628.2" cy="261.5" r="3.2"/><circle cx="633.6" cy="266.5" r="3.4"/><circle cx="629.2" cy="271.4" r="3.6"/><circle cx="628.6" cy="274.0" r="3.0"/><circle cx="632.6" cy="276.0" r="3.0"/><circle cx="634.2" cy="277.0" r="2.2"/></g><g fill="#f6c458"><circle cx="629.9" cy="363.8" r="5.4"/><circle cx="627.0" cy="361.5" r="3.6"/><circle cx="633.0" cy="366.0" r="3.8"/><circle cx="619.6" cy="373.4" r="4.8"/><circle cx="624.5" cy="372.5" r="4.4"/><circle cx="631.6" cy="372.6" r="5.3"/><circle cx="635.0" cy="374.0" r="3.0"/><circle cx="623.9" cy="380.4" r="3.5"/><circle cx="626.0" cy="377.0" r="3.2"/></g><g fill="#90cd88"><circle cx="619.3" cy="483.0" r="4.0"/><circle cx="621.8" cy="476.6" r="3.8"/><circle cx="625.9" cy="470.6" r="3.8"/><circle cx="629.4" cy="465.4" r="3.8"/><circle cx="634.5" cy="464.8" r="3.8"/><circle cx="638.3" cy="466.4" r="3.4"/></g><g fill="none" stroke="#6fb1e4" stroke-linecap="round" stroke-linejoin="round"><path d="M748.0 164.0C747.6 163.6 746.8 163.0 745.1 161.5C743.4 160.0 739.4 156.0 736.8 153.9C734.2 151.8 730.8 149.2 727.6 147.8C724.4 146.4 718.6 145.1 715.4 144.8C712.2 144.5 707.7 145.5 706.3 145.6" stroke-width="1.5"/><path d="M727.6 147.8C727.2 146.7 725.2 142.1 724.9 140.2C724.6 138.3 725.7 135.7 725.8 134.9" stroke-width="0.9"/><path d="M715.4 144.8C714.4 144.6 710.0 143.8 709.0 143.6" stroke-width="0.8"/><path d="M751.0 162.0C750.8 161.4 750.3 160.3 749.7 157.7C749.1 155.1 747.5 148.9 746.7 144.8C745.9 140.7 744.5 132.5 744.1 130.3" stroke-width="1.5"/><path d="M745.9 149.4C744.8 148.0 740.0 142.4 738.3 140.2C736.6 138.0 735.1 135.7 734.5 134.9" stroke-width="0.9"/><path d="M746.7 149.4C748.2 149.5 754.1 150.6 756.5 150.1C758.9 149.6 761.5 147.5 762.6 146.3C763.7 145.1 763.8 142.6 764.0 142.0" stroke-width="0.9"/><path d="M756.0 162.0C756.3 161.5 756.9 160.4 758.1 158.5C759.3 156.6 762.4 152.1 764.2 149.4C766.0 146.7 768.7 142.1 770.2 140.2C771.7 138.2 773.5 137.0 774.1 136.4" stroke-width="1.5"/><path d="M764.2 149.4C764.0 148.7 762.6 146.2 762.6 144.8C762.6 143.4 764.0 140.9 764.2 140.2" stroke-width="0.8"/><path d="M767.2 144.8C768.5 144.7 774.3 144.1 775.6 144.0" stroke-width="0.8"/><path d="M760.0 165.0C760.4 164.6 761.1 163.4 762.6 162.3C764.1 161.2 767.5 159.5 770.2 157.7C772.9 155.9 779.3 151.2 780.9 150.1" stroke-width="1.4"/><path d="M775.0 154.4C775.7 154.6 778.8 155.6 779.5 155.8" stroke-width="0.7"/><path d="M762.0 168.0C762.3 167.8 762.1 167.4 764.2 166.9C766.3 166.4 772.4 165.5 776.3 164.6C780.2 163.7 787.9 161.7 790.0 161.2" stroke-width="1.4"/><path d="M782.4 163.1C782.6 162.5 783.8 159.8 784.0 159.2" stroke-width="0.7"/><path d="M760.0 171.0C760.4 171.2 760.8 171.3 762.6 172.2C764.4 173.1 768.8 175.2 771.8 176.8C774.8 178.4 779.0 181.0 782.4 182.8C785.8 184.6 791.1 187.7 794.6 188.9C798.1 190.1 804.3 190.5 806.0 190.8" stroke-width="1.7"/><path d="M780.0 181.4C781.7 180.7 788.7 177.8 791.6 176.8C794.5 175.8 798.1 174.8 799.2 174.5" stroke-width="0.9"/><path d="M769.0 175.4C769.9 176.7 773.0 181.5 775.0 184.0C777.0 186.5 780.1 189.9 782.4 192.0C784.6 194.1 787.8 196.4 790.0 198.0C792.2 199.6 795.9 201.9 796.9 202.6" stroke-width="1.4"/><path d="M785.5 194.5C785.3 194.9 784.2 196.6 784.0 197.0" stroke-width="0.7"/><path d="M754.6 176.0C754.7 176.3 755.0 175.9 755.0 178.3C755.0 180.7 754.6 187.7 754.3 192.0C754.0 196.3 753.4 204.9 753.2 207.2" stroke-width="1.4"/><path d="M753.7 199.5C753.0 199.8 749.7 201.2 749.0 201.5" stroke-width="0.7"/><path d="M749.0 175.0C748.8 175.3 748.8 175.2 747.4 176.8C746.0 178.4 742.5 183.6 739.8 185.9C737.1 188.2 730.7 191.1 729.1 192.0" stroke-width="1.4"/><path d="M738.3 187.4C737.8 188.5 735.7 193.9 735.2 195.0" stroke-width="0.7"/><path d="M746.5 178.0C745.7 179.0 742.7 182.7 741.0 184.6C739.3 186.5 736.7 188.8 735.2 190.4C733.7 192.0 731.4 194.3 730.7 195.0" stroke-width="1.0"/><path d="M745.0 171.0C744.8 171.0 745.7 170.3 743.6 170.7C741.5 171.1 734.9 173.0 730.7 173.7C726.5 174.4 719.5 174.5 715.4 175.2C711.3 175.9 706.5 177.4 703.3 178.3C700.1 179.2 695.5 180.9 694.1 181.3" stroke-width="1.7"/><path d="M726.1 173.7C724.7 173.1 719.4 170.6 717.0 169.9C714.6 169.2 711.1 169.2 710.1 169.1" stroke-width="0.9"/><path d="M715.4 175.2C714.3 175.3 711.0 176.0 707.8 176.0C704.6 176.0 696.2 175.3 694.1 175.2" stroke-width="0.9"/><path d="M746.0 163.0C745.8 162.9 746.2 162.5 744.4 162.3C742.6 162.1 737.1 161.3 733.7 161.5C730.3 161.7 723.3 163.5 721.5 163.8" stroke-width="1.1"/><path d="M759.0 174.0C759.2 174.8 760.4 177.5 760.5 179.0C760.6 180.5 759.6 183.2 759.5 184.0" stroke-width="1.0"/></g><path d="M746.0 160.5C747.1 159.2 749.0 157.8 750.5 157.5C752.0 157.2 753.5 158.0 755.0 158.6C756.5 159.2 758.2 160.0 759.5 161.0C760.8 162.0 762.5 163.1 763.0 164.5C763.5 165.9 762.9 168.0 762.6 169.5C762.3 171.0 761.8 172.2 761.0 173.5C760.2 174.8 759.1 176.7 758.0 177.5C756.9 178.3 755.8 178.8 754.5 178.6C753.2 178.4 751.8 177.3 750.5 176.6C749.2 175.9 747.8 175.5 746.6 174.5C745.5 173.5 744.0 172.1 743.6 170.5C743.2 168.9 743.6 166.7 744.0 165.0C744.4 163.3 744.9 161.8 746.0 160.5Z" fill="#62a8e1"/><ellipse cx="752.4" cy="167.6" rx="4.6" ry="5.2" fill="#4f98d8" transform="rotate(-20 752.4 167.6)"/><g fill="#ee7f7c"><path d="M737.2 235C737 250 736.8 285 737.2 301.5H758.4C758.6 292 759.8 280 759.6 266C759.4 252 758.6 243 758.4 235Z"/><path d="M736.9 237C736.7 231 736.9 227.5 737.3 225.4C737.7 224.4 738.5 224.4 738.7 225.6C739.0 229 739.2 232 739.1 237Z"/><path d="M741.2 237C741.0 231 741.2 227.5 741.6 225.4C742.0 224.4 742.8 224.4 743.0 225.6C743.3 229 743.5 232 743.4 237Z"/><path d="M745.8 237C745.6 231 745.8 227.5 746.2 225.4C746.6 224.4 747.4 224.4 747.6 225.6C747.9 229 748.1 232 748.0 237Z"/><path d="M750.9 237C750.7 231 750.9 227.5 751.3 225.4C751.7 224.4 752.5 224.4 752.7 225.6C753.0 229 753.2 232 753.1 237Z"/><path d="M755.6 237C755.4 231 755.6 227.5 756.0 225.4C756.4 224.4 757.2 224.4 757.4 225.6C757.7 229 757.9 232 757.8 237Z"/><path d="M737.2 300C737.3 306 737.5 310 737.9 312.5C738.3 313.5 739.0 313.5 739.2 312.1C739.5 309 739.8 305 739.9 300Z"/><path d="M741.7 300C741.8 306 742.0 310 742.4 314.5C742.8 315.5 743.5 315.5 743.7 314.1C744.0 309 744.3 305 744.4 300Z"/><path d="M746.9 300C747.0 306 747.2 310 747.6 315.2C748.0 316.2 748.7 316.2 748.9 314.8C749.2 309 749.5 305 749.6 300Z"/><path d="M752.0 300C752.1 306 752.3 310 752.7 314.8C753.1 315.8 753.8 315.8 754.0 314.4C754.3 309 754.6 305 754.7 300Z"/><path d="M756.3 300C756.4 306 756.6 310 757.0 315.6C757.4 316.6 758.1 316.6 758.3 315.2C758.6 309 758.9 305 759.0 300Z"/></g><g fill="none" stroke="#e16b69" stroke-width="1.1" stroke-opacity="0.75"><path d="M737.4 239.5H758.6"/><path d="M737.4 243.0H758.6"/><path d="M737.4 246.5H758.6"/><path d="M737.4 250.0H758.6"/><path d="M737.4 253.5H758.6"/><path d="M737.4 283.0H758.6"/><path d="M737.4 286.5H758.6"/><path d="M737.4 290.0H758.6"/><path d="M737.4 293.5H758.6"/><path d="M737.4 297.0H758.6"/></g><ellipse cx="748.1" cy="266.2" rx="4.9" ry="10.2" fill="#d56867"/><g fill="#f6cd7e"><path d="M732.2 351H761V401.5Q761 404.4 758 404.4H735.2Q732.2 404.4 732.2 401.5Z"/><rect x="732.8" y="335.0" width="1.7" height="17.0" rx="0.8"/><rect x="737.4" y="334.0" width="1.7" height="18.0" rx="0.8"/><rect x="742.0" y="332.2" width="1.7" height="19.8" rx="0.8"/><rect x="747.2" y="333.4" width="1.7" height="18.6" rx="0.8"/><rect x="752.4" y="333.2" width="1.7" height="18.8" rx="0.8"/><rect x="757.9" y="333.8" width="1.7" height="18.2" rx="0.8"/></g><circle cx="745.7" cy="388.8" r="8.8" fill="#d9ad5b"/><g fill="none" stroke="#d7a955" stroke-width="0.9" stroke-linecap="round"><path d="M736.5 380C739 374.5 745 372 750.5 373.2C754 374 756.5 377 757.6 380.5"/><path d="M739.5 376.2C743 372.4 748.5 371.2 753.5 373.6"/><path d="M755.5 378C757.4 380 758 383 757.6 385"/><path d="M741 357.5C742.5 355.5 745 355.8 746 357.5C747.5 355.6 750.5 356.2 751.5 358.2"/><path d="M740.2 360C743 358.6 747 361.5 750 359.8C752 358.8 754 359.4 755 360.6"/><path d="M741.5 362.6C744.5 363.8 748 362 751.5 363.2"/></g><circle cx="746" cy="470.6" r="25.3" fill="#a6d89f"/><circle cx="746" cy="470.6" r="24" fill="none" stroke="#9dd196" stroke-width="2.4"/><g transform="translate(745.3 475.4) rotate(22)"><path d="M-2.9 -10.5Q-3.2 -15.8 -8 -14.8A16.8 16.8 0 1 0 14.6 -8.3Q5.5 -12.5 2.9 -3.5V7A2.9 2.9 0 0 1 -2.9 7Z" fill="#8ec588"/></g><g fill="#8fc988"><circle cx="767.0" cy="472.3" r="0.8"/><circle cx="748.3" cy="493.4" r="0.9"/><circle cx="754.2" cy="457.0" r="0.9"/><circle cx="757.2" cy="458.3" r="1.0"/><circle cx="746.9" cy="452.9" r="0.8"/><circle cx="767.0" cy="474.7" r="0.9"/><circle cx="741.8" cy="449.5" r="1.0"/><circle cx="758.7" cy="463.7" r="1.0"/><circle cx="725.1" cy="478.2" r="1.0"/><circle cx="750.7" cy="492.7" r="0.8"/><circle cx="727.1" cy="459.6" r="1.0"/><circle cx="765.2" cy="461.4" r="1.1"/><circle cx="760.5" cy="453.3" r="1.1"/><circle cx="728.4" cy="462.4" r="0.7"/><circle cx="754.5" cy="455.4" r="0.8"/><circle cx="765.6" cy="478.9" r="1.1"/><circle cx="763.5" cy="481.5" r="0.8"/><circle cx="748.5" cy="449.3" r="0.7"/><circle cx="743.4" cy="457.6" r="1.0"/><circle cx="762.2" cy="468.6" r="1.1"/><circle cx="743.7" cy="476.5" r="0.9"/><circle cx="748.6" cy="474.5" r="1.0"/><circle cx="737.2" cy="491.3" r="1.1"/><circle cx="727.7" cy="468.3" r="0.9"/><circle cx="729.1" cy="464.0" r="1.1"/><circle cx="738.8" cy="492.2" r="0.9"/><circle cx="763.9" cy="472.9" r="0.9"/><circle cx="762.9" cy="477.3" r="0.9"/><circle cx="740.1" cy="458.3" r="1.0"/><circle cx="763.6" cy="477.6" r="1.1"/><circle cx="746.5" cy="466.9" r="0.9"/><circle cx="744.8" cy="457.8" r="0.8"/><circle cx="749.7" cy="460.0" r="0.7"/><circle cx="728.4" cy="478.2" r="0.7"/><circle cx="753.6" cy="457.4" r="1.0"/><circle cx="733.3" cy="453.1" r="0.9"/><circle cx="747.2" cy="478.5" r="0.9"/><circle cx="751.2" cy="462.2" r="0.8"/><circle cx="752.5" cy="453.4" r="1.0"/><circle cx="727.4" cy="482.5" r="0.7"/><circle cx="768.3" cy="471.3" r="1.0"/><circle cx="761.1" cy="469.4" r="1.1"/><circle cx="745.4" cy="449.6" r="0.9"/><circle cx="762.1" cy="477.9" r="0.8"/><circle cx="747.8" cy="466.1" r="1.1"/><circle cx="738.3" cy="449.9" r="1.1"/><circle cx="760.1" cy="460.3" r="0.7"/><circle cx="762.7" cy="463.9" r="0.8"/><circle cx="725.9" cy="473.5" r="0.8"/><circle cx="749.9" cy="461.9" r="1.0"/><circle cx="764.2" cy="460.9" r="1.0"/><circle cx="764.2" cy="471.5" r="1.0"/><circle cx="746.2" cy="469.6" r="0.7"/><circle cx="766.6" cy="480.1" r="1.0"/><circle cx="743.0" cy="456.7" r="0.7"/><circle cx="729.9" cy="458.2" r="0.8"/><circle cx="751.7" cy="453.4" r="0.8"/><circle cx="741.6" cy="456.3" r="1.0"/><circle cx="727.3" cy="466.3" r="0.7"/><circle cx="762.2" cy="455.3" r="0.8"/><circle cx="762.4" cy="458.4" r="0.8"/><circle cx="753.2" cy="453.3" r="1.0"/><circle cx="751.0" cy="452.5" r="1.0"/><circle cx="758.6" cy="486.5" r="0.7"/><circle cx="753.1" cy="464.0" r="0.7"/><circle cx="750.4" cy="463.9" r="1.0"/><circle cx="736.3" cy="451.9" r="1.1"/><circle cx="727.9" cy="460.8" r="0.7"/><circle cx="747.8" cy="454.3" r="1.0"/><circle cx="761.6" cy="483.0" r="1.1"/></g><path d="M915.6 139.0C913.2 139.0 910.7 139.2 908.5 140.3C906.3 141.4 904.0 143.4 902.5 145.5C901.0 147.6 900.0 150.6 899.4 153.0C898.8 155.4 899.2 158.4 898.8 160.0C898.4 161.6 897.0 161.2 896.8 162.5C896.6 163.8 896.9 166.6 897.4 168.0C897.9 169.4 899.4 169.9 900.0 171.0C900.6 172.1 900.6 173.2 901.0 174.5C901.4 175.8 902.2 177.1 902.6 178.5C903.0 179.9 903.4 181.5 903.6 183.0C903.8 184.5 904.1 185.9 904.0 187.5C903.9 189.1 904.5 190.1 902.8 192.3C901.1 194.5 896.9 198.4 893.8 200.6C890.7 202.8 887.3 203.7 884.4 205.3C881.5 206.9 878.4 208.4 876.2 210.1C874.1 211.8 872.7 213.5 871.5 215.5C870.3 217.5 869.7 219.7 869.2 222.2C868.7 224.7 868.7 227.4 868.7 230.4C868.8 233.4 869.4 237.3 869.5 240.0C869.6 242.7 869.6 244.2 869.3 246.5C869.0 248.8 868.8 250.2 867.9 253.5C867.0 256.8 865.2 262.2 864.2 266.5C863.2 270.8 862.5 274.9 862.0 279.5C861.5 284.1 861.7 289.4 861.3 294.4C860.9 299.4 860.1 305.5 859.5 309.3C858.9 313.1 858.3 314.8 857.6 317.0C856.9 319.2 856.5 320.7 855.3 322.5C854.1 324.3 851.7 325.7 850.6 327.6C849.5 329.5 849.2 331.4 848.8 334.0C848.4 336.6 847.6 341.4 848.3 343.5C849.0 345.6 851.4 346.0 853.0 346.6C854.6 347.2 856.3 347.4 858.0 347.2C859.7 347.0 861.4 346.4 863.0 345.6C864.6 344.8 866.7 344.0 867.6 342.6C868.5 341.2 868.1 339.0 868.3 337.0C868.5 335.0 868.4 332.7 868.6 330.6C868.9 328.5 869.1 328.1 869.8 324.2C870.5 320.3 871.5 313.0 872.6 307.4C873.7 301.8 875.1 296.6 876.3 290.7C877.5 284.8 878.6 278.5 880.0 272.1C881.4 265.8 883.5 254.7 884.7 252.6C885.9 250.5 886.7 256.9 887.4 259.5C888.1 262.1 888.5 264.8 888.7 268.4C888.9 272.0 889.2 277.1 888.7 281.4C888.2 285.7 886.9 290.1 885.6 294.4C884.3 298.7 882.1 302.8 880.9 307.4C879.7 312.0 878.9 316.6 878.3 322.0C877.6 327.4 876.8 334.7 877.0 340.0C877.2 345.3 878.5 349.9 879.6 354.0C880.7 358.1 882.1 359.2 883.7 364.5C885.3 369.8 887.9 379.8 889.0 386.0C890.1 392.2 890.5 397.3 890.3 402.0C890.1 406.7 888.4 410.3 888.0 414.4C887.6 418.5 887.8 421.8 888.2 426.6C888.6 431.4 889.4 438.6 890.2 443.0C891.0 447.4 892.0 449.0 893.0 452.7C894.0 456.4 895.5 461.5 896.2 465.4C896.9 469.3 896.9 473.1 897.0 476.0C897.1 478.9 897.2 480.7 896.6 483.0C896.0 485.3 894.6 487.7 893.5 490.0C892.4 492.3 890.7 495.0 889.8 497.0C888.9 499.0 888.2 500.6 888.2 502.0C888.2 503.4 888.7 504.5 890.0 505.2C891.3 505.9 893.8 506.1 896.0 506.2C898.2 506.3 901.1 506.4 903.0 505.6C904.9 504.8 906.5 503.4 907.5 501.5C908.5 499.6 908.9 496.6 909.3 494.0C909.6 491.4 909.7 488.9 909.6 485.9C909.5 482.9 908.8 480.1 908.5 475.8C908.2 471.5 907.9 465.1 908.0 460.0C908.1 454.9 909.0 450.6 909.4 445.3C909.8 440.0 910.6 433.1 910.4 428.0C910.2 422.9 908.6 419.3 908.0 415.0C907.4 410.7 906.7 407.0 906.8 402.2C906.9 397.4 908.0 392.1 908.6 386.0C909.2 379.9 909.9 371.3 910.6 365.6C911.3 359.9 912.1 355.8 912.6 352.0C913.1 348.2 913.4 345.7 913.7 343.0C914.0 340.3 914.3 337.8 914.6 336.0C914.9 334.2 915.3 332.2 915.6 332.2C915.9 332.2 916.3 334.2 916.6 336.0C916.9 337.8 917.2 340.3 917.5 343.0C917.8 345.7 918.1 348.2 918.6 352.0C919.1 355.8 919.9 359.9 920.6 365.6C921.3 371.3 922.0 379.9 922.6 386.0C923.2 392.1 924.3 397.4 924.4 402.2C924.5 407.0 923.8 410.7 923.2 415.0C922.6 419.3 921.0 422.9 920.8 428.0C920.6 433.1 921.4 440.0 921.8 445.3C922.2 450.6 923.1 454.9 923.2 460.0C923.4 465.1 923.0 471.5 922.7 475.8C922.4 480.1 921.7 482.9 921.6 485.9C921.5 488.9 921.6 491.4 921.9 494.0C922.3 496.6 922.7 499.6 923.7 501.5C924.8 503.4 926.3 504.8 928.2 505.6C930.1 506.4 933.0 506.3 935.2 506.2C937.4 506.1 939.9 505.9 941.2 505.2C942.5 504.5 943.0 503.4 943.0 502.0C943.0 500.6 942.3 499.0 941.4 497.0C940.5 495.0 938.8 492.3 937.7 490.0C936.6 487.7 935.2 485.3 934.6 483.0C934.0 480.7 934.1 478.9 934.2 476.0C934.3 473.1 934.3 469.3 935.0 465.4C935.7 461.5 937.2 456.4 938.2 452.7C939.2 449.0 940.2 447.4 941.0 443.0C941.8 438.6 942.6 431.4 943.0 426.6C943.4 421.8 943.6 418.5 943.2 414.4C942.9 410.3 941.1 406.7 940.9 402.0C940.7 397.3 941.1 392.2 942.2 386.0C943.3 379.8 945.9 369.8 947.5 364.5C949.1 359.2 950.5 358.1 951.6 354.0C952.7 349.9 954.0 345.3 954.2 340.0C954.4 334.7 953.6 327.4 952.9 322.0C952.3 316.6 951.5 312.0 950.3 307.4C949.1 302.8 946.9 298.7 945.6 294.4C944.3 290.1 943.0 285.7 942.5 281.4C942.0 277.1 942.3 272.0 942.5 268.4C942.7 264.8 943.1 262.1 943.8 259.5C944.5 256.9 945.3 250.5 946.5 252.6C947.7 254.7 949.8 265.8 951.2 272.1C952.6 278.5 953.7 284.8 954.9 290.7C956.1 296.6 957.5 301.8 958.6 307.4C959.7 313.0 960.7 320.3 961.4 324.2C962.1 328.1 962.4 328.5 962.6 330.6C962.9 332.7 962.7 335.0 962.9 337.0C963.1 339.0 962.7 341.2 963.6 342.6C964.5 344.0 966.6 344.8 968.2 345.6C969.8 346.4 971.5 347.0 973.2 347.2C974.9 347.4 976.6 347.2 978.2 346.6C979.8 346.0 982.2 345.6 982.9 343.5C983.6 341.4 982.8 336.6 982.4 334.0C982.0 331.4 981.7 329.5 980.6 327.6C979.5 325.7 977.1 324.3 975.9 322.5C974.7 320.7 974.3 319.2 973.6 317.0C972.9 314.8 972.3 313.1 971.7 309.3C971.1 305.5 970.3 299.4 969.9 294.4C969.5 289.4 969.7 284.1 969.2 279.5C968.7 274.9 968.0 270.8 967.0 266.5C966.0 262.2 964.2 256.8 963.3 253.5C962.5 250.2 962.2 248.8 961.9 246.5C961.6 244.2 961.6 242.7 961.7 240.0C961.8 237.3 962.5 233.4 962.5 230.4C962.5 227.4 962.5 224.7 962.0 222.2C961.5 219.7 960.9 217.5 959.7 215.5C958.5 213.5 957.1 211.8 955.0 210.1C952.9 208.4 949.7 206.9 946.8 205.3C943.9 203.7 940.5 202.8 937.4 200.6C934.3 198.4 930.1 194.5 928.4 192.3C926.7 190.1 927.3 189.1 927.2 187.5C927.1 185.9 927.4 184.5 927.6 183.0C927.8 181.5 928.2 179.9 928.6 178.5C929.0 177.1 929.8 175.8 930.2 174.5C930.6 173.2 930.6 172.1 931.2 171.0C931.8 169.9 933.3 169.4 933.8 168.0C934.3 166.6 934.6 163.8 934.4 162.5C934.2 161.2 932.8 161.6 932.4 160.0C932.0 158.4 932.4 155.4 931.8 153.0C931.2 150.6 930.2 147.6 928.7 145.5C927.2 143.4 924.9 141.4 922.7 140.3C920.5 139.2 918.0 139.0 915.6 139.0Z" fill="#4f6ca9"/><g fill="none" stroke="#4f6ca9" stroke-linecap="round"><path d="M849.9 343.0L850.1 353.4" stroke-width="3.2"/><path d="M981.3 343.0L981.1 353.4" stroke-width="3.2"/><path d="M855.0 346.0L855.4 355.0" stroke-width="3.3"/><path d="M976.2 346.0L975.8 355.0" stroke-width="3.3"/><path d="M860.3 345.0L861.1 352.4" stroke-width="3.3"/><path d="M970.9 345.0L970.1 352.4" stroke-width="3.3"/><path d="M865.5 341.0L866.7 348.2" stroke-width="3.0"/><path d="M965.7 341.0L964.5 348.2" stroke-width="3.0"/><path d="M851.2 330.2L844.6 338.0" stroke-width="3.5"/><path d="M980.0 330.2L986.6 338.0" stroke-width="3.5"/></g><g fill="none" stroke="#1c1c1c" stroke-width="1.1"><path d="M797 167.1H812L913.7 160.5"/><path d="M797 269.9H813L875.3 252.6"/><path d="M796.4 371.6H812.4L912.8 285.7"/><path d="M794.8 474.5H812.4L896.7 357.2"/></g><g fill="#0b0b14"><circle cx="913.7" cy="160.5" r="3.2"/><circle cx="875.3" cy="252.6" r="3.2"/><circle cx="912.8" cy="285.7" r="3.2"/><circle cx="896.8" cy="357.3" r="3.2"/></g>
</svg>
</body></html>
